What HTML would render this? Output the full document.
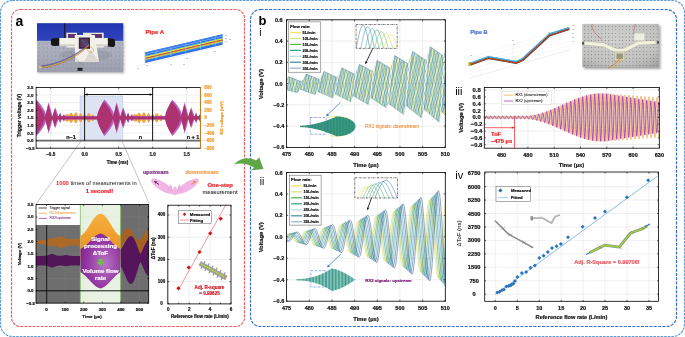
<!DOCTYPE html>
<html><head><meta charset="utf-8"><style>
html,body{margin:0;padding:0;background:#fff;}
svg{display:block;will-change:transform;}
text{font-family:"Liberation Sans",sans-serif;}
</style></head><body>
<svg width="685" height="337" viewBox="0 0 685 337">
<rect width="685" height="337" fill="#fff"/>
<rect x="0.5" y="0.5" width="684" height="336" rx="12" fill="none" stroke="#5b9bd5" stroke-width="1.2" stroke-dasharray="2.6 1"/>
<rect x="11.5" y="9.5" width="233" height="317" rx="9" fill="none" stroke="#ec6068" stroke-width="1.2" stroke-dasharray="3 1.1"/>
<rect x="250.5" y="9.5" width="426" height="317" rx="10" fill="none" stroke="#3a6ad0" stroke-width="1.2" stroke-dasharray="3 1.3"/>
<text x="19.5" y="21" font-size="14" font-weight="bold" fill="#000" text-anchor="middle" dominant-baseline="central" >a</text>
<text x="262.5" y="20.5" font-size="13" font-weight="bold" fill="#000" text-anchor="middle" dominant-baseline="central" >b</text>
<defs><linearGradient id="tblA" x1="0" y1="0" x2="0" y2="1"><stop offset="0" stop-color="#9096a6"/><stop offset="0.45" stop-color="#aeb2c0"/><stop offset="1" stop-color="#9ca0ae"/></linearGradient><linearGradient id="wallA" x1="0" y1="0" x2="0" y2="1"><stop offset="0" stop-color="#2236b0"/><stop offset="1" stop-color="#3044bc"/></linearGradient><filter id="shA" x="-10%" y="-10%" width="130%" height="130%"><feGaussianBlur stdDeviation="0.8"/></filter></defs>
<rect x="38.2" y="24.5" width="86.2" height="49" fill="#888" stroke="none" stroke-width="0.8" filter="url(#shA)" opacity="0.5"/>
<rect x="37" y="23.3" width="86.2" height="49" fill="url(#tblA)" stroke="none" stroke-width="0.8" />
<rect x="37" y="23.3" width="86.2" height="17.7" fill="url(#wallA)" stroke="none" stroke-width="0.8" />
<line x1="37" y1="41.2" x2="123.2" y2="41.2" stroke="#c0c4d0" stroke-width="0.6" />
<circle cx="39" cy="44" r="0.4" fill="#60646e"/>
<circle cx="43" cy="44" r="0.4" fill="#60646e"/>
<circle cx="47" cy="44" r="0.4" fill="#60646e"/>
<circle cx="51" cy="44" r="0.4" fill="#60646e"/>
<circle cx="55" cy="44" r="0.4" fill="#60646e"/>
<circle cx="59" cy="44" r="0.4" fill="#60646e"/>
<circle cx="63" cy="44" r="0.4" fill="#60646e"/>
<circle cx="67" cy="44" r="0.4" fill="#60646e"/>
<circle cx="71" cy="44" r="0.4" fill="#60646e"/>
<circle cx="75" cy="44" r="0.4" fill="#60646e"/>
<circle cx="79" cy="44" r="0.4" fill="#60646e"/>
<circle cx="83" cy="44" r="0.4" fill="#60646e"/>
<circle cx="87" cy="44" r="0.4" fill="#60646e"/>
<circle cx="91" cy="44" r="0.4" fill="#60646e"/>
<circle cx="95" cy="44" r="0.4" fill="#60646e"/>
<circle cx="99" cy="44" r="0.4" fill="#60646e"/>
<circle cx="103" cy="44" r="0.4" fill="#60646e"/>
<circle cx="107" cy="44" r="0.4" fill="#60646e"/>
<circle cx="111" cy="44" r="0.4" fill="#60646e"/>
<circle cx="115" cy="44" r="0.4" fill="#60646e"/>
<circle cx="119" cy="44" r="0.4" fill="#60646e"/>
<circle cx="123" cy="44" r="0.4" fill="#60646e"/>
<circle cx="39.8" cy="48" r="0.4" fill="#60646e"/>
<circle cx="43.8" cy="48" r="0.4" fill="#60646e"/>
<circle cx="47.8" cy="48" r="0.4" fill="#60646e"/>
<circle cx="51.8" cy="48" r="0.4" fill="#60646e"/>
<circle cx="55.8" cy="48" r="0.4" fill="#60646e"/>
<circle cx="59.8" cy="48" r="0.4" fill="#60646e"/>
<circle cx="63.8" cy="48" r="0.4" fill="#60646e"/>
<circle cx="67.8" cy="48" r="0.4" fill="#60646e"/>
<circle cx="71.8" cy="48" r="0.4" fill="#60646e"/>
<circle cx="75.8" cy="48" r="0.4" fill="#60646e"/>
<circle cx="79.8" cy="48" r="0.4" fill="#60646e"/>
<circle cx="83.8" cy="48" r="0.4" fill="#60646e"/>
<circle cx="87.8" cy="48" r="0.4" fill="#60646e"/>
<circle cx="91.8" cy="48" r="0.4" fill="#60646e"/>
<circle cx="95.8" cy="48" r="0.4" fill="#60646e"/>
<circle cx="99.8" cy="48" r="0.4" fill="#60646e"/>
<circle cx="103.8" cy="48" r="0.4" fill="#60646e"/>
<circle cx="107.8" cy="48" r="0.4" fill="#60646e"/>
<circle cx="111.8" cy="48" r="0.4" fill="#60646e"/>
<circle cx="115.8" cy="48" r="0.4" fill="#60646e"/>
<circle cx="119.8" cy="48" r="0.4" fill="#60646e"/>
<circle cx="123.8" cy="48" r="0.4" fill="#60646e"/>
<circle cx="39" cy="52" r="0.4" fill="#60646e"/>
<circle cx="43" cy="52" r="0.4" fill="#60646e"/>
<circle cx="47" cy="52" r="0.4" fill="#60646e"/>
<circle cx="51" cy="52" r="0.4" fill="#60646e"/>
<circle cx="55" cy="52" r="0.4" fill="#60646e"/>
<circle cx="59" cy="52" r="0.4" fill="#60646e"/>
<circle cx="63" cy="52" r="0.4" fill="#60646e"/>
<circle cx="67" cy="52" r="0.4" fill="#60646e"/>
<circle cx="71" cy="52" r="0.4" fill="#60646e"/>
<circle cx="75" cy="52" r="0.4" fill="#60646e"/>
<circle cx="79" cy="52" r="0.4" fill="#60646e"/>
<circle cx="83" cy="52" r="0.4" fill="#60646e"/>
<circle cx="87" cy="52" r="0.4" fill="#60646e"/>
<circle cx="91" cy="52" r="0.4" fill="#60646e"/>
<circle cx="95" cy="52" r="0.4" fill="#60646e"/>
<circle cx="99" cy="52" r="0.4" fill="#60646e"/>
<circle cx="103" cy="52" r="0.4" fill="#60646e"/>
<circle cx="107" cy="52" r="0.4" fill="#60646e"/>
<circle cx="111" cy="52" r="0.4" fill="#60646e"/>
<circle cx="115" cy="52" r="0.4" fill="#60646e"/>
<circle cx="119" cy="52" r="0.4" fill="#60646e"/>
<circle cx="123" cy="52" r="0.4" fill="#60646e"/>
<circle cx="39.8" cy="56" r="0.4" fill="#60646e"/>
<circle cx="43.8" cy="56" r="0.4" fill="#60646e"/>
<circle cx="47.8" cy="56" r="0.4" fill="#60646e"/>
<circle cx="51.8" cy="56" r="0.4" fill="#60646e"/>
<circle cx="55.8" cy="56" r="0.4" fill="#60646e"/>
<circle cx="59.8" cy="56" r="0.4" fill="#60646e"/>
<circle cx="63.8" cy="56" r="0.4" fill="#60646e"/>
<circle cx="67.8" cy="56" r="0.4" fill="#60646e"/>
<circle cx="71.8" cy="56" r="0.4" fill="#60646e"/>
<circle cx="75.8" cy="56" r="0.4" fill="#60646e"/>
<circle cx="79.8" cy="56" r="0.4" fill="#60646e"/>
<circle cx="83.8" cy="56" r="0.4" fill="#60646e"/>
<circle cx="87.8" cy="56" r="0.4" fill="#60646e"/>
<circle cx="91.8" cy="56" r="0.4" fill="#60646e"/>
<circle cx="95.8" cy="56" r="0.4" fill="#60646e"/>
<circle cx="99.8" cy="56" r="0.4" fill="#60646e"/>
<circle cx="103.8" cy="56" r="0.4" fill="#60646e"/>
<circle cx="107.8" cy="56" r="0.4" fill="#60646e"/>
<circle cx="111.8" cy="56" r="0.4" fill="#60646e"/>
<circle cx="115.8" cy="56" r="0.4" fill="#60646e"/>
<circle cx="119.8" cy="56" r="0.4" fill="#60646e"/>
<circle cx="123.8" cy="56" r="0.4" fill="#60646e"/>
<circle cx="39" cy="60" r="0.4" fill="#60646e"/>
<circle cx="43" cy="60" r="0.4" fill="#60646e"/>
<circle cx="47" cy="60" r="0.4" fill="#60646e"/>
<circle cx="51" cy="60" r="0.4" fill="#60646e"/>
<circle cx="55" cy="60" r="0.4" fill="#60646e"/>
<circle cx="59" cy="60" r="0.4" fill="#60646e"/>
<circle cx="63" cy="60" r="0.4" fill="#60646e"/>
<circle cx="67" cy="60" r="0.4" fill="#60646e"/>
<circle cx="71" cy="60" r="0.4" fill="#60646e"/>
<circle cx="75" cy="60" r="0.4" fill="#60646e"/>
<circle cx="79" cy="60" r="0.4" fill="#60646e"/>
<circle cx="83" cy="60" r="0.4" fill="#60646e"/>
<circle cx="87" cy="60" r="0.4" fill="#60646e"/>
<circle cx="91" cy="60" r="0.4" fill="#60646e"/>
<circle cx="95" cy="60" r="0.4" fill="#60646e"/>
<circle cx="99" cy="60" r="0.4" fill="#60646e"/>
<circle cx="103" cy="60" r="0.4" fill="#60646e"/>
<circle cx="107" cy="60" r="0.4" fill="#60646e"/>
<circle cx="111" cy="60" r="0.4" fill="#60646e"/>
<circle cx="115" cy="60" r="0.4" fill="#60646e"/>
<circle cx="119" cy="60" r="0.4" fill="#60646e"/>
<circle cx="123" cy="60" r="0.4" fill="#60646e"/>
<circle cx="39.8" cy="64" r="0.4" fill="#60646e"/>
<circle cx="43.8" cy="64" r="0.4" fill="#60646e"/>
<circle cx="47.8" cy="64" r="0.4" fill="#60646e"/>
<circle cx="51.8" cy="64" r="0.4" fill="#60646e"/>
<circle cx="55.8" cy="64" r="0.4" fill="#60646e"/>
<circle cx="59.8" cy="64" r="0.4" fill="#60646e"/>
<circle cx="63.8" cy="64" r="0.4" fill="#60646e"/>
<circle cx="67.8" cy="64" r="0.4" fill="#60646e"/>
<circle cx="71.8" cy="64" r="0.4" fill="#60646e"/>
<circle cx="75.8" cy="64" r="0.4" fill="#60646e"/>
<circle cx="79.8" cy="64" r="0.4" fill="#60646e"/>
<circle cx="83.8" cy="64" r="0.4" fill="#60646e"/>
<circle cx="87.8" cy="64" r="0.4" fill="#60646e"/>
<circle cx="91.8" cy="64" r="0.4" fill="#60646e"/>
<circle cx="95.8" cy="64" r="0.4" fill="#60646e"/>
<circle cx="99.8" cy="64" r="0.4" fill="#60646e"/>
<circle cx="103.8" cy="64" r="0.4" fill="#60646e"/>
<circle cx="107.8" cy="64" r="0.4" fill="#60646e"/>
<circle cx="111.8" cy="64" r="0.4" fill="#60646e"/>
<circle cx="115.8" cy="64" r="0.4" fill="#60646e"/>
<circle cx="119.8" cy="64" r="0.4" fill="#60646e"/>
<circle cx="123.8" cy="64" r="0.4" fill="#60646e"/>
<circle cx="39" cy="68" r="0.4" fill="#60646e"/>
<circle cx="43" cy="68" r="0.4" fill="#60646e"/>
<circle cx="47" cy="68" r="0.4" fill="#60646e"/>
<circle cx="51" cy="68" r="0.4" fill="#60646e"/>
<circle cx="55" cy="68" r="0.4" fill="#60646e"/>
<circle cx="59" cy="68" r="0.4" fill="#60646e"/>
<circle cx="63" cy="68" r="0.4" fill="#60646e"/>
<circle cx="67" cy="68" r="0.4" fill="#60646e"/>
<circle cx="71" cy="68" r="0.4" fill="#60646e"/>
<circle cx="75" cy="68" r="0.4" fill="#60646e"/>
<circle cx="79" cy="68" r="0.4" fill="#60646e"/>
<circle cx="83" cy="68" r="0.4" fill="#60646e"/>
<circle cx="87" cy="68" r="0.4" fill="#60646e"/>
<circle cx="91" cy="68" r="0.4" fill="#60646e"/>
<circle cx="95" cy="68" r="0.4" fill="#60646e"/>
<circle cx="99" cy="68" r="0.4" fill="#60646e"/>
<circle cx="103" cy="68" r="0.4" fill="#60646e"/>
<circle cx="107" cy="68" r="0.4" fill="#60646e"/>
<circle cx="111" cy="68" r="0.4" fill="#60646e"/>
<circle cx="115" cy="68" r="0.4" fill="#60646e"/>
<circle cx="119" cy="68" r="0.4" fill="#60646e"/>
<circle cx="123" cy="68" r="0.4" fill="#60646e"/>
<rect x="64.2" y="23.3" width="1" height="15.4" fill="#151515" stroke="none" stroke-width="0.8" />
<ellipse cx="86" cy="55" rx="26" ry="6" fill="#7a7e8c" opacity="0.25"/>
<rect x="66.4" y="32.7" width="10.6" height="14.9" fill="#e8e6de" stroke="none" stroke-width="0.8" />
<rect x="68" y="34" width="8" height="12" fill="#5e3470" stroke="none" stroke-width="0.8" />
<rect x="83" y="32.7" width="20.7" height="14.9" fill="#e8e6de" stroke="none" stroke-width="0.8" />
<rect x="91.5" y="34" width="10.5" height="12" fill="#5e3470" stroke="none" stroke-width="0.8" />
<rect x="59.2" y="38" width="48.7" height="7.8" fill="#f2f1ea" stroke="none" stroke-width="0.8" />
<rect x="59.2" y="44.3" width="48.7" height="1.5" fill="#d0cec4" stroke="none" stroke-width="0.8" />
<path d="M50.9,40 Q51,38.4 54,38.3 L59.2,38 L59.2,45.8 L54,46 Q51,45.8 50.9,44 Z" fill="#161616"/>
<path d="M107.9,38.3 L112,38.6 Q115,39 115,41 L115,45 Q115,47 112,47 L107.9,46.5 Z" fill="#161616"/>
<polygon points="74.7,35.1 94.8,35.1 99,61.8 75.2,61.8" fill="#f0efe8" stroke="none" stroke-width="0.5" />
<polygon points="90.5,50 99,61.8 84,61.8" fill="#dcdad0" stroke="none" stroke-width="0.5" />
<rect x="78.8" y="37.5" width="11.2" height="11.3" fill="#3a2240" stroke="none" stroke-width="0.8" />
<rect x="80.3" y="39" width="8.2" height="8.3" fill="#5a3a60" stroke="none" stroke-width="0.8" />
<path d="M82,40 C84,43 86,45 88,46" stroke="#30a060" stroke-width="0.5" fill="none"/>
<path d="M83,39.5 C85,42 87,44 89,45" stroke="#3060c0" stroke-width="0.5" fill="none"/>
<path d="M41,68 C56,66.5 76,58.5 89,45.6" stroke="#d03030" stroke-width="0.5" fill="none"/>
<path d="M41,67.58 C56,66.08 76,58.08 89,45.18" stroke="#f08a20" stroke-width="0.5" fill="none"/>
<path d="M41,67.16 C56,65.66 76,57.66 89,44.76" stroke="#e8d020" stroke-width="0.5" fill="none"/>
<path d="M41,66.74 C56,65.24 76,57.24 89,44.34" stroke="#40a040" stroke-width="0.5" fill="none"/>
<path d="M41,66.32 C56,64.82 76,56.82 89,43.92" stroke="#3060d0" stroke-width="0.5" fill="none"/>
<path d="M41,65.9 C56,64.4 76,56.4 89,43.5" stroke="#8030a0" stroke-width="0.5" fill="none"/>
<path d="M86.5,48 C88,53 92,53.5 93.6,51 C94,49 92,47 90,47" stroke="#e08030" stroke-width="0.5" fill="none"/>
<path d="M70,52 C74,56 78,62 84,66" stroke="#806050" stroke-width="0.35" fill="none"/>
<rect x="77.5" y="67.8" width="5" height="3" fill="#222" stroke="none" stroke-width="0.8" />
<rect x="39" y="66.6" width="3" height="1.8" fill="#e0c080" stroke="none" stroke-width="0.8" />
<text x="154.8" y="32" font-size="6" font-weight="bold" fill="#ee2222" stroke="#ee2222" stroke-width="0.2" text-anchor="middle" dominant-baseline="central" >Pipe A</text>
<line x1="144" y1="64.5" x2="222" y2="46" stroke="#d0d0d0" stroke-width="0.3" />
<line x1="144" y1="64.5" x2="135" y2="66.5" stroke="#d0d0d0" stroke-width="0.3" />
<polygon points="144.9,52.5 222.6,34.2 222.6,44.7 144.9,63" fill="#2f6fe8" stroke="none" stroke-width="0.5" />
<polygon points="144.9,54.2 222.6,35.9 222.6,36.4 144.9,54.7" fill="#9ad0f4" stroke="none" stroke-width="0.5" />
<polygon points="144.9,56 222.6,37.7 222.6,38.3 144.9,56.6" fill="#5cc8d8" stroke="none" stroke-width="0.5" />
<polygon points="144.9,56.6 222.6,38.3 222.6,39.6 144.9,57.9" fill="#ece83c" stroke="none" stroke-width="0.5" />
<polygon points="144.9,57.9 222.6,39.6 222.6,40.6 144.9,58.9" fill="#e8401a" stroke="none" stroke-width="0.5" />
<polygon points="144.9,58.9 222.6,40.6 222.6,41.7 144.9,60" fill="#f4cc30" stroke="none" stroke-width="0.5" />
<polygon points="144.9,60 222.6,41.7 222.6,42.3 144.9,60.6" fill="#7cd4a8" stroke="none" stroke-width="0.5" />
<polygon points="144.9,52.5 222.6,34.2 222.6,35.2 144.9,53.5" fill="#4a88f0" stroke="none" stroke-width="0.5" />
<line x1="156.1" y1="51.06" x2="156.1" y2="59.46" stroke="#70d8d8" stroke-width="0.7" />
<line x1="170.9" y1="47.58" x2="170.9" y2="55.98" stroke="#70d8d8" stroke-width="0.7" />
<line x1="185.7" y1="44.09" x2="185.7" y2="52.49" stroke="#70d8d8" stroke-width="0.7" />
<line x1="200.5" y1="40.61" x2="200.5" y2="49.01" stroke="#70d8d8" stroke-width="0.7" />
<line x1="215.3" y1="37.12" x2="215.3" y2="45.52" stroke="#70d8d8" stroke-width="0.7" />
<line x1="145.4" y1="54" x2="145.4" y2="62.5" stroke="#80d8c0" stroke-width="0.6" />
<rect x="225" y="35" width="2" height="0.6" fill="#999" stroke="none" stroke-width="0.8" />
<rect x="225" y="38.5" width="2" height="0.6" fill="#999" stroke="none" stroke-width="0.8" />
<rect x="225" y="41.5" width="2" height="0.6" fill="#999" stroke="none" stroke-width="0.8" />
<rect x="229" y="39" width="2" height="0.6" fill="#999" stroke="none" stroke-width="0.8" />
<rect x="146" y="65.5" width="2" height="0.6" fill="#999" stroke="none" stroke-width="0.8" />
<rect x="186" y="58" width="2" height="0.6" fill="#999" stroke="none" stroke-width="0.8" />
<rect x="170" y="64.5" width="2" height="0.6" fill="#999" stroke="none" stroke-width="0.8" />
<rect x="183" y="64.5" width="2" height="0.6" fill="#999" stroke="none" stroke-width="0.8" />
<rect x="214" y="51" width="2" height="0.6" fill="#999" stroke="none" stroke-width="0.8" />
<rect x="137" y="68.5" width="2" height="0.6" fill="#999" stroke="none" stroke-width="0.8" />
<line x1="50.7" y1="87.4" x2="50.7" y2="148.2" stroke="#dcdcdc" stroke-width="0.5" />
<line x1="84.7" y1="87.4" x2="84.7" y2="148.2" stroke="#dcdcdc" stroke-width="0.5" />
<line x1="118.7" y1="87.4" x2="118.7" y2="148.2" stroke="#dcdcdc" stroke-width="0.5" />
<line x1="152.7" y1="87.4" x2="152.7" y2="148.2" stroke="#dcdcdc" stroke-width="0.5" />
<line x1="186.7" y1="87.4" x2="186.7" y2="148.2" stroke="#dcdcdc" stroke-width="0.5" />
<line x1="36.1" y1="148.2" x2="200.4" y2="148.2" stroke="#dcdcdc" stroke-width="0.5" />
<line x1="36.1" y1="140.6" x2="200.4" y2="140.6" stroke="#dcdcdc" stroke-width="0.5" />
<line x1="36.1" y1="133" x2="200.4" y2="133" stroke="#dcdcdc" stroke-width="0.5" />
<line x1="36.1" y1="125.4" x2="200.4" y2="125.4" stroke="#dcdcdc" stroke-width="0.5" />
<line x1="36.1" y1="117.8" x2="200.4" y2="117.8" stroke="#dcdcdc" stroke-width="0.5" />
<line x1="36.1" y1="110.2" x2="200.4" y2="110.2" stroke="#dcdcdc" stroke-width="0.5" />
<line x1="36.1" y1="102.6" x2="200.4" y2="102.6" stroke="#dcdcdc" stroke-width="0.5" />
<line x1="36.1" y1="95" x2="200.4" y2="95" stroke="#dcdcdc" stroke-width="0.5" />
<line x1="36.1" y1="87.4" x2="200.4" y2="87.4" stroke="#dcdcdc" stroke-width="0.5" />
<rect x="80" y="96" width="42.8" height="44.5" fill="#dde3f2" stroke="#7080b0" stroke-width="0.4" stroke-dasharray="0.8 0.8"/>
<defs><clipPath id="cp1"><rect x="36.1" y="87.4" width="164.3" height="60.8"/></clipPath></defs>
<g clip-path="url(#cp1)">
<polygon points="36.1,116.28 36.33,116.28 36.57,116.28 36.8,116.28 37.04,116.28 37.27,116.28 37.51,116.28 37.74,116.28 37.98,116.28 38.21,116.28 38.45,116.28 38.68,116.28 38.92,116.28 39.15,116.28 39.39,116.28 39.62,116.28 39.86,116.28 40.09,116.28 40.32,116.28 40.56,116.28 40.79,116.28 41.03,116.28 41.26,116.28 41.5,116.28 41.73,116.28 41.97,116.28 42.2,116.28 42.44,116.28 42.67,116.28 42.91,116.28 43.14,116.28 43.38,116.28 43.61,116.28 43.85,116.28 44.08,116.28 44.31,116.28 44.55,116.28 44.78,116.28 45.02,116.28 45.25,116.28 45.49,116.28 45.72,116.28 45.96,116.28 46.19,116.28 46.43,116.28 46.66,116.28 46.9,116.28 47.13,116.28 47.37,116.28 47.6,116.28 47.84,116.28 48.07,116.28 48.31,116.28 48.54,116.28 48.77,116.28 49.01,116.28 49.24,116.28 49.48,116.28 49.71,116.28 49.95,116.28 50.18,116.28 50.42,116.28 50.65,116.28 50.89,116.28 51.12,116.28 51.36,116.28 51.59,116.28 51.83,116.28 52.06,116.28 52.3,116.28 52.53,116.28 52.76,116.28 53,116.28 53.23,116.28 53.47,116.28 53.7,116.28 53.94,116.28 54.17,116.28 54.41,116.28 54.64,116.28 54.88,116.28 55.11,116.28 55.35,116.28 55.58,116.28 55.82,116.28 56.05,116.28 56.29,116.28 56.52,116.28 56.75,116.28 56.99,116.28 57.22,116.28 57.46,116.28 57.69,116.28 57.93,116.28 58.16,116.28 58.4,116.28 58.63,116.28 58.87,116.28 59.1,116.28 59.34,116.28 59.57,116.28 59.81,116.28 60.04,116.28 60.28,116.28 60.51,116.28 60.75,116.28 60.98,116.28 61.21,116.28 61.45,116.28 61.68,116.28 61.92,116.28 62.15,116.28 62.39,116.28 62.62,116.28 62.86,116.28 63.09,116.28 63.33,116.28 63.56,116.28 63.8,116.28 64.03,116.28 64.27,116.28 64.5,116.28 64.74,116.11 64.97,115.54 65.2,115.09 65.44,114.73 65.67,114.47 65.91,114.28 66.14,114.18 66.38,114.15 66.61,114.2 66.85,114.33 67.08,114.3 67.32,114.21 67.55,114.16 67.79,114.15 68.02,114.19 68.26,114.27 68.49,114.4 68.73,114.57 68.96,114.79 69.19,115.06 69.43,114.8 69.66,114.2 69.9,113.72 70.13,113.33 70.37,113.03 70.6,112.81 70.84,112.68 71.07,112.63 71.31,112.66 71.54,112.78 71.78,112.97 72.01,113.25 72.25,113.62 72.48,114.08 72.72,114.65 72.95,114.9 73.18,115.07 73.42,115.31 73.65,115.63 73.89,115.63 74.12,114.82 74.36,114.15 74.59,113.61 74.83,113.17 75.06,112.83 75.3,112.57 75.53,112.41 75.77,112.33 76,112.34 76.24,112.44 76.47,112.62 76.71,112.89 76.94,113.25 77.18,113.71 77.41,114.28 77.64,114.97 77.88,115.82 78.11,116.28 78.35,116.28 78.58,116.28 78.82,116.28 79.05,115.57 79.29,114.88 79.52,114.33 79.76,113.91 79.99,113.59 80.23,113.38 80.46,113.26 80.7,113.25 80.93,113.32 81.17,113.5 81.4,113.78 81.63,114.17 81.87,114.67 82.1,115.3 82.34,116.11 82.57,116.28 82.81,116.28 83.04,116.26 83.28,115.66 83.51,115.18 83.75,114.8 83.98,114.52 84.22,114.32 84.45,114.2 84.69,114.15 84.92,114.19 85.16,114.3 85.39,114.49 85.62,114.77 85.86,115.13 86.09,115.59 86.33,116.18 86.56,116.28 86.8,116.03 87.03,115.34 87.27,114.78 87.5,114.33 87.74,113.96 87.97,113.67 88.21,113.45 88.44,113.31 88.68,113.25 88.91,113.25 89.15,113.33 89.38,113.47 89.61,113.69 89.85,113.99 90.08,114.37 90.32,114.84 90.55,115.42 90.79,116.12 91.02,116.28 91.26,116.25 91.49,115.73 91.73,115.31 91.96,114.99 92.2,114.74 92.43,114.57 92.67,114.48 92.9,114.46 93.14,114.5 93.37,114.62 93.61,114.82 93.84,115.09 94.07,115.44 94.31,115.89 94.54,116.28 94.78,116.28 95.01,116.28 95.25,116.28 95.48,116.28 95.72,116.28 95.95,116.28 96.19,116.28 96.42,116.28 96.66,116.28 96.89,116.28 97.13,116.28 97.36,116.28 97.6,116.28 97.83,116.28 98.06,116.28 98.3,116.28 98.53,116.28 98.77,116.28 99,116.28 99.24,116.28 99.47,116.28 99.71,116.28 99.94,116.28 100.18,116.28 100.41,116.28 100.65,116.28 100.88,116.28 101.12,116.28 101.35,116.28 101.59,116.28 101.82,116.28 102.05,116.28 102.29,116.28 102.52,116.28 102.76,116.28 102.99,116.28 103.23,116.28 103.46,116.28 103.7,116.28 103.93,116.28 104.17,116.28 104.4,116.28 104.64,116.28 104.87,116.28 105.11,116.28 105.34,116.28 105.58,116.28 105.81,116.28 106.04,116.28 106.28,116.28 106.51,116.28 106.75,116.28 106.98,116.28 107.22,116.28 107.45,116.28 107.69,116.28 107.92,116.28 108.16,116.28 108.39,116.28 108.63,116.28 108.86,116.28 109.1,116.28 109.33,116.28 109.57,116.28 109.8,116.28 110.03,116.28 110.27,116.28 110.5,116.28 110.74,116.28 110.97,116.28 111.21,116.28 111.44,116.28 111.68,116.28 111.91,116.28 112.15,116.28 112.38,116.28 112.62,116.28 112.85,116.28 113.09,116.28 113.32,116.28 113.56,116.28 113.79,116.28 114.03,116.28 114.26,116.28 114.49,116.28 114.73,116.28 114.96,116.28 115.2,116.28 115.43,116.28 115.67,116.28 115.9,116.28 116.14,116.28 116.37,116.28 116.61,116.28 116.84,116.28 117.08,116.28 117.31,116.28 117.55,116.28 117.78,116.28 118.02,116.28 118.25,116.28 118.48,116.28 118.72,116.28 118.95,116.28 119.19,116.28 119.42,116.28 119.66,116.28 119.89,116.28 120.13,116.28 120.36,116.28 120.6,116.28 120.83,116.28 121.07,116.28 121.3,116.28 121.54,116.28 121.77,116.28 122.01,116.28 122.24,116.28 122.47,116.28 122.71,116.28 122.94,116.28 123.18,116.28 123.41,116.28 123.65,116.28 123.88,116.28 124.12,116.28 124.35,116.28 124.59,116.28 124.82,116.28 125.06,116.28 125.29,116.28 125.53,116.28 125.76,116.28 126,116.28 126.23,116.28 126.47,116.28 126.7,116.28 126.93,116.28 127.17,116.28 127.4,116.28 127.64,116.28 127.87,116.28 128.11,116.28 128.34,116.28 128.58,116.28 128.81,116.28 129.05,116.28 129.28,116.28 129.52,116.28 129.75,116.28 129.99,116.28 130.22,116.28 130.46,116.28 130.69,116.28 130.92,116.28 131.16,116.28 131.39,116.28 131.63,116.28 131.86,116.28 132.1,116.28 132.33,116.28 132.57,116.28 132.8,115.94 133.04,115.4 133.27,114.98 133.51,114.65 133.74,114.41 133.98,114.25 134.21,114.16 134.45,114.16 134.68,114.23 134.91,114.39 135.15,114.27 135.38,114.19 135.62,114.15 135.85,114.16 136.09,114.21 136.32,114.31 136.56,114.45 136.79,114.63 137.03,114.87 137.26,115.15 137.5,114.61 137.73,114.05 137.97,113.59 138.2,113.23 138.44,112.96 138.67,112.77 138.9,112.66 139.14,112.63 139.37,112.69 139.61,112.82 139.84,113.04 140.08,113.34 140.31,113.74 140.55,114.23 140.78,114.82 141.02,114.94 141.25,115.13 141.49,115.39 141.72,115.73 141.96,115.38 142.19,114.62 142.43,113.99 142.66,113.47 142.9,113.06 143.13,112.74 143.36,112.52 143.6,112.38 143.83,112.33 144.07,112.36 144.3,112.48 144.54,112.69 144.77,112.98 145.01,113.37 145.24,113.86 145.48,114.47 145.71,115.2 145.95,116.1 146.18,116.28 146.42,116.28 146.65,116.28 146.89,116.17 147.12,115.35 147.35,114.71 147.59,114.2 147.82,113.8 148.06,113.52 148.29,113.33 148.53,113.25 148.76,113.26 149,113.37 149.23,113.57 149.47,113.88 149.7,114.3 149.94,114.84 150.17,115.51 150.41,116.28 150.64,116.28 150.88,116.28 151.11,116.07 151.34,115.51 151.58,115.06 151.81,114.71 152.05,114.45 152.28,114.27 152.52,114.18 152.75,114.15 152.99,114.21 153.22,114.34 153.46,114.56 153.69,114.86 153.93,115.25 154.16,115.75 154.4,116.28 154.63,116.28 154.87,115.82 155.1,115.17 155.33,114.64 155.57,114.21 155.8,113.86 156.04,113.6 156.27,113.41 156.51,113.29 156.74,113.24 156.98,113.27 157.21,113.36 157.45,113.53 157.68,113.77 157.92,114.09 158.15,114.5 158.39,115 158.62,115.6 158.86,116.28 159.09,116.28 159.32,116.09 159.56,115.6 159.79,115.21 160.03,114.91 160.26,114.69 160.5,114.54 160.73,114.47 160.97,114.46 161.2,114.53 161.44,114.67 161.67,114.89 161.91,115.18 162.14,115.56 162.38,116.04 162.61,116.28 162.85,116.28 163.08,116.28 163.32,116.28 163.55,116.28 163.78,116.28 164.02,116.28 164.25,116.28 164.49,116.28 164.72,116.28 164.96,116.28 165.19,116.28 165.43,116.28 165.66,116.28 165.9,116.28 166.13,116.28 166.37,116.28 166.6,116.28 166.84,116.28 167.07,116.28 167.31,116.28 167.54,116.28 167.77,116.28 168.01,116.28 168.24,116.28 168.48,116.28 168.71,116.28 168.95,116.28 169.18,116.28 169.42,116.28 169.65,116.28 169.89,116.28 170.12,116.28 170.36,116.28 170.59,116.28 170.83,116.28 171.06,116.28 171.3,116.28 171.53,116.28 171.76,116.28 172,116.28 172.23,116.28 172.47,116.28 172.7,116.28 172.94,116.28 173.17,116.28 173.41,116.28 173.64,116.28 173.88,116.28 174.11,116.28 174.35,116.28 174.58,116.28 174.82,116.28 175.05,116.28 175.29,116.28 175.52,116.28 175.75,116.28 175.99,116.28 176.22,116.28 176.46,116.28 176.69,116.28 176.93,116.28 177.16,116.28 177.4,116.28 177.63,116.28 177.87,116.28 178.1,116.28 178.34,116.28 178.57,116.28 178.81,116.28 179.04,116.28 179.28,116.28 179.51,116.28 179.75,116.28 179.98,116.28 180.21,116.28 180.45,116.28 180.68,116.28 180.92,116.28 181.15,116.28 181.39,116.28 181.62,116.28 181.86,116.28 182.09,116.28 182.33,116.28 182.56,116.28 182.8,116.28 183.03,116.28 183.27,116.28 183.5,116.28 183.74,116.28 183.97,116.28 184.2,116.28 184.44,116.28 184.67,116.28 184.91,116.28 185.14,116.28 185.38,116.28 185.61,116.28 185.85,116.28 186.08,116.28 186.32,116.28 186.55,116.28 186.79,116.28 187.02,116.28 187.26,116.28 187.49,116.28 187.73,116.28 187.96,116.28 188.19,116.28 188.43,116.28 188.66,116.28 188.9,116.28 189.13,116.28 189.37,116.28 189.6,116.28 189.84,116.28 190.07,116.28 190.31,116.28 190.54,116.28 190.78,116.28 191.01,116.28 191.25,116.28 191.48,116.28 191.72,116.28 191.95,116.28 192.19,116.28 192.42,116.28 192.65,116.28 192.89,116.28 193.12,116.28 193.36,116.28 193.59,116.28 193.83,116.28 194.06,116.28 194.3,116.28 194.53,116.28 194.77,116.28 195,116.28 195.24,116.28 195.47,116.28 195.71,116.28 195.94,116.28 196.18,116.28 196.41,116.28 196.64,116.28 196.88,116.28 197.11,116.28 197.35,116.28 197.58,116.28 197.82,116.28 198.05,116.28 198.29,116.28 198.52,116.28 198.76,116.28 198.99,116.28 199.23,116.28 199.46,116.28 199.7,116.28 199.93,116.28 200.17,116.28 200.4,116.28 200.4,119.32 200.17,119.32 199.93,119.32 199.7,119.32 199.46,119.32 199.23,119.32 198.99,119.32 198.76,119.32 198.52,119.32 198.29,119.32 198.05,119.32 197.82,119.32 197.58,119.32 197.35,119.32 197.11,119.32 196.88,119.32 196.64,119.32 196.41,119.32 196.18,119.32 195.94,119.32 195.71,119.32 195.47,119.32 195.24,119.32 195,119.32 194.77,119.32 194.53,119.32 194.3,119.32 194.06,119.32 193.83,119.32 193.59,119.32 193.36,119.32 193.12,119.32 192.89,119.32 192.65,119.32 192.42,119.32 192.19,119.32 191.95,119.32 191.72,119.32 191.48,119.32 191.25,119.32 191.01,119.32 190.78,119.32 190.54,119.32 190.31,119.32 190.07,119.32 189.84,119.32 189.6,119.32 189.37,119.32 189.13,119.32 188.9,119.32 188.66,119.32 188.43,119.32 188.19,119.32 187.96,119.32 187.73,119.32 187.49,119.32 187.26,119.32 187.02,119.32 186.79,119.32 186.55,119.32 186.32,119.32 186.08,119.32 185.85,119.32 185.61,119.32 185.38,119.32 185.14,119.32 184.91,119.32 184.67,119.32 184.44,119.32 184.2,119.32 183.97,119.32 183.74,119.32 183.5,119.32 183.27,119.32 183.03,119.32 182.8,119.32 182.56,119.32 182.33,119.32 182.09,119.32 181.86,119.32 181.62,119.32 181.39,119.32 181.15,119.32 180.92,119.32 180.68,119.32 180.45,119.32 180.21,119.32 179.98,119.32 179.75,119.32 179.51,119.32 179.28,119.32 179.04,119.32 178.81,119.32 178.57,119.32 178.34,119.32 178.1,119.32 177.87,119.32 177.63,119.32 177.4,119.32 177.16,119.32 176.93,119.32 176.69,119.32 176.46,119.32 176.22,119.32 175.99,119.32 175.75,119.32 175.52,119.32 175.29,119.32 175.05,119.32 174.82,119.32 174.58,119.32 174.35,119.32 174.11,119.32 173.88,119.32 173.64,119.32 173.41,119.32 173.17,119.32 172.94,119.32 172.7,119.32 172.47,119.32 172.23,119.32 172,119.32 171.76,119.32 171.53,119.32 171.3,119.32 171.06,119.32 170.83,119.32 170.59,119.32 170.36,119.32 170.12,119.32 169.89,119.32 169.65,119.32 169.42,119.32 169.18,119.32 168.95,119.32 168.71,119.32 168.48,119.32 168.24,119.32 168.01,119.32 167.77,119.32 167.54,119.32 167.31,119.32 167.07,119.32 166.84,119.32 166.6,119.32 166.37,119.32 166.13,119.32 165.9,119.32 165.66,119.32 165.43,119.32 165.19,119.32 164.96,119.32 164.72,119.32 164.49,119.32 164.25,119.32 164.02,119.32 163.78,119.32 163.55,119.32 163.32,119.32 163.08,119.32 162.85,119.32 162.61,119.32 162.38,119.56 162.14,120.04 161.91,120.42 161.67,120.71 161.44,120.93 161.2,121.07 160.97,121.14 160.73,121.13 160.5,121.06 160.26,120.91 160.03,120.69 159.79,120.39 159.56,120 159.32,119.51 159.09,119.32 158.86,119.32 158.62,120 158.39,120.6 158.15,121.1 157.92,121.51 157.68,121.83 157.45,122.07 157.21,122.24 156.98,122.33 156.74,122.36 156.51,122.31 156.27,122.19 156.04,122 155.8,121.74 155.57,121.39 155.33,120.96 155.1,120.43 154.87,119.78 154.63,119.32 154.4,119.32 154.16,119.85 153.93,120.35 153.69,120.74 153.46,121.04 153.22,121.26 152.99,121.39 152.75,121.45 152.52,121.42 152.28,121.33 152.05,121.15 151.81,120.89 151.58,120.54 151.34,120.09 151.11,119.53 150.88,119.32 150.64,119.32 150.41,119.32 150.17,120.09 149.94,120.76 149.7,121.3 149.47,121.72 149.23,122.03 149,122.23 148.76,122.34 148.53,122.35 148.29,122.27 148.06,122.08 147.82,121.8 147.59,121.4 147.35,120.89 147.12,120.25 146.89,119.43 146.65,119.32 146.42,119.32 146.18,119.32 145.95,119.5 145.71,120.4 145.48,121.13 145.24,121.74 145.01,122.23 144.77,122.62 144.54,122.91 144.3,123.12 144.07,123.24 143.83,123.27 143.6,123.22 143.36,123.08 143.13,122.86 142.9,122.54 142.66,122.13 142.43,121.61 142.19,120.98 141.96,120.22 141.72,119.87 141.49,120.21 141.25,120.47 141.02,120.66 140.78,120.78 140.55,121.37 140.31,121.86 140.08,122.26 139.84,122.56 139.61,122.78 139.37,122.91 139.14,122.97 138.9,122.94 138.67,122.83 138.44,122.64 138.2,122.37 137.97,122.01 137.73,121.55 137.5,120.99 137.26,120.45 137.03,120.73 136.79,120.97 136.56,121.15 136.32,121.29 136.09,121.39 135.85,121.44 135.62,121.45 135.38,121.41 135.15,121.33 134.91,121.21 134.68,121.37 134.45,121.44 134.21,121.44 133.98,121.35 133.74,121.19 133.51,120.95 133.27,120.62 133.04,120.2 132.8,119.66 132.57,119.32 132.33,119.32 132.1,119.32 131.86,119.32 131.63,119.32 131.39,119.32 131.16,119.32 130.92,119.32 130.69,119.32 130.46,119.32 130.22,119.32 129.99,119.32 129.75,119.32 129.52,119.32 129.28,119.32 129.05,119.32 128.81,119.32 128.58,119.32 128.34,119.32 128.11,119.32 127.87,119.32 127.64,119.32 127.4,119.32 127.17,119.32 126.93,119.32 126.7,119.32 126.47,119.32 126.23,119.32 126,119.32 125.76,119.32 125.53,119.32 125.29,119.32 125.06,119.32 124.82,119.32 124.59,119.32 124.35,119.32 124.12,119.32 123.88,119.32 123.65,119.32 123.41,119.32 123.18,119.32 122.94,119.32 122.71,119.32 122.47,119.32 122.24,119.32 122.01,119.32 121.77,119.32 121.54,119.32 121.3,119.32 121.07,119.32 120.83,119.32 120.6,119.32 120.36,119.32 120.13,119.32 119.89,119.32 119.66,119.32 119.42,119.32 119.19,119.32 118.95,119.32 118.72,119.32 118.48,119.32 118.25,119.32 118.02,119.32 117.78,119.32 117.55,119.32 117.31,119.32 117.08,119.32 116.84,119.32 116.61,119.32 116.37,119.32 116.14,119.32 115.9,119.32 115.67,119.32 115.43,119.32 115.2,119.32 114.96,119.32 114.73,119.32 114.49,119.32 114.26,119.32 114.03,119.32 113.79,119.32 113.56,119.32 113.32,119.32 113.09,119.32 112.85,119.32 112.62,119.32 112.38,119.32 112.15,119.32 111.91,119.32 111.68,119.32 111.44,119.32 111.21,119.32 110.97,119.32 110.74,119.32 110.5,119.32 110.27,119.32 110.03,119.32 109.8,119.32 109.57,119.32 109.33,119.32 109.1,119.32 108.86,119.32 108.63,119.32 108.39,119.32 108.16,119.32 107.92,119.32 107.69,119.32 107.45,119.32 107.22,119.32 106.98,119.32 106.75,119.32 106.51,119.32 106.28,119.32 106.04,119.32 105.81,119.32 105.58,119.32 105.34,119.32 105.11,119.32 104.87,119.32 104.64,119.32 104.4,119.32 104.17,119.32 103.93,119.32 103.7,119.32 103.46,119.32 103.23,119.32 102.99,119.32 102.76,119.32 102.52,119.32 102.29,119.32 102.05,119.32 101.82,119.32 101.59,119.32 101.35,119.32 101.12,119.32 100.88,119.32 100.65,119.32 100.41,119.32 100.18,119.32 99.94,119.32 99.71,119.32 99.47,119.32 99.24,119.32 99,119.32 98.77,119.32 98.53,119.32 98.3,119.32 98.06,119.32 97.83,119.32 97.6,119.32 97.36,119.32 97.13,119.32 96.89,119.32 96.66,119.32 96.42,119.32 96.19,119.32 95.95,119.32 95.72,119.32 95.48,119.32 95.25,119.32 95.01,119.32 94.78,119.32 94.54,119.32 94.31,119.71 94.07,120.16 93.84,120.51 93.61,120.78 93.37,120.98 93.14,121.1 92.9,121.14 92.67,121.12 92.43,121.03 92.2,120.86 91.96,120.61 91.73,120.29 91.49,119.87 91.26,119.35 91.02,119.32 90.79,119.48 90.55,120.18 90.32,120.76 90.08,121.23 89.85,121.61 89.61,121.91 89.38,122.13 89.15,122.27 88.91,122.35 88.68,122.35 88.44,122.29 88.21,122.15 87.97,121.93 87.74,121.64 87.5,121.27 87.27,120.82 87.03,120.26 86.8,119.57 86.56,119.32 86.33,119.42 86.09,120.01 85.86,120.47 85.62,120.83 85.39,121.11 85.16,121.3 84.92,121.41 84.69,121.45 84.45,121.4 84.22,121.28 83.98,121.08 83.75,120.8 83.51,120.42 83.28,119.94 83.04,119.34 82.81,119.32 82.57,119.32 82.34,119.49 82.1,120.3 81.87,120.93 81.63,121.43 81.4,121.82 81.17,122.1 80.93,122.28 80.7,122.35 80.46,122.34 80.23,122.22 79.99,122.01 79.76,121.69 79.52,121.27 79.29,120.72 79.05,120.03 78.82,119.32 78.58,119.32 78.35,119.32 78.11,119.32 77.88,119.78 77.64,120.63 77.41,121.32 77.18,121.89 76.94,122.35 76.71,122.71 76.47,122.98 76.24,123.16 76,123.26 75.77,123.27 75.53,123.19 75.3,123.03 75.06,122.77 74.83,122.43 74.59,121.99 74.36,121.45 74.12,120.78 73.89,119.97 73.65,119.97 73.42,120.29 73.18,120.53 72.95,120.7 72.72,120.95 72.48,121.52 72.25,121.98 72.01,122.35 71.78,122.63 71.54,122.82 71.31,122.94 71.07,122.97 70.84,122.92 70.6,122.79 70.37,122.57 70.13,122.27 69.9,121.88 69.66,121.4 69.43,120.8 69.19,120.54 68.96,120.81 68.73,121.03 68.49,121.2 68.26,121.33 68.02,121.41 67.79,121.45 67.55,121.44 67.32,121.39 67.08,121.3 66.85,121.27 66.61,121.4 66.38,121.45 66.14,121.42 65.91,121.32 65.67,121.13 65.44,120.87 65.2,120.51 64.97,120.06 64.74,119.49 64.5,119.32 64.27,119.32 64.03,119.32 63.8,119.32 63.56,119.32 63.33,119.32 63.09,119.32 62.86,119.32 62.62,119.32 62.39,119.32 62.15,119.32 61.92,119.32 61.68,119.32 61.45,119.32 61.21,119.32 60.98,119.32 60.75,119.32 60.51,119.32 60.28,119.32 60.04,119.32 59.81,119.32 59.57,119.32 59.34,119.32 59.1,119.32 58.87,119.32 58.63,119.32 58.4,119.32 58.16,119.32 57.93,119.32 57.69,119.32 57.46,119.32 57.22,119.32 56.99,119.32 56.75,119.32 56.52,119.32 56.29,119.32 56.05,119.32 55.82,119.32 55.58,119.32 55.35,119.32 55.11,119.32 54.88,119.32 54.64,119.32 54.41,119.32 54.17,119.32 53.94,119.32 53.7,119.32 53.47,119.32 53.23,119.32 53,119.32 52.76,119.32 52.53,119.32 52.3,119.32 52.06,119.32 51.83,119.32 51.59,119.32 51.36,119.32 51.12,119.32 50.89,119.32 50.65,119.32 50.42,119.32 50.18,119.32 49.95,119.32 49.71,119.32 49.48,119.32 49.24,119.32 49.01,119.32 48.77,119.32 48.54,119.32 48.31,119.32 48.07,119.32 47.84,119.32 47.6,119.32 47.37,119.32 47.13,119.32 46.9,119.32 46.66,119.32 46.43,119.32 46.19,119.32 45.96,119.32 45.72,119.32 45.49,119.32 45.25,119.32 45.02,119.32 44.78,119.32 44.55,119.32 44.31,119.32 44.08,119.32 43.85,119.32 43.61,119.32 43.38,119.32 43.14,119.32 42.91,119.32 42.67,119.32 42.44,119.32 42.2,119.32 41.97,119.32 41.73,119.32 41.5,119.32 41.26,119.32 41.03,119.32 40.79,119.32 40.56,119.32 40.32,119.32 40.09,119.32 39.86,119.32 39.62,119.32 39.39,119.32 39.15,119.32 38.92,119.32 38.68,119.32 38.45,119.32 38.21,119.32 37.98,119.32 37.74,119.32 37.51,119.32 37.27,119.32 37.04,119.32 36.8,119.32 36.57,119.32 36.33,119.32 36.1,119.32" fill="#f2a23a" stroke="none" stroke-width="0.5" />
<polygon points="36.1,100.08 36.33,99.7 36.57,99.72 36.8,99.98 37.04,100.23 37.27,100.49 37.51,100.75 37.74,101.02 37.98,101.29 38.21,101.56 38.45,101.83 38.68,102.11 38.92,102.39 39.15,102.67 39.39,102.96 39.62,103.25 39.86,103.54 40.09,103.84 40.32,104.15 40.56,104.45 40.79,104.77 41.03,105.08 41.26,105.41 41.5,105.74 41.73,106.07 41.97,106.41 42.2,106.76 42.44,107.12 42.67,107.48 42.91,107.85 43.14,108.23 43.38,108.63 43.61,109.03 43.85,109.45 44.08,109.88 44.31,110.33 44.55,110.79 44.78,111.28 45.02,111.8 45.25,112.34 45.49,112.92 45.72,113.56 45.96,113.79 46.19,112.73 46.43,111.67 46.66,110.63 46.9,109.6 47.13,108.57 47.37,107.54 47.6,106.53 47.84,105.52 48.07,104.51 48.31,103.5 48.54,102.5 48.77,102.4 49.01,103.24 49.24,104.08 49.48,104.92 49.71,105.77 49.95,106.62 50.18,107.47 50.42,108.33 50.65,109.19 50.89,110.06 51.12,110.93 51.36,111.8 51.59,112.69 51.83,113.58 52.06,114.48 52.3,115.4 52.53,115.98 52.76,115.41 53,114.57 53.23,113.75 53.47,112.94 53.7,112.14 53.94,111.34 54.17,110.54 54.41,109.76 54.64,108.97 54.88,108.19 55.11,107.41 55.35,107.59 55.58,108.23 55.82,108.86 56.05,109.51 56.29,110.15 56.52,110.8 56.75,111.45 56.99,112.1 57.22,112.76 57.46,113.42 57.69,114.09 57.93,114.76 58.16,115.44 58.4,115.98 58.63,115.98 58.87,115.8 59.1,115.24 59.34,114.66 59.57,114.06 59.81,113.45 60.04,112.82 60.28,112.48 60.51,113.12 60.75,113.74 60.98,114.35 61.21,114.94 61.45,115.51 61.68,115.98 61.92,115.98 62.15,115.98 62.39,115.98 62.62,115.98 62.86,115.93 63.09,115.51 63.33,115.07 63.56,114.63 63.8,114.17 64.03,113.99 64.27,114.45 64.5,114.9 64.74,115.34 64.97,115.76 65.2,115.98 65.44,115.98 65.67,115.98 65.91,115.98 66.14,115.98 66.38,115.98 66.61,115.98 66.85,115.98 67.08,115.98 67.32,115.98 67.55,115.98 67.79,115.98 68.02,115.98 68.26,115.98 68.49,115.98 68.73,115.98 68.96,115.98 69.19,115.98 69.43,115.98 69.66,115.98 69.9,115.98 70.13,115.98 70.37,115.98 70.6,115.98 70.84,115.98 71.07,115.98 71.31,115.98 71.54,115.98 71.78,115.98 72.01,115.98 72.25,115.98 72.48,115.98 72.72,115.98 72.95,115.98 73.18,115.98 73.42,115.98 73.65,115.98 73.89,115.98 74.12,115.98 74.36,115.98 74.59,115.98 74.83,115.98 75.06,115.98 75.3,115.98 75.53,115.98 75.77,115.98 76,115.98 76.24,115.98 76.47,115.98 76.71,115.98 76.94,115.98 77.18,115.98 77.41,115.98 77.64,115.98 77.88,115.98 78.11,115.98 78.35,115.98 78.58,115.98 78.82,115.98 79.05,115.98 79.29,115.98 79.52,115.98 79.76,115.98 79.99,115.98 80.23,115.98 80.46,115.98 80.7,115.98 80.93,115.98 81.17,115.98 81.4,115.98 81.63,115.98 81.87,115.98 82.1,115.98 82.34,115.98 82.57,115.98 82.81,115.98 83.04,115.98 83.28,115.98 83.51,115.98 83.75,115.98 83.98,115.98 84.22,115.98 84.45,115.98 84.69,115.98 84.92,115.98 85.16,115.98 85.39,115.98 85.62,115.98 85.86,115.98 86.09,115.98 86.33,115.98 86.56,115.98 86.8,115.98 87.03,115.98 87.27,115.98 87.5,115.98 87.74,115.98 87.97,115.98 88.21,115.98 88.44,115.98 88.68,115.98 88.91,115.98 89.15,115.98 89.38,115.98 89.61,115.98 89.85,115.98 90.08,115.98 90.32,115.98 90.55,115.98 90.79,115.98 91.02,115.98 91.26,115.98 91.49,115.98 91.73,115.98 91.96,115.98 92.2,115.98 92.43,115.98 92.67,115.98 92.9,115.98 93.14,115.98 93.37,115.98 93.61,115.98 93.84,115.98 94.07,115.98 94.31,115.98 94.54,115.98 94.78,115.98 95.01,115.98 95.25,115.98 95.48,115.98 95.72,115.98 95.95,115.98 96.19,115.98 96.42,115.98 96.66,115.98 96.89,115.98 97.13,115.98 97.36,115.98 97.6,115.98 97.83,115.54 98.06,114.25 98.3,113.22 98.53,112.33 98.77,111.52 99,110.78 99.24,110.09 99.47,109.44 99.71,108.82 99.94,108.23 100.18,107.66 100.41,107.11 100.65,106.58 100.88,106.06 101.12,105.56 101.35,105.08 101.59,104.6 101.82,104.14 102.05,103.69 102.29,103.24 102.52,102.81 102.76,102.38 102.99,101.96 103.23,101.55 103.46,101.15 103.7,100.75 103.93,100.36 104.17,99.97 104.4,99.59 104.64,99.79 104.87,100.05 105.11,100.31 105.34,100.57 105.58,100.83 105.81,101.1 106.04,101.36 106.28,101.63 106.51,101.91 106.75,102.19 106.98,102.47 107.22,102.75 107.45,103.04 107.69,103.33 107.92,103.63 108.16,103.93 108.39,104.23 108.63,104.54 108.86,104.86 109.1,105.18 109.33,105.5 109.57,105.83 109.8,106.17 110.03,106.51 110.27,106.86 110.5,107.22 110.74,107.59 110.97,107.96 111.21,108.35 111.44,108.74 111.68,109.15 111.91,109.57 112.15,110.01 112.38,110.46 112.62,110.93 112.85,111.43 113.09,111.95 113.32,112.5 113.56,113.1 113.79,113.75 114.03,113.49 114.26,112.43 114.49,111.38 114.73,110.33 114.96,109.3 115.2,108.27 115.43,107.25 115.67,106.24 115.9,105.23 116.14,104.22 116.37,103.22 116.61,102.22 116.84,102.64 117.08,103.48 117.31,104.32 117.55,105.17 117.78,106.01 118.02,106.86 118.25,107.72 118.48,108.58 118.72,109.44 118.95,110.31 119.19,111.18 119.42,112.06 119.66,112.94 119.89,113.84 120.13,114.74 120.36,115.66 120.6,115.98 120.83,115.17 121.07,114.34 121.3,113.52 121.54,112.71 121.77,111.91 122.01,111.11 122.24,110.32 122.47,109.53 122.71,108.75 122.94,107.97 123.18,107.19 123.41,107.77 123.65,108.41 123.88,109.05 124.12,109.69 124.35,110.34 124.59,110.98 124.82,111.63 125.06,112.29 125.29,112.95 125.53,113.61 125.76,114.28 126,114.96 126.23,115.64 126.47,115.98 126.7,115.98 126.93,115.65 127.17,115.08 127.4,114.49 127.64,113.89 127.87,113.27 128.11,112.64 128.34,112.66 128.58,113.3 128.81,113.92 129.05,114.52 129.28,115.11 129.52,115.67 129.75,115.98 129.99,115.98 130.22,115.98 130.46,115.98 130.69,115.98 130.92,115.81 131.16,115.38 131.39,114.95 131.63,114.5 131.86,114.04 132.1,114.12 132.33,114.58 132.57,115.03 132.8,115.46 133.04,115.88 133.27,115.98 133.51,115.98 133.74,115.98 133.98,115.98 134.21,115.98 134.45,115.98 134.68,115.98 134.91,115.98 135.15,115.98 135.38,115.98 135.62,115.98 135.85,115.98 136.09,115.98 136.32,115.98 136.56,115.98 136.79,115.98 137.03,115.98 137.26,115.98 137.5,115.98 137.73,115.98 137.97,115.98 138.2,115.98 138.44,115.98 138.67,115.98 138.9,115.98 139.14,115.98 139.37,115.98 139.61,115.98 139.84,115.98 140.08,115.98 140.31,115.98 140.55,115.98 140.78,115.98 141.02,115.98 141.25,115.98 141.49,115.98 141.72,115.98 141.96,115.98 142.19,115.98 142.43,115.98 142.66,115.98 142.9,115.98 143.13,115.98 143.36,115.98 143.6,115.98 143.83,115.98 144.07,115.98 144.3,115.98 144.54,115.98 144.77,115.98 145.01,115.98 145.24,115.98 145.48,115.98 145.71,115.98 145.95,115.98 146.18,115.98 146.42,115.98 146.65,115.98 146.89,115.98 147.12,115.98 147.35,115.98 147.59,115.98 147.82,115.98 148.06,115.98 148.29,115.98 148.53,115.98 148.76,115.98 149,115.98 149.23,115.98 149.47,115.98 149.7,115.98 149.94,115.98 150.17,115.98 150.41,115.98 150.64,115.98 150.88,115.98 151.11,115.98 151.34,115.98 151.58,115.98 151.81,115.98 152.05,115.98 152.28,115.98 152.52,115.98 152.75,115.98 152.99,115.98 153.22,115.98 153.46,115.98 153.69,115.98 153.93,115.98 154.16,115.98 154.4,115.98 154.63,115.98 154.87,115.98 155.1,115.98 155.33,115.98 155.57,115.98 155.8,115.98 156.04,115.98 156.27,115.98 156.51,115.98 156.74,115.98 156.98,115.98 157.21,115.98 157.45,115.98 157.68,115.98 157.92,115.98 158.15,115.98 158.39,115.98 158.62,115.98 158.86,115.98 159.09,115.98 159.32,115.98 159.56,115.98 159.79,115.98 160.03,115.98 160.26,115.98 160.5,115.98 160.73,115.98 160.97,115.98 161.2,115.98 161.44,115.98 161.67,115.98 161.91,115.98 162.14,115.98 162.38,115.98 162.61,115.98 162.85,115.98 163.08,115.98 163.32,115.98 163.55,115.98 163.78,115.98 164.02,115.98 164.25,115.98 164.49,115.98 164.72,115.98 164.96,115.98 165.19,115.98 165.43,115.98 165.66,115.98 165.9,115.13 166.13,113.94 166.37,112.95 166.6,112.09 166.84,111.31 167.07,110.58 167.31,109.9 167.54,109.26 167.77,108.65 168.01,108.06 168.24,107.5 168.48,106.95 168.71,106.43 168.95,105.92 169.18,105.42 169.42,104.94 169.65,104.47 169.89,104.01 170.12,103.56 170.36,103.12 170.59,102.69 170.83,102.26 171.06,101.84 171.3,101.43 171.53,101.03 171.76,100.64 172,100.25 172.23,99.86 172.47,99.61 172.7,99.87 172.94,100.12 173.17,100.38 173.41,100.64 173.64,100.91 173.88,101.17 174.11,101.44 174.35,101.71 174.58,101.99 174.82,102.27 175.05,102.55 175.29,102.83 175.52,103.12 175.75,103.42 175.99,103.71 176.22,104.02 176.46,104.32 176.69,104.63 176.93,104.95 177.16,105.27 177.4,105.59 177.63,105.93 177.87,106.26 178.1,106.61 178.34,106.96 178.57,107.32 178.81,107.69 179.04,108.07 179.28,108.46 179.51,108.86 179.75,109.27 179.98,109.69 180.21,110.13 180.45,110.59 180.68,111.07 180.92,111.57 181.15,112.1 181.39,112.67 181.62,113.28 181.86,113.95 182.09,113.18 182.33,112.12 182.56,111.08 182.8,110.04 183.03,109.01 183.27,107.98 183.5,106.96 183.74,105.95 183.97,104.94 184.2,103.93 184.44,102.93 184.67,102.04 184.91,102.88 185.14,103.72 185.38,104.56 185.61,105.41 185.85,106.26 186.08,107.11 186.32,107.96 186.55,108.82 186.79,109.69 187.02,110.55 187.26,111.43 187.49,112.31 187.73,113.2 187.96,114.09 188.19,115 188.43,115.93 188.66,115.77 188.9,114.93 189.13,114.1 189.37,113.29 189.6,112.48 189.84,111.68 190.07,110.88 190.31,110.09 190.54,109.31 190.78,108.52 191.01,107.74 191.25,107.32 191.48,107.95 191.72,108.59 191.95,109.23 192.19,109.87 192.42,110.52 192.65,111.17 192.89,111.82 193.12,112.48 193.36,113.14 193.59,113.8 193.83,114.47 194.06,115.15 194.3,115.84 194.53,115.98 194.77,115.98 195,115.49 195.24,114.91 195.47,114.32 195.71,113.71 195.94,113.09 196.18,112.45 196.41,112.85 196.64,113.48 196.88,114.09 197.11,114.69 197.35,115.27 197.58,115.83 197.82,115.98 198.05,115.98 198.29,115.98 198.52,115.98 198.76,115.98 198.99,115.69 199.23,115.26 199.46,114.82 199.7,114.37 199.93,113.91 200.17,114.25 200.4,114.71 200.4,120.89 200.17,121.35 199.93,121.69 199.7,121.23 199.46,120.78 199.23,120.34 198.99,119.91 198.76,119.62 198.52,119.62 198.29,119.62 198.05,119.62 197.82,119.62 197.58,119.77 197.35,120.33 197.11,120.91 196.88,121.51 196.64,122.12 196.41,122.75 196.18,123.15 195.94,122.51 195.71,121.89 195.47,121.28 195.24,120.69 195,120.11 194.77,119.62 194.53,119.62 194.3,119.76 194.06,120.45 193.83,121.13 193.59,121.8 193.36,122.46 193.12,123.12 192.89,123.78 192.65,124.43 192.42,125.08 192.19,125.73 191.95,126.37 191.72,127.01 191.48,127.65 191.25,128.28 191.01,127.86 190.78,127.08 190.54,126.29 190.31,125.51 190.07,124.72 189.84,123.92 189.6,123.12 189.37,122.31 189.13,121.5 188.9,120.67 188.66,119.83 188.43,119.67 188.19,120.6 187.96,121.51 187.73,122.4 187.49,123.29 187.26,124.17 187.02,125.05 186.79,125.91 186.55,126.78 186.32,127.64 186.08,128.49 185.85,129.34 185.61,130.19 185.38,131.04 185.14,131.88 184.91,132.72 184.67,133.56 184.44,132.67 184.2,131.67 183.97,130.66 183.74,129.65 183.5,128.64 183.27,127.62 183.03,126.59 182.8,125.56 182.56,124.52 182.33,123.48 182.09,122.42 181.86,121.65 181.62,122.32 181.39,122.93 181.15,123.5 180.92,124.03 180.68,124.53 180.45,125.01 180.21,125.47 179.98,125.91 179.75,126.33 179.51,126.74 179.28,127.14 179.04,127.53 178.81,127.91 178.57,128.28 178.34,128.64 178.1,128.99 177.87,129.34 177.63,129.67 177.4,130.01 177.16,130.33 176.93,130.65 176.69,130.97 176.46,131.28 176.22,131.58 175.99,131.89 175.75,132.18 175.52,132.48 175.29,132.77 175.05,133.05 174.82,133.33 174.58,133.61 174.35,133.89 174.11,134.16 173.88,134.43 173.64,134.69 173.41,134.96 173.17,135.22 172.94,135.48 172.7,135.73 172.47,135.99 172.23,135.74 172,135.35 171.76,134.96 171.53,134.57 171.3,134.17 171.06,133.76 170.83,133.34 170.59,132.91 170.36,132.48 170.12,132.04 169.89,131.59 169.65,131.13 169.42,130.66 169.18,130.18 168.95,129.68 168.71,129.17 168.48,128.65 168.24,128.1 168.01,127.54 167.77,126.95 167.54,126.34 167.31,125.7 167.07,125.02 166.84,124.29 166.6,123.51 166.37,122.65 166.13,121.66 165.9,120.47 165.66,119.62 165.43,119.62 165.19,119.62 164.96,119.62 164.72,119.62 164.49,119.62 164.25,119.62 164.02,119.62 163.78,119.62 163.55,119.62 163.32,119.62 163.08,119.62 162.85,119.62 162.61,119.62 162.38,119.62 162.14,119.62 161.91,119.62 161.67,119.62 161.44,119.62 161.2,119.62 160.97,119.62 160.73,119.62 160.5,119.62 160.26,119.62 160.03,119.62 159.79,119.62 159.56,119.62 159.32,119.62 159.09,119.62 158.86,119.62 158.62,119.62 158.39,119.62 158.15,119.62 157.92,119.62 157.68,119.62 157.45,119.62 157.21,119.62 156.98,119.62 156.74,119.62 156.51,119.62 156.27,119.62 156.04,119.62 155.8,119.62 155.57,119.62 155.33,119.62 155.1,119.62 154.87,119.62 154.63,119.62 154.4,119.62 154.16,119.62 153.93,119.62 153.69,119.62 153.46,119.62 153.22,119.62 152.99,119.62 152.75,119.62 152.52,119.62 152.28,119.62 152.05,119.62 151.81,119.62 151.58,119.62 151.34,119.62 151.11,119.62 150.88,119.62 150.64,119.62 150.41,119.62 150.17,119.62 149.94,119.62 149.7,119.62 149.47,119.62 149.23,119.62 149,119.62 148.76,119.62 148.53,119.62 148.29,119.62 148.06,119.62 147.82,119.62 147.59,119.62 147.35,119.62 147.12,119.62 146.89,119.62 146.65,119.62 146.42,119.62 146.18,119.62 145.95,119.62 145.71,119.62 145.48,119.62 145.24,119.62 145.01,119.62 144.77,119.62 144.54,119.62 144.3,119.62 144.07,119.62 143.83,119.62 143.6,119.62 143.36,119.62 143.13,119.62 142.9,119.62 142.66,119.62 142.43,119.62 142.19,119.62 141.96,119.62 141.72,119.62 141.49,119.62 141.25,119.62 141.02,119.62 140.78,119.62 140.55,119.62 140.31,119.62 140.08,119.62 139.84,119.62 139.61,119.62 139.37,119.62 139.14,119.62 138.9,119.62 138.67,119.62 138.44,119.62 138.2,119.62 137.97,119.62 137.73,119.62 137.5,119.62 137.26,119.62 137.03,119.62 136.79,119.62 136.56,119.62 136.32,119.62 136.09,119.62 135.85,119.62 135.62,119.62 135.38,119.62 135.15,119.62 134.91,119.62 134.68,119.62 134.45,119.62 134.21,119.62 133.98,119.62 133.74,119.62 133.51,119.62 133.27,119.62 133.04,119.72 132.8,120.14 132.57,120.57 132.33,121.02 132.1,121.48 131.86,121.56 131.63,121.1 131.39,120.65 131.16,120.22 130.92,119.79 130.69,119.62 130.46,119.62 130.22,119.62 129.99,119.62 129.75,119.62 129.52,119.93 129.28,120.49 129.05,121.08 128.81,121.68 128.58,122.3 128.34,122.94 128.11,122.96 127.87,122.33 127.64,121.71 127.4,121.11 127.17,120.52 126.93,119.95 126.7,119.62 126.47,119.62 126.23,119.96 126,120.64 125.76,121.32 125.53,121.99 125.29,122.65 125.06,123.31 124.82,123.97 124.59,124.62 124.35,125.26 124.12,125.91 123.88,126.55 123.65,127.19 123.41,127.83 123.18,128.41 122.94,127.63 122.71,126.85 122.47,126.07 122.24,125.28 122.01,124.49 121.77,123.69 121.54,122.89 121.3,122.08 121.07,121.26 120.83,120.43 120.6,119.62 120.36,119.94 120.13,120.86 119.89,121.76 119.66,122.66 119.42,123.54 119.19,124.42 118.95,125.29 118.72,126.16 118.48,127.02 118.25,127.88 118.02,128.74 117.78,129.59 117.55,130.43 117.31,131.28 117.08,132.12 116.84,132.96 116.61,133.38 116.37,132.38 116.14,131.38 115.9,130.37 115.67,129.36 115.43,128.35 115.2,127.33 114.96,126.3 114.73,125.27 114.49,124.22 114.26,123.17 114.03,122.11 113.79,121.85 113.56,122.5 113.32,123.1 113.09,123.65 112.85,124.17 112.62,124.67 112.38,125.14 112.15,125.59 111.91,126.03 111.68,126.45 111.44,126.86 111.21,127.25 110.97,127.64 110.74,128.01 110.5,128.38 110.27,128.74 110.03,129.09 109.8,129.43 109.57,129.77 109.33,130.1 109.1,130.42 108.86,130.74 108.63,131.06 108.39,131.37 108.16,131.67 107.92,131.97 107.69,132.27 107.45,132.56 107.22,132.85 106.98,133.13 106.75,133.41 106.51,133.69 106.28,133.97 106.04,134.24 105.81,134.5 105.58,134.77 105.34,135.03 105.11,135.29 104.87,135.55 104.64,135.81 104.4,136.01 104.17,135.63 103.93,135.24 103.7,134.85 103.46,134.45 103.23,134.05 102.99,133.64 102.76,133.22 102.52,132.79 102.29,132.36 102.05,131.91 101.82,131.46 101.59,131 101.35,130.52 101.12,130.04 100.88,129.54 100.65,129.02 100.41,128.49 100.18,127.94 99.94,127.37 99.71,126.78 99.47,126.16 99.24,125.51 99,124.82 98.77,124.08 98.53,123.27 98.3,122.38 98.06,121.35 97.83,120.06 97.6,119.62 97.36,119.62 97.13,119.62 96.89,119.62 96.66,119.62 96.42,119.62 96.19,119.62 95.95,119.62 95.72,119.62 95.48,119.62 95.25,119.62 95.01,119.62 94.78,119.62 94.54,119.62 94.31,119.62 94.07,119.62 93.84,119.62 93.61,119.62 93.37,119.62 93.14,119.62 92.9,119.62 92.67,119.62 92.43,119.62 92.2,119.62 91.96,119.62 91.73,119.62 91.49,119.62 91.26,119.62 91.02,119.62 90.79,119.62 90.55,119.62 90.32,119.62 90.08,119.62 89.85,119.62 89.61,119.62 89.38,119.62 89.15,119.62 88.91,119.62 88.68,119.62 88.44,119.62 88.21,119.62 87.97,119.62 87.74,119.62 87.5,119.62 87.27,119.62 87.03,119.62 86.8,119.62 86.56,119.62 86.33,119.62 86.09,119.62 85.86,119.62 85.62,119.62 85.39,119.62 85.16,119.62 84.92,119.62 84.69,119.62 84.45,119.62 84.22,119.62 83.98,119.62 83.75,119.62 83.51,119.62 83.28,119.62 83.04,119.62 82.81,119.62 82.57,119.62 82.34,119.62 82.1,119.62 81.87,119.62 81.63,119.62 81.4,119.62 81.17,119.62 80.93,119.62 80.7,119.62 80.46,119.62 80.23,119.62 79.99,119.62 79.76,119.62 79.52,119.62 79.29,119.62 79.05,119.62 78.82,119.62 78.58,119.62 78.35,119.62 78.11,119.62 77.88,119.62 77.64,119.62 77.41,119.62 77.18,119.62 76.94,119.62 76.71,119.62 76.47,119.62 76.24,119.62 76,119.62 75.77,119.62 75.53,119.62 75.3,119.62 75.06,119.62 74.83,119.62 74.59,119.62 74.36,119.62 74.12,119.62 73.89,119.62 73.65,119.62 73.42,119.62 73.18,119.62 72.95,119.62 72.72,119.62 72.48,119.62 72.25,119.62 72.01,119.62 71.78,119.62 71.54,119.62 71.31,119.62 71.07,119.62 70.84,119.62 70.6,119.62 70.37,119.62 70.13,119.62 69.9,119.62 69.66,119.62 69.43,119.62 69.19,119.62 68.96,119.62 68.73,119.62 68.49,119.62 68.26,119.62 68.02,119.62 67.79,119.62 67.55,119.62 67.32,119.62 67.08,119.62 66.85,119.62 66.61,119.62 66.38,119.62 66.14,119.62 65.91,119.62 65.67,119.62 65.44,119.62 65.2,119.62 64.97,119.84 64.74,120.26 64.5,120.7 64.27,121.15 64.03,121.61 63.8,121.43 63.56,120.97 63.33,120.53 63.09,120.09 62.86,119.67 62.62,119.62 62.39,119.62 62.15,119.62 61.92,119.62 61.68,119.62 61.45,120.09 61.21,120.66 60.98,121.25 60.75,121.86 60.51,122.48 60.28,123.12 60.04,122.78 59.81,122.15 59.57,121.54 59.34,120.94 59.1,120.36 58.87,119.8 58.63,119.62 58.4,119.62 58.16,120.16 57.93,120.84 57.69,121.51 57.46,122.18 57.22,122.84 56.99,123.5 56.75,124.15 56.52,124.8 56.29,125.45 56.05,126.09 55.82,126.74 55.58,127.37 55.35,128.01 55.11,128.19 54.88,127.41 54.64,126.63 54.41,125.84 54.17,125.06 53.94,124.26 53.7,123.46 53.47,122.66 53.23,121.85 53,121.03 52.76,120.19 52.53,119.62 52.3,120.2 52.06,121.12 51.83,122.02 51.59,122.91 51.36,123.8 51.12,124.67 50.89,125.54 50.65,126.41 50.42,127.27 50.18,128.13 49.95,128.98 49.71,129.83 49.48,130.68 49.24,131.52 49.01,132.36 48.77,133.2 48.54,133.1 48.31,132.1 48.07,131.09 47.84,130.08 47.6,129.07 47.37,128.06 47.13,127.03 46.9,126 46.66,124.97 46.43,123.93 46.19,122.87 45.96,121.81 45.72,122.04 45.49,122.68 45.25,123.26 45.02,123.8 44.78,124.32 44.55,124.81 44.31,125.27 44.08,125.72 43.85,126.15 43.61,126.57 43.38,126.97 43.14,127.37 42.91,127.75 42.67,128.12 42.44,128.48 42.2,128.84 41.97,129.19 41.73,129.53 41.5,129.86 41.26,130.19 41.03,130.52 40.79,130.83 40.56,131.15 40.32,131.45 40.09,131.76 39.86,132.06 39.62,132.35 39.39,132.64 39.15,132.93 38.92,133.21 38.68,133.49 38.45,133.77 38.21,134.04 37.98,134.31 37.74,134.58 37.51,134.85 37.27,135.11 37.04,135.37 36.8,135.62 36.57,135.88 36.33,135.9 36.1,135.52" fill="#b462c4" stroke="none" stroke-width="0.5" />
<polygon points="36.1,101.79 36.33,102.06 36.57,102.33 36.8,102.6 37.04,102.88 37.27,103.16 37.51,103.44 37.74,103.73 37.98,104.02 38.21,104.32 38.45,104.62 38.68,104.92 38.92,105.23 39.15,105.55 39.39,105.87 39.62,106.19 39.86,106.53 40.09,106.87 40.32,107.21 40.56,107.57 40.79,107.93 41.03,108.3 41.26,108.68 41.5,109.08 41.73,109.48 41.97,109.9 42.2,110.33 42.44,110.79 42.67,111.26 42.91,111.75 43.14,112.28 43.38,112.84 43.61,113.44 43.85,114.11 44.08,114.87 44.31,115.8 44.55,116.43 44.78,116.43 45.02,116.43 45.25,116.43 45.49,115.51 45.72,114.57 45.96,113.62 46.19,112.68 46.43,111.73 46.66,110.79 46.9,109.85 47.13,108.9 47.37,107.96 47.6,107.01 47.84,106.07 48.07,105.12 48.31,104.18 48.54,104.97 48.77,105.88 49.01,106.79 49.24,107.69 49.48,108.6 49.71,109.51 49.95,110.42 50.18,111.33 50.42,112.24 50.65,113.14 50.89,114.05 51.12,114.96 51.36,115.87 51.59,116.43 51.83,116.43 52.06,116.43 52.3,116.43 52.53,115.93 52.76,115.2 53,114.48 53.23,113.76 53.47,113.03 53.7,112.31 53.94,111.58 54.17,110.86 54.41,110.13 54.64,109.41 54.88,109.26 55.11,109.94 55.35,110.62 55.58,111.29 55.82,111.97 56.05,112.64 56.29,113.32 56.52,114 56.75,114.67 56.99,115.35 57.22,116.03 57.46,116.43 57.69,116.43 57.93,116.43 58.16,116.43 58.4,116.43 58.63,116.33 58.87,115.8 59.1,115.24 59.34,114.66 59.57,114.05 59.81,113.44 60.04,113.67 60.28,114.28 60.51,114.87 60.75,115.45 60.98,116 61.21,116.43 61.45,116.43 61.68,116.43 61.92,116.43 62.15,116.43 62.39,116.43 62.62,116.43 62.86,116.07 63.09,115.68 63.33,115.28 63.56,114.86 63.8,115.07 64.03,115.48 64.27,115.87 64.5,116.26 64.74,116.43 64.97,116.43 65.2,116.43 65.44,116.43 65.67,116.43 65.91,116.43 66.14,116.43 66.38,116.43 66.61,116.43 66.85,116.43 67.08,116.43 67.32,116.43 67.55,116.43 67.79,116.43 68.02,116.43 68.26,116.43 68.49,116.43 68.73,116.43 68.96,116.43 69.19,116.43 69.43,116.43 69.66,116.43 69.9,116.43 70.13,116.43 70.37,116.43 70.6,116.43 70.84,116.43 71.07,116.43 71.31,116.43 71.54,116.43 71.78,116.43 72.01,116.43 72.25,116.43 72.48,116.43 72.72,116.43 72.95,116.43 73.18,116.43 73.42,116.43 73.65,116.43 73.89,116.43 74.12,116.43 74.36,116.43 74.59,116.43 74.83,116.43 75.06,116.43 75.3,116.43 75.53,116.43 75.77,116.43 76,116.43 76.24,116.43 76.47,116.43 76.71,116.43 76.94,116.43 77.18,116.43 77.41,116.43 77.64,116.43 77.88,116.43 78.11,116.43 78.35,116.43 78.58,116.43 78.82,116.43 79.05,116.43 79.29,116.43 79.52,116.43 79.76,116.43 79.99,116.43 80.23,116.43 80.46,116.43 80.7,116.43 80.93,116.43 81.17,116.43 81.4,116.43 81.63,116.43 81.87,116.43 82.1,116.43 82.34,116.43 82.57,116.43 82.81,116.43 83.04,116.43 83.28,116.43 83.51,116.43 83.75,116.43 83.98,116.43 84.22,116.43 84.45,116.43 84.69,116.43 84.92,116.43 85.16,116.43 85.39,116.43 85.62,116.43 85.86,116.43 86.09,116.43 86.33,116.43 86.56,116.43 86.8,116.43 87.03,116.43 87.27,116.43 87.5,116.43 87.74,116.43 87.97,116.43 88.21,116.43 88.44,116.43 88.68,116.43 88.91,116.43 89.15,116.43 89.38,116.43 89.61,116.43 89.85,116.43 90.08,116.43 90.32,116.43 90.55,116.43 90.79,116.43 91.02,116.43 91.26,116.43 91.49,116.43 91.73,116.43 91.96,116.43 92.2,116.43 92.43,116.43 92.67,116.43 92.9,116.43 93.14,116.43 93.37,116.43 93.61,116.43 93.84,116.43 94.07,116.43 94.31,116.43 94.54,116.43 94.78,116.43 95.01,116.43 95.25,116.43 95.48,116.43 95.72,116.43 95.95,116.43 96.19,116.43 96.42,116.43 96.66,116.43 96.89,116.43 97.13,115.91 97.36,114.71 97.6,113.77 97.83,112.95 98.06,112.22 98.3,111.55 98.53,110.93 98.77,110.33 99,109.77 99.24,109.24 99.47,108.72 99.71,108.23 99.94,107.75 100.18,107.28 100.41,106.83 100.65,106.39 100.88,105.97 101.12,105.55 101.35,105.14 101.59,104.74 101.82,104.35 102.05,103.96 102.29,103.59 102.52,103.21 102.76,102.85 102.99,102.49 103.23,102.14 103.46,101.79 103.7,101.45 103.93,101.6 104.17,101.86 104.4,102.13 104.64,102.4 104.87,102.68 105.11,102.96 105.34,103.24 105.58,103.52 105.81,103.81 106.04,104.11 106.28,104.4 106.51,104.7 106.75,105.01 106.98,105.32 107.22,105.64 107.45,105.96 107.69,106.29 107.92,106.62 108.16,106.97 108.39,107.31 108.63,107.67 108.86,108.04 109.1,108.41 109.33,108.8 109.57,109.19 109.8,109.6 110.03,110.02 110.27,110.46 110.5,110.92 110.74,111.4 110.97,111.9 111.21,112.43 111.44,113.01 111.68,113.63 111.91,114.32 112.15,115.11 112.38,116.12 112.62,116.43 112.85,116.43 113.09,116.43 113.32,116.19 113.56,115.24 113.79,114.3 114.03,113.35 114.26,112.41 114.49,111.46 114.73,110.52 114.96,109.58 115.2,108.63 115.43,107.69 115.67,106.74 115.9,105.8 116.14,104.85 116.37,104.32 116.61,105.23 116.84,106.14 117.08,107.05 117.31,107.95 117.55,108.86 117.78,109.77 118.02,110.68 118.25,111.59 118.48,112.49 118.72,113.4 118.95,114.31 119.19,115.22 119.42,116.13 119.66,116.43 119.89,116.43 120.13,116.43 120.36,116.43 120.6,115.72 120.83,115 121.07,114.27 121.3,113.55 121.54,112.82 121.77,112.1 122.01,111.37 122.24,110.65 122.47,109.93 122.71,109.2 122.94,109.46 123.18,110.13 123.41,110.81 123.65,111.49 123.88,112.16 124.12,112.84 124.35,113.51 124.59,114.19 124.82,114.87 125.06,115.54 125.29,116.22 125.53,116.43 125.76,116.43 126,116.43 126.23,116.43 126.47,116.43 126.7,116.18 126.93,115.64 127.17,115.07 127.4,114.49 127.64,113.88 127.87,113.26 128.11,113.84 128.34,114.45 128.58,115.04 128.81,115.61 129.05,116.15 129.28,116.43 129.52,116.43 129.75,116.43 129.99,116.43 130.22,116.43 130.46,116.43 130.69,116.34 130.92,115.96 131.16,115.56 131.39,115.16 131.63,114.78 131.86,115.19 132.1,115.59 132.33,115.99 132.57,116.36 132.8,116.43 133.04,116.43 133.27,116.43 133.51,116.43 133.74,116.43 133.98,116.43 134.21,116.43 134.45,116.43 134.68,116.43 134.91,116.43 135.15,116.43 135.38,116.43 135.62,116.43 135.85,116.43 136.09,116.43 136.32,116.43 136.56,116.43 136.79,116.43 137.03,116.43 137.26,116.43 137.5,116.43 137.73,116.43 137.97,116.43 138.2,116.43 138.44,116.43 138.67,116.43 138.9,116.43 139.14,116.43 139.37,116.43 139.61,116.43 139.84,116.43 140.08,116.43 140.31,116.43 140.55,116.43 140.78,116.43 141.02,116.43 141.25,116.43 141.49,116.43 141.72,116.43 141.96,116.43 142.19,116.43 142.43,116.43 142.66,116.43 142.9,116.43 143.13,116.43 143.36,116.43 143.6,116.43 143.83,116.43 144.07,116.43 144.3,116.43 144.54,116.43 144.77,116.43 145.01,116.43 145.24,116.43 145.48,116.43 145.71,116.43 145.95,116.43 146.18,116.43 146.42,116.43 146.65,116.43 146.89,116.43 147.12,116.43 147.35,116.43 147.59,116.43 147.82,116.43 148.06,116.43 148.29,116.43 148.53,116.43 148.76,116.43 149,116.43 149.23,116.43 149.47,116.43 149.7,116.43 149.94,116.43 150.17,116.43 150.41,116.43 150.64,116.43 150.88,116.43 151.11,116.43 151.34,116.43 151.58,116.43 151.81,116.43 152.05,116.43 152.28,116.43 152.52,116.43 152.75,116.43 152.99,116.43 153.22,116.43 153.46,116.43 153.69,116.43 153.93,116.43 154.16,116.43 154.4,116.43 154.63,116.43 154.87,116.43 155.1,116.43 155.33,116.43 155.57,116.43 155.8,116.43 156.04,116.43 156.27,116.43 156.51,116.43 156.74,116.43 156.98,116.43 157.21,116.43 157.45,116.43 157.68,116.43 157.92,116.43 158.15,116.43 158.39,116.43 158.62,116.43 158.86,116.43 159.09,116.43 159.32,116.43 159.56,116.43 159.79,116.43 160.03,116.43 160.26,116.43 160.5,116.43 160.73,116.43 160.97,116.43 161.2,116.43 161.44,116.43 161.67,116.43 161.91,116.43 162.14,116.43 162.38,116.43 162.61,116.43 162.85,116.43 163.08,116.43 163.32,116.43 163.55,116.43 163.78,116.43 164.02,116.43 164.25,116.43 164.49,116.43 164.72,116.43 164.96,116.43 165.19,115.52 165.43,114.42 165.66,113.52 165.9,112.74 166.13,112.03 166.37,111.37 166.6,110.75 166.84,110.17 167.07,109.62 167.31,109.09 167.54,108.58 167.77,108.09 168.01,107.61 168.24,107.15 168.48,106.71 168.71,106.27 168.95,105.85 169.18,105.43 169.42,105.02 169.65,104.63 169.89,104.24 170.12,103.85 170.36,103.48 170.59,103.11 170.83,102.75 171.06,102.39 171.3,102.04 171.53,101.69 171.76,101.41 172,101.67 172.23,101.94 172.47,102.21 172.7,102.48 172.94,102.76 173.17,103.04 173.41,103.32 173.64,103.61 173.88,103.9 174.11,104.19 174.35,104.49 174.58,104.79 174.82,105.1 175.05,105.41 175.29,105.73 175.52,106.05 175.75,106.38 175.99,106.72 176.22,107.06 176.46,107.42 176.69,107.77 176.93,108.14 177.16,108.52 177.4,108.91 177.63,109.31 177.87,109.72 178.1,110.15 178.34,110.59 178.57,111.05 178.81,111.54 179.04,112.05 179.28,112.59 179.51,113.18 179.75,113.82 179.98,114.53 180.21,115.37 180.45,116.43 180.68,116.43 180.92,116.43 181.15,116.43 181.39,115.92 181.62,114.97 181.86,114.03 182.09,113.08 182.33,112.14 182.56,111.19 182.8,110.25 183.03,109.31 183.27,108.36 183.5,107.42 183.74,106.47 183.97,105.53 184.2,104.58 184.44,104.58 184.67,105.49 184.91,106.4 185.14,107.31 185.38,108.21 185.61,109.12 185.85,110.03 186.08,110.94 186.32,111.85 186.55,112.75 186.79,113.66 187.02,114.57 187.26,115.48 187.49,116.39 187.73,116.43 187.96,116.43 188.19,116.43 188.43,116.24 188.66,115.51 188.9,114.79 189.13,114.07 189.37,113.34 189.6,112.62 189.84,111.89 190.07,111.17 190.31,110.44 190.54,109.72 190.78,108.99 191.01,109.65 191.25,110.33 191.48,111 191.72,111.68 191.95,112.36 192.19,113.03 192.42,113.71 192.65,114.38 192.89,115.06 193.12,115.74 193.36,116.41 193.59,116.43 193.83,116.43 194.06,116.43 194.3,116.43 194.53,116.43 194.77,116.03 195,115.48 195.24,114.91 195.47,114.31 195.71,113.7 195.94,113.4 196.18,114.02 196.41,114.62 196.64,115.2 196.88,115.77 197.11,116.3 197.35,116.43 197.58,116.43 197.82,116.43 198.05,116.43 198.29,116.43 198.52,116.43 198.76,116.23 198.99,115.85 199.23,115.45 199.46,115.04 199.7,114.9 199.93,115.31 200.17,115.71 200.4,116.09 200.4,119.51 200.17,119.89 199.93,120.29 199.7,120.7 199.46,120.56 199.23,120.15 198.99,119.75 198.76,119.37 198.52,119.17 198.29,119.17 198.05,119.17 197.82,119.17 197.58,119.17 197.35,119.17 197.11,119.3 196.88,119.83 196.64,120.4 196.41,120.98 196.18,121.58 195.94,122.2 195.71,121.9 195.47,121.29 195.24,120.69 195,120.12 194.77,119.57 194.53,119.17 194.3,119.17 194.06,119.17 193.83,119.17 193.59,119.17 193.36,119.19 193.12,119.86 192.89,120.54 192.65,121.22 192.42,121.89 192.19,122.57 191.95,123.24 191.72,123.92 191.48,124.6 191.25,125.27 191.01,125.95 190.78,126.61 190.54,125.88 190.31,125.16 190.07,124.43 189.84,123.71 189.6,122.98 189.37,122.26 189.13,121.53 188.9,120.81 188.66,120.09 188.43,119.36 188.19,119.17 187.96,119.17 187.73,119.17 187.49,119.21 187.26,120.12 187.02,121.03 186.79,121.94 186.55,122.85 186.32,123.75 186.08,124.66 185.85,125.57 185.61,126.48 185.38,127.39 185.14,128.29 184.91,129.2 184.67,130.11 184.44,131.02 184.2,131.02 183.97,130.07 183.74,129.13 183.5,128.18 183.27,127.24 183.03,126.29 182.8,125.35 182.56,124.41 182.33,123.46 182.09,122.52 181.86,121.57 181.62,120.63 181.39,119.68 181.15,119.17 180.92,119.17 180.68,119.17 180.45,119.17 180.21,120.23 179.98,121.07 179.75,121.78 179.51,122.42 179.28,123.01 179.04,123.55 178.81,124.06 178.57,124.55 178.34,125.01 178.1,125.45 177.87,125.88 177.63,126.29 177.4,126.69 177.16,127.08 176.93,127.46 176.69,127.83 176.46,128.18 176.22,128.54 175.99,128.88 175.75,129.22 175.52,129.55 175.29,129.87 175.05,130.19 174.82,130.5 174.58,130.81 174.35,131.11 174.11,131.41 173.88,131.7 173.64,131.99 173.41,132.28 173.17,132.56 172.94,132.84 172.7,133.12 172.47,133.39 172.23,133.66 172,133.93 171.76,134.19 171.53,133.91 171.3,133.56 171.06,133.21 170.83,132.85 170.59,132.49 170.36,132.12 170.12,131.75 169.89,131.36 169.65,130.97 169.42,130.58 169.18,130.17 168.95,129.75 168.71,129.33 168.48,128.89 168.24,128.45 168.01,127.99 167.77,127.51 167.54,127.02 167.31,126.51 167.07,125.98 166.84,125.43 166.6,124.85 166.37,124.23 166.13,123.57 165.9,122.86 165.66,122.08 165.43,121.18 165.19,120.08 164.96,119.17 164.72,119.17 164.49,119.17 164.25,119.17 164.02,119.17 163.78,119.17 163.55,119.17 163.32,119.17 163.08,119.17 162.85,119.17 162.61,119.17 162.38,119.17 162.14,119.17 161.91,119.17 161.67,119.17 161.44,119.17 161.2,119.17 160.97,119.17 160.73,119.17 160.5,119.17 160.26,119.17 160.03,119.17 159.79,119.17 159.56,119.17 159.32,119.17 159.09,119.17 158.86,119.17 158.62,119.17 158.39,119.17 158.15,119.17 157.92,119.17 157.68,119.17 157.45,119.17 157.21,119.17 156.98,119.17 156.74,119.17 156.51,119.17 156.27,119.17 156.04,119.17 155.8,119.17 155.57,119.17 155.33,119.17 155.1,119.17 154.87,119.17 154.63,119.17 154.4,119.17 154.16,119.17 153.93,119.17 153.69,119.17 153.46,119.17 153.22,119.17 152.99,119.17 152.75,119.17 152.52,119.17 152.28,119.17 152.05,119.17 151.81,119.17 151.58,119.17 151.34,119.17 151.11,119.17 150.88,119.17 150.64,119.17 150.41,119.17 150.17,119.17 149.94,119.17 149.7,119.17 149.47,119.17 149.23,119.17 149,119.17 148.76,119.17 148.53,119.17 148.29,119.17 148.06,119.17 147.82,119.17 147.59,119.17 147.35,119.17 147.12,119.17 146.89,119.17 146.65,119.17 146.42,119.17 146.18,119.17 145.95,119.17 145.71,119.17 145.48,119.17 145.24,119.17 145.01,119.17 144.77,119.17 144.54,119.17 144.3,119.17 144.07,119.17 143.83,119.17 143.6,119.17 143.36,119.17 143.13,119.17 142.9,119.17 142.66,119.17 142.43,119.17 142.19,119.17 141.96,119.17 141.72,119.17 141.49,119.17 141.25,119.17 141.02,119.17 140.78,119.17 140.55,119.17 140.31,119.17 140.08,119.17 139.84,119.17 139.61,119.17 139.37,119.17 139.14,119.17 138.9,119.17 138.67,119.17 138.44,119.17 138.2,119.17 137.97,119.17 137.73,119.17 137.5,119.17 137.26,119.17 137.03,119.17 136.79,119.17 136.56,119.17 136.32,119.17 136.09,119.17 135.85,119.17 135.62,119.17 135.38,119.17 135.15,119.17 134.91,119.17 134.68,119.17 134.45,119.17 134.21,119.17 133.98,119.17 133.74,119.17 133.51,119.17 133.27,119.17 133.04,119.17 132.8,119.17 132.57,119.24 132.33,119.61 132.1,120.01 131.86,120.41 131.63,120.82 131.39,120.44 131.16,120.04 130.92,119.64 130.69,119.26 130.46,119.17 130.22,119.17 129.99,119.17 129.75,119.17 129.52,119.17 129.28,119.17 129.05,119.45 128.81,119.99 128.58,120.56 128.34,121.15 128.11,121.76 127.87,122.34 127.64,121.72 127.4,121.11 127.17,120.53 126.93,119.96 126.7,119.42 126.47,119.17 126.23,119.17 126,119.17 125.76,119.17 125.53,119.17 125.29,119.38 125.06,120.06 124.82,120.73 124.59,121.41 124.35,122.09 124.12,122.76 123.88,123.44 123.65,124.11 123.41,124.79 123.18,125.47 122.94,126.14 122.71,126.4 122.47,125.67 122.24,124.95 122.01,124.23 121.77,123.5 121.54,122.78 121.3,122.05 121.07,121.33 120.83,120.6 120.6,119.88 120.36,119.17 120.13,119.17 119.89,119.17 119.66,119.17 119.42,119.47 119.19,120.38 118.95,121.29 118.72,122.2 118.48,123.11 118.25,124.01 118.02,124.92 117.78,125.83 117.55,126.74 117.31,127.65 117.08,128.55 116.84,129.46 116.61,130.37 116.37,131.28 116.14,130.75 115.9,129.8 115.67,128.86 115.43,127.91 115.2,126.97 114.96,126.02 114.73,125.08 114.49,124.14 114.26,123.19 114.03,122.25 113.79,121.3 113.56,120.36 113.32,119.41 113.09,119.17 112.85,119.17 112.62,119.17 112.38,119.48 112.15,120.49 111.91,121.28 111.68,121.97 111.44,122.59 111.21,123.17 110.97,123.7 110.74,124.2 110.5,124.68 110.27,125.14 110.03,125.58 109.8,126 109.57,126.41 109.33,126.8 109.1,127.19 108.86,127.56 108.63,127.93 108.39,128.29 108.16,128.63 107.92,128.98 107.69,129.31 107.45,129.64 107.22,129.96 106.98,130.28 106.75,130.59 106.51,130.9 106.28,131.2 106.04,131.49 105.81,131.79 105.58,132.08 105.34,132.36 105.11,132.64 104.87,132.92 104.64,133.2 104.4,133.47 104.17,133.74 103.93,134 103.7,134.15 103.46,133.81 103.23,133.46 102.99,133.11 102.76,132.75 102.52,132.39 102.29,132.01 102.05,131.64 101.82,131.25 101.59,130.86 101.35,130.46 101.12,130.05 100.88,129.63 100.65,129.21 100.41,128.77 100.18,128.32 99.94,127.85 99.71,127.37 99.47,126.88 99.24,126.36 99,125.83 98.77,125.27 98.53,124.67 98.3,124.05 98.06,123.38 97.83,122.65 97.6,121.83 97.36,120.89 97.13,119.69 96.89,119.17 96.66,119.17 96.42,119.17 96.19,119.17 95.95,119.17 95.72,119.17 95.48,119.17 95.25,119.17 95.01,119.17 94.78,119.17 94.54,119.17 94.31,119.17 94.07,119.17 93.84,119.17 93.61,119.17 93.37,119.17 93.14,119.17 92.9,119.17 92.67,119.17 92.43,119.17 92.2,119.17 91.96,119.17 91.73,119.17 91.49,119.17 91.26,119.17 91.02,119.17 90.79,119.17 90.55,119.17 90.32,119.17 90.08,119.17 89.85,119.17 89.61,119.17 89.38,119.17 89.15,119.17 88.91,119.17 88.68,119.17 88.44,119.17 88.21,119.17 87.97,119.17 87.74,119.17 87.5,119.17 87.27,119.17 87.03,119.17 86.8,119.17 86.56,119.17 86.33,119.17 86.09,119.17 85.86,119.17 85.62,119.17 85.39,119.17 85.16,119.17 84.92,119.17 84.69,119.17 84.45,119.17 84.22,119.17 83.98,119.17 83.75,119.17 83.51,119.17 83.28,119.17 83.04,119.17 82.81,119.17 82.57,119.17 82.34,119.17 82.1,119.17 81.87,119.17 81.63,119.17 81.4,119.17 81.17,119.17 80.93,119.17 80.7,119.17 80.46,119.17 80.23,119.17 79.99,119.17 79.76,119.17 79.52,119.17 79.29,119.17 79.05,119.17 78.82,119.17 78.58,119.17 78.35,119.17 78.11,119.17 77.88,119.17 77.64,119.17 77.41,119.17 77.18,119.17 76.94,119.17 76.71,119.17 76.47,119.17 76.24,119.17 76,119.17 75.77,119.17 75.53,119.17 75.3,119.17 75.06,119.17 74.83,119.17 74.59,119.17 74.36,119.17 74.12,119.17 73.89,119.17 73.65,119.17 73.42,119.17 73.18,119.17 72.95,119.17 72.72,119.17 72.48,119.17 72.25,119.17 72.01,119.17 71.78,119.17 71.54,119.17 71.31,119.17 71.07,119.17 70.84,119.17 70.6,119.17 70.37,119.17 70.13,119.17 69.9,119.17 69.66,119.17 69.43,119.17 69.19,119.17 68.96,119.17 68.73,119.17 68.49,119.17 68.26,119.17 68.02,119.17 67.79,119.17 67.55,119.17 67.32,119.17 67.08,119.17 66.85,119.17 66.61,119.17 66.38,119.17 66.14,119.17 65.91,119.17 65.67,119.17 65.44,119.17 65.2,119.17 64.97,119.17 64.74,119.17 64.5,119.34 64.27,119.73 64.03,120.12 63.8,120.53 63.56,120.74 63.33,120.32 63.09,119.92 62.86,119.53 62.62,119.17 62.39,119.17 62.15,119.17 61.92,119.17 61.68,119.17 61.45,119.17 61.21,119.17 60.98,119.6 60.75,120.15 60.51,120.73 60.28,121.32 60.04,121.93 59.81,122.16 59.57,121.55 59.34,120.94 59.1,120.36 58.87,119.8 58.63,119.27 58.4,119.17 58.16,119.17 57.93,119.17 57.69,119.17 57.46,119.17 57.22,119.57 56.99,120.25 56.75,120.93 56.52,121.6 56.29,122.28 56.05,122.96 55.82,123.63 55.58,124.31 55.35,124.98 55.11,125.66 54.88,126.34 54.64,126.19 54.41,125.47 54.17,124.74 53.94,124.02 53.7,123.29 53.47,122.57 53.23,121.84 53,121.12 52.76,120.4 52.53,119.67 52.3,119.17 52.06,119.17 51.83,119.17 51.59,119.17 51.36,119.73 51.12,120.64 50.89,121.55 50.65,122.46 50.42,123.36 50.18,124.27 49.95,125.18 49.71,126.09 49.48,127 49.24,127.91 49.01,128.81 48.77,129.72 48.54,130.63 48.31,131.42 48.07,130.48 47.84,129.53 47.6,128.59 47.37,127.64 47.13,126.7 46.9,125.75 46.66,124.81 46.43,123.87 46.19,122.92 45.96,121.98 45.72,121.03 45.49,120.09 45.25,119.17 45.02,119.17 44.78,119.17 44.55,119.17 44.31,119.8 44.08,120.73 43.85,121.49 43.61,122.16 43.38,122.76 43.14,123.32 42.91,123.85 42.67,124.34 42.44,124.81 42.2,125.27 41.97,125.7 41.73,126.12 41.5,126.52 41.26,126.92 41.03,127.3 40.79,127.67 40.56,128.03 40.32,128.39 40.09,128.73 39.86,129.07 39.62,129.41 39.39,129.73 39.15,130.05 38.92,130.37 38.68,130.68 38.45,130.98 38.21,131.28 37.98,131.58 37.74,131.87 37.51,132.16 37.27,132.44 37.04,132.72 36.8,133 36.57,133.27 36.33,133.54 36.1,133.81" fill="#ac3270" stroke="none" stroke-width="0.5" />
</g>
<line x1="36.1" y1="140.6" x2="200.4" y2="140.6" stroke="#6a6a6a" stroke-width="1.7" />
<line x1="84.6" y1="87.4" x2="84.6" y2="140.8" stroke="#000" stroke-width="0.9" />
<line x1="152.6" y1="87.4" x2="152.6" y2="140.8" stroke="#000" stroke-width="0.9" />
<line x1="84.6" y1="94.5" x2="152.6" y2="94.5" stroke="#000" stroke-width="0.9" />
<polygon points="84.8,94.5 87.5,93.3 87.5,95.7" fill="#000" stroke="none" stroke-width="0.5" />
<polygon points="152.4,94.5 149.7,93.3 149.7,95.7" fill="#000" stroke="none" stroke-width="0.5" />
<line x1="50.7" y1="148.2" x2="50.7" y2="146.7" stroke="#000" stroke-width="0.6" />
<line x1="50.7" y1="87.4" x2="50.7" y2="88.9" stroke="#000" stroke-width="0.6" />
<line x1="84.7" y1="148.2" x2="84.7" y2="146.7" stroke="#000" stroke-width="0.6" />
<line x1="84.7" y1="87.4" x2="84.7" y2="88.9" stroke="#000" stroke-width="0.6" />
<line x1="118.7" y1="148.2" x2="118.7" y2="146.7" stroke="#000" stroke-width="0.6" />
<line x1="118.7" y1="87.4" x2="118.7" y2="88.9" stroke="#000" stroke-width="0.6" />
<line x1="152.7" y1="148.2" x2="152.7" y2="146.7" stroke="#000" stroke-width="0.6" />
<line x1="152.7" y1="87.4" x2="152.7" y2="88.9" stroke="#000" stroke-width="0.6" />
<line x1="186.7" y1="148.2" x2="186.7" y2="146.7" stroke="#000" stroke-width="0.6" />
<line x1="186.7" y1="87.4" x2="186.7" y2="88.9" stroke="#000" stroke-width="0.6" />
<line x1="36.1" y1="148.2" x2="37.6" y2="148.2" stroke="#000" stroke-width="0.6" />
<line x1="36.1" y1="140.6" x2="37.6" y2="140.6" stroke="#000" stroke-width="0.6" />
<line x1="36.1" y1="133" x2="37.6" y2="133" stroke="#000" stroke-width="0.6" />
<line x1="36.1" y1="125.4" x2="37.6" y2="125.4" stroke="#000" stroke-width="0.6" />
<line x1="36.1" y1="117.8" x2="37.6" y2="117.8" stroke="#000" stroke-width="0.6" />
<line x1="36.1" y1="110.2" x2="37.6" y2="110.2" stroke="#000" stroke-width="0.6" />
<line x1="36.1" y1="102.6" x2="37.6" y2="102.6" stroke="#000" stroke-width="0.6" />
<line x1="36.1" y1="95" x2="37.6" y2="95" stroke="#000" stroke-width="0.6" />
<line x1="36.1" y1="87.4" x2="37.6" y2="87.4" stroke="#000" stroke-width="0.6" />
<rect x="36.1" y="87.4" width="164.3" height="60.8" fill="none" stroke="#000" stroke-width="0.8" />
<line x1="200.4" y1="87.4" x2="200.4" y2="148.2" stroke="#f39a2a" stroke-width="0.8" />
<line x1="200.4" y1="87.4" x2="201.9" y2="87.4" stroke="#f39a2a" stroke-width="0.6" />
<text x="204.2" y="87.4" font-size="4.5" font-weight="bold" fill="#f39a2a" stroke="#f39a2a" stroke-width="0.2" text-anchor="start" dominant-baseline="central" >800</text>
<line x1="200.4" y1="95" x2="201.9" y2="95" stroke="#f39a2a" stroke-width="0.6" />
<text x="204.2" y="95" font-size="4.5" font-weight="bold" fill="#f39a2a" stroke="#f39a2a" stroke-width="0.2" text-anchor="start" dominant-baseline="central" >600</text>
<line x1="200.4" y1="102.6" x2="201.9" y2="102.6" stroke="#f39a2a" stroke-width="0.6" />
<text x="204.2" y="102.6" font-size="4.5" font-weight="bold" fill="#f39a2a" stroke="#f39a2a" stroke-width="0.2" text-anchor="start" dominant-baseline="central" >400</text>
<line x1="200.4" y1="110.2" x2="201.9" y2="110.2" stroke="#f39a2a" stroke-width="0.6" />
<text x="204.2" y="110.2" font-size="4.5" font-weight="bold" fill="#f39a2a" stroke="#f39a2a" stroke-width="0.2" text-anchor="start" dominant-baseline="central" >200</text>
<line x1="200.4" y1="117.8" x2="201.9" y2="117.8" stroke="#f39a2a" stroke-width="0.6" />
<text x="204.2" y="117.8" font-size="4.5" font-weight="bold" fill="#f39a2a" stroke="#f39a2a" stroke-width="0.2" text-anchor="start" dominant-baseline="central" >0</text>
<line x1="200.4" y1="125.4" x2="201.9" y2="125.4" stroke="#f39a2a" stroke-width="0.6" />
<text x="204.2" y="125.4" font-size="4.5" font-weight="bold" fill="#f39a2a" stroke="#f39a2a" stroke-width="0.2" text-anchor="start" dominant-baseline="central" >−200</text>
<line x1="200.4" y1="133" x2="201.9" y2="133" stroke="#f39a2a" stroke-width="0.6" />
<text x="204.2" y="133" font-size="4.5" font-weight="bold" fill="#f39a2a" stroke="#f39a2a" stroke-width="0.2" text-anchor="start" dominant-baseline="central" >−400</text>
<line x1="200.4" y1="140.6" x2="201.9" y2="140.6" stroke="#f39a2a" stroke-width="0.6" />
<text x="204.2" y="140.6" font-size="4.5" font-weight="bold" fill="#f39a2a" stroke="#f39a2a" stroke-width="0.2" text-anchor="start" dominant-baseline="central" >−600</text>
<line x1="200.4" y1="148.2" x2="201.9" y2="148.2" stroke="#f39a2a" stroke-width="0.6" />
<text x="204.2" y="148.2" font-size="4.5" font-weight="bold" fill="#f39a2a" stroke="#f39a2a" stroke-width="0.2" text-anchor="start" dominant-baseline="central" >−800</text>
<text x="221.7" y="117.9" font-size="4.3" font-weight="bold" fill="#f39a2a" stroke="#f39a2a" stroke-width="0.2" text-anchor="middle" dominant-baseline="central" transform="rotate(-90 221.7 117.9)" >RX voltage (mV)</text>
<text x="30.3" y="148.2" font-size="4.4" font-weight="bold" fill="#111" stroke="#111" stroke-width="0.2" text-anchor="middle" dominant-baseline="central" >−0.5</text>
<text x="30.3" y="140.6" font-size="4.4" font-weight="bold" fill="#111" stroke="#111" stroke-width="0.2" text-anchor="middle" dominant-baseline="central" >0.0</text>
<text x="30.3" y="133" font-size="4.4" font-weight="bold" fill="#111" stroke="#111" stroke-width="0.2" text-anchor="middle" dominant-baseline="central" >0.5</text>
<text x="30.3" y="125.4" font-size="4.4" font-weight="bold" fill="#111" stroke="#111" stroke-width="0.2" text-anchor="middle" dominant-baseline="central" >1.0</text>
<text x="30.3" y="117.8" font-size="4.4" font-weight="bold" fill="#111" stroke="#111" stroke-width="0.2" text-anchor="middle" dominant-baseline="central" >1.5</text>
<text x="30.3" y="110.2" font-size="4.4" font-weight="bold" fill="#111" stroke="#111" stroke-width="0.2" text-anchor="middle" dominant-baseline="central" >2.0</text>
<text x="30.3" y="102.6" font-size="4.4" font-weight="bold" fill="#111" stroke="#111" stroke-width="0.2" text-anchor="middle" dominant-baseline="central" >2.5</text>
<text x="30.3" y="95" font-size="4.4" font-weight="bold" fill="#111" stroke="#111" stroke-width="0.2" text-anchor="middle" dominant-baseline="central" >3.0</text>
<text x="30.3" y="87.4" font-size="4.4" font-weight="bold" fill="#111" stroke="#111" stroke-width="0.2" text-anchor="middle" dominant-baseline="central" >3.5</text>
<text x="50.7" y="154.5" font-size="4.6" font-weight="bold" fill="#111" stroke="#111" stroke-width="0.2" text-anchor="middle" dominant-baseline="central" >−0.5</text>
<text x="84.7" y="154.5" font-size="4.6" font-weight="bold" fill="#111" stroke="#111" stroke-width="0.2" text-anchor="middle" dominant-baseline="central" >0.0</text>
<text x="118.7" y="154.5" font-size="4.6" font-weight="bold" fill="#111" stroke="#111" stroke-width="0.2" text-anchor="middle" dominant-baseline="central" >0.5</text>
<text x="152.7" y="154.5" font-size="4.6" font-weight="bold" fill="#111" stroke="#111" stroke-width="0.2" text-anchor="middle" dominant-baseline="central" >1.0</text>
<text x="186.7" y="154.5" font-size="4.6" font-weight="bold" fill="#111" stroke="#111" stroke-width="0.2" text-anchor="middle" dominant-baseline="central" >1.5</text>
<text x="117.5" y="162" font-size="4.6" font-weight="bold" fill="#111" stroke="#111" stroke-width="0.2" text-anchor="middle" dominant-baseline="central" >Time (ms)</text>
<text x="19.4" y="115.5" font-size="4.95" font-weight="bold" fill="#111" stroke="#111" stroke-width="0.2" text-anchor="middle" dominant-baseline="central" transform="rotate(-90 19.4 115.5)" >Trigger voltage (V)</text>
<text x="71" y="137.2" font-size="5.5" font-weight="bold" fill="#111" stroke="#111" stroke-width="0.2" text-anchor="middle" dominant-baseline="central" >n−1</text>
<text x="140.5" y="136.8" font-size="5.5" font-weight="bold" fill="#111" stroke="#111" stroke-width="0.2" text-anchor="middle" dominant-baseline="central" >n</text>
<text x="193" y="137.2" font-size="5.5" font-weight="bold" fill="#111" stroke="#111" stroke-width="0.2" text-anchor="middle" dominant-baseline="central" >n + 1</text>
<line x1="81.2" y1="141" x2="36" y2="204" stroke="#555" stroke-width="0.35" />
<line x1="122" y1="141" x2="149.3" y2="204" stroke="#555" stroke-width="0.35" />
<text x="96.4" y="183.4" font-size="5.8" text-anchor="middle" dominant-baseline="central" fill="#111"><tspan fill="#ee1c24" font-weight="bold">1000</tspan> times of measurements in</text>
<text x="99.4" y="191" font-size="5.9" font-weight="bold" fill="#ee1c24" stroke="#ee1c24" stroke-width="0.2" text-anchor="middle" dominant-baseline="central" >1 second!</text>
<text x="155.7" y="171.7" font-size="5.7" font-weight="bold" fill="#7a2c7c" stroke="#7a2c7c" stroke-width="0.2" text-anchor="middle" dominant-baseline="central" >upstream</text>
<text x="201.9" y="171.7" font-size="5.7" font-weight="bold" fill="#f0a050" stroke="#f0a050" stroke-width="0.2" text-anchor="middle" dominant-baseline="central" >downstream</text>
<text x="220.2" y="184.9" font-size="5.85" font-weight="bold" fill="#ee1c24" stroke="#ee1c24" stroke-width="0.2" text-anchor="middle" dominant-baseline="central" >One-step</text>
<text x="220" y="191.6" font-size="5.75" font-weight="normal" fill="#222" stroke="#222" stroke-width="0.06" text-anchor="middle" dominant-baseline="central" >measurement</text>
<ellipse cx="162" cy="186.2" rx="12.5" ry="4.3" fill="#f3b4e6" transform="rotate(32 162 186.2)"/>
<ellipse cx="188" cy="186.2" rx="12.5" ry="4.3" fill="#f3b4e6" transform="rotate(-32 188 186.2)"/>
<polygon points="170,193 175,186 180,193 176,195 174,195" fill="#f3b4e6" stroke="none" stroke-width="0.5" />
<polygon points="167,190 171,184 173,192" fill="#f0a8e0" stroke="none" stroke-width="0.5" />
<polygon points="183,190 179,184 177,192" fill="#f0a8e0" stroke="none" stroke-width="0.5" />
<line x1="154.5" y1="181.5" x2="159" y2="184.5" stroke="#5a1a5a" stroke-width="0.9" />
<polygon points="154,181 157.2,181.4 155.5,183.6" fill="#5a1a5a" stroke="none" stroke-width="0.5" />
<line x1="195.5" y1="181.5" x2="191.5" y2="184.5" stroke="#f08020" stroke-width="0.9" />
<polygon points="196,181 193,181.4 194.6,183.6" fill="#f08020" stroke="none" stroke-width="0.5" />
<rect x="36" y="204.6" width="112.7" height="98.5" fill="#6e6e6e" stroke="none" stroke-width="0.8" />
<rect x="80.3" y="204.6" width="40.2" height="98.5" fill="#e9f2e2" stroke="none" stroke-width="0.8" />
<rect x="36" y="204.6" width="44.3" height="20.4" fill="#ffffff" stroke="none" stroke-width="0.8" />
<line x1="46.5" y1="225" x2="46.5" y2="303.1" stroke="#7c7c7c" stroke-width="0.4" />
<line x1="65.1" y1="225" x2="65.1" y2="303.1" stroke="#7c7c7c" stroke-width="0.4" />
<line x1="83.7" y1="204.6" x2="83.7" y2="303.1" stroke="#d4e4cc" stroke-width="0.4" />
<line x1="102.3" y1="204.6" x2="102.3" y2="303.1" stroke="#d4e4cc" stroke-width="0.4" />
<line x1="120.9" y1="204.6" x2="120.9" y2="303.1" stroke="#7c7c7c" stroke-width="0.4" />
<line x1="139.5" y1="204.6" x2="139.5" y2="303.1" stroke="#7c7c7c" stroke-width="0.4" />
<line x1="36" y1="303.12" x2="80.3" y2="303.12" stroke="#7c7c7c" stroke-width="0.4" />
<line x1="80.3" y1="303.12" x2="120.5" y2="303.12" stroke="#d4e4cc" stroke-width="0.4" />
<line x1="120.5" y1="303.12" x2="148.7" y2="303.12" stroke="#7c7c7c" stroke-width="0.4" />
<line x1="36" y1="290.81" x2="80.3" y2="290.81" stroke="#7c7c7c" stroke-width="0.4" />
<line x1="80.3" y1="290.81" x2="120.5" y2="290.81" stroke="#d4e4cc" stroke-width="0.4" />
<line x1="120.5" y1="290.81" x2="148.7" y2="290.81" stroke="#7c7c7c" stroke-width="0.4" />
<line x1="36" y1="278.49" x2="80.3" y2="278.49" stroke="#7c7c7c" stroke-width="0.4" />
<line x1="80.3" y1="278.49" x2="120.5" y2="278.49" stroke="#d4e4cc" stroke-width="0.4" />
<line x1="120.5" y1="278.49" x2="148.7" y2="278.49" stroke="#7c7c7c" stroke-width="0.4" />
<line x1="36" y1="266.18" x2="80.3" y2="266.18" stroke="#7c7c7c" stroke-width="0.4" />
<line x1="80.3" y1="266.18" x2="120.5" y2="266.18" stroke="#d4e4cc" stroke-width="0.4" />
<line x1="120.5" y1="266.18" x2="148.7" y2="266.18" stroke="#7c7c7c" stroke-width="0.4" />
<line x1="36" y1="253.86" x2="80.3" y2="253.86" stroke="#7c7c7c" stroke-width="0.4" />
<line x1="80.3" y1="253.86" x2="120.5" y2="253.86" stroke="#d4e4cc" stroke-width="0.4" />
<line x1="120.5" y1="253.86" x2="148.7" y2="253.86" stroke="#7c7c7c" stroke-width="0.4" />
<line x1="36" y1="241.54" x2="80.3" y2="241.54" stroke="#7c7c7c" stroke-width="0.4" />
<line x1="80.3" y1="241.54" x2="120.5" y2="241.54" stroke="#d4e4cc" stroke-width="0.4" />
<line x1="120.5" y1="241.54" x2="148.7" y2="241.54" stroke="#7c7c7c" stroke-width="0.4" />
<line x1="36" y1="229.23" x2="80.3" y2="229.23" stroke="#7c7c7c" stroke-width="0.4" />
<line x1="80.3" y1="229.23" x2="120.5" y2="229.23" stroke="#d4e4cc" stroke-width="0.4" />
<line x1="120.5" y1="229.23" x2="148.7" y2="229.23" stroke="#7c7c7c" stroke-width="0.4" />
<line x1="80.3" y1="216.91" x2="120.5" y2="216.91" stroke="#d4e4cc" stroke-width="0.4" />
<line x1="120.5" y1="216.91" x2="148.7" y2="216.91" stroke="#7c7c7c" stroke-width="0.4" />
<line x1="80.3" y1="204.6" x2="120.5" y2="204.6" stroke="#d4e4cc" stroke-width="0.4" />
<line x1="120.5" y1="204.6" x2="148.7" y2="204.6" stroke="#7c7c7c" stroke-width="0.4" />
<line x1="80.3" y1="204.6" x2="80.3" y2="303.1" stroke="#88c070" stroke-width="0.8" />
<line x1="120.5" y1="204.6" x2="120.5" y2="303.1" stroke="#88c070" stroke-width="0.8" />
<defs><clipPath id="cpb"><rect x="36" y="225" width="44.3" height="78"/></clipPath><clipPath id="cpc"><rect x="80.3" y="204.6" width="40.2" height="98.5"/></clipPath><clipPath id="cpd"><rect x="120.5" y="204.6" width="28.2" height="98.5"/></clipPath><linearGradient id="gor" x1="0" y1="0" x2="0" y2="1"><stop offset="0" stop-color="#f6b040"/><stop offset="1" stop-color="#e88a18"/></linearGradient><radialGradient id="gpu" cx="0.6" cy="0.55" r="0.7"><stop offset="0" stop-color="#b878c4"/><stop offset="0.6" stop-color="#9438a4"/><stop offset="1" stop-color="#7a1e8a"/></radialGradient></defs>
<g clip-path="url(#cpb)">
<polygon points="36,241 36.37,240.95 36.74,240.89 37.11,240.84 37.48,240.79 37.85,240.74 38.21,240.68 38.58,240.63 38.95,240.58 39.32,240.53 39.69,240.47 40.06,240.42 40.43,240.37 40.8,240.31 41.17,240.26 41.54,240.21 41.91,240.16 42.28,240.1 42.64,240.05 43.01,240 43.38,239.95 43.75,239.89 44.12,239.84 44.49,239.79 44.86,239.73 45.23,239.68 45.6,239.62 45.97,239.56 46.34,239.5 46.71,239.43 47.08,239.36 47.44,239.28 47.81,239.2 48.18,239.1 48.55,238.99 48.92,238.87 49.29,238.74 49.66,238.6 50.03,238.46 50.4,238.37 50.77,238.28 51.14,238.21 51.5,238.15 51.87,238.11 52.24,238.08 52.61,238.08 52.98,238.08 53.35,238.1 53.72,238.11 54.09,238.12 54.46,238.12 54.83,238.1 55.2,238.07 55.57,238.01 55.94,237.93 56.3,237.82 56.67,237.7 57.04,237.56 57.41,237.42 57.78,237.26 58.15,237.11 58.52,236.96 58.89,236.82 59.26,236.7 59.63,236.59 60,236.5 60.36,236.44 60.73,236.41 61.1,236.4 61.47,236.42 61.84,236.47 62.21,236.55 62.58,236.65 62.95,236.77 63.32,236.9 63.69,237.05 64.06,237.21 64.43,237.37 64.8,237.54 65.16,237.7 65.53,237.86 65.9,238.01 66.27,238.14 66.64,238.27 67.01,238.39 67.38,238.49 67.75,238.58 68.12,238.66 68.49,238.72 68.86,238.78 69.22,238.83 69.59,238.86 69.96,238.9 70.33,238.92 70.7,238.94 71.07,238.96 71.44,238.97 71.81,238.98 72.18,238.98 72.55,238.99 72.92,238.99 73.29,238.99 73.66,239 74.02,239 74.39,239 74.76,239 75.13,239 75.5,239 75.87,239 76.24,239 76.61,239 76.98,239 77.35,239 77.72,239 78.09,239 78.45,239 78.82,239 79.19,239 79.56,239 79.93,239 80.3,239 80.3,245.4 79.93,245.4 79.56,245.4 79.19,245.4 78.82,245.4 78.45,245.4 78.09,245.4 77.72,245.4 77.35,245.4 76.98,245.4 76.61,245.4 76.24,245.4 75.87,245.4 75.5,245.4 75.13,245.4 74.76,245.4 74.39,245.4 74.02,245.4 73.66,245.4 73.29,245.41 72.92,245.41 72.55,245.41 72.18,245.42 71.81,245.42 71.44,245.43 71.07,245.44 70.7,245.46 70.33,245.48 69.96,245.5 69.59,245.54 69.22,245.57 68.86,245.62 68.49,245.68 68.12,245.74 67.75,245.82 67.38,245.91 67.01,246.01 66.64,246.13 66.27,246.26 65.9,246.39 65.53,246.54 65.16,246.7 64.8,246.86 64.43,247.03 64.06,247.19 63.69,247.35 63.32,247.5 62.95,247.63 62.58,247.75 62.21,247.85 61.84,247.93 61.47,247.98 61.1,248 60.73,247.99 60.36,247.96 60,247.9 59.63,247.81 59.26,247.7 58.89,247.58 58.52,247.44 58.15,247.29 57.78,247.14 57.41,246.98 57.04,246.84 56.67,246.7 56.3,246.58 55.94,246.47 55.57,246.39 55.2,246.33 54.83,246.3 54.46,246.28 54.09,246.28 53.72,246.29 53.35,246.3 52.98,246.32 52.61,246.32 52.24,246.32 51.87,246.29 51.5,246.25 51.14,246.19 50.77,246.12 50.4,246.03 50.03,245.94 49.66,245.8 49.29,245.66 48.92,245.53 48.55,245.41 48.18,245.3 47.81,245.2 47.44,245.12 47.08,245.04 46.71,244.97 46.34,244.9 45.97,244.84 45.6,244.78 45.23,244.72 44.86,244.67 44.49,244.61 44.12,244.56 43.75,244.51 43.38,244.45 43.01,244.4 42.64,244.35 42.28,244.3 41.91,244.24 41.54,244.19 41.17,244.14 40.8,244.09 40.43,244.03 40.06,243.98 39.69,243.93 39.32,243.87 38.95,243.82 38.58,243.77 38.21,243.72 37.85,243.66 37.48,243.61 37.11,243.56 36.74,243.51 36.37,243.45 36,243.4" fill="#ac6a28" stroke="none" stroke-width="0.5" />
<polygon points="36,255.9 36.37,255.9 36.74,255.9 37.11,255.9 37.48,255.9 37.85,255.9 38.21,255.9 38.58,255.9 38.95,255.9 39.32,255.9 39.69,255.9 40.06,255.9 40.43,255.9 40.8,255.9 41.17,255.9 41.54,255.9 41.91,255.9 42.28,255.89 42.64,255.89 43.01,255.89 43.38,255.88 43.75,255.87 44.12,255.86 44.49,255.84 44.86,255.82 45.23,255.79 45.6,255.75 45.97,255.69 46.34,255.63 46.71,255.55 47.08,255.46 47.44,255.35 47.81,255.23 48.18,255.1 48.55,254.95 48.92,254.79 49.29,254.64 49.66,254.48 50.03,254.33 50.4,254.2 50.77,254.08 51.14,253.99 51.5,253.93 51.87,253.9 52.24,253.91 52.61,253.95 52.98,254.02 53.35,254.12 53.72,254.24 54.09,254.38 54.46,254.53 54.83,254.69 55.2,254.84 55.57,255 55.94,255.14 56.3,255.27 56.67,255.39 57.04,255.49 57.41,255.58 57.78,255.65 58.15,255.71 58.52,255.76 58.89,255.79 59.26,255.82 59.63,255.84 60,255.85 60.36,255.85 60.73,255.85 61.1,255.83 61.47,255.81 61.84,255.78 62.21,255.73 62.58,255.68 62.95,255.61 63.32,255.54 63.69,255.46 64.06,255.37 64.43,255.29 64.8,255.22 65.16,255.16 65.53,255.12 65.9,255.1 66.27,255.11 66.64,255.14 67.01,255.19 67.38,255.25 67.75,255.33 68.12,255.41 68.49,255.5 68.86,255.58 69.22,255.65 69.59,255.71 69.96,255.76 70.33,255.8 70.7,255.83 71.07,255.85 71.44,255.87 71.81,255.88 72.18,255.89 72.55,255.89 72.92,255.9 73.29,255.9 73.66,255.9 74.02,255.9 74.39,255.9 74.76,255.9 75.13,255.9 75.5,255.9 75.87,255.9 76.24,255.9 76.61,255.9 76.98,255.9 77.35,255.9 77.72,255.9 78.09,255.9 78.45,255.9 78.82,255.9 79.19,255.9 79.56,255.9 79.93,255.9 80.3,255.9 80.3,265.5 79.93,265.5 79.56,265.5 79.19,265.5 78.82,265.5 78.45,265.5 78.09,265.5 77.72,265.5 77.35,265.5 76.98,265.5 76.61,265.5 76.24,265.5 75.87,265.5 75.5,265.5 75.13,265.5 74.76,265.5 74.39,265.5 74.02,265.5 73.66,265.5 73.29,265.5 72.92,265.5 72.55,265.51 72.18,265.51 71.81,265.52 71.44,265.53 71.07,265.55 70.7,265.57 70.33,265.6 69.96,265.64 69.59,265.69 69.22,265.75 68.86,265.82 68.49,265.9 68.12,265.99 67.75,266.07 67.38,266.15 67.01,266.21 66.64,266.26 66.27,266.29 65.9,266.3 65.53,266.28 65.16,266.24 64.8,266.18 64.43,266.11 64.06,266.03 63.69,265.94 63.32,265.86 62.95,265.79 62.58,265.72 62.21,265.67 61.84,265.62 61.47,265.59 61.1,265.57 60.73,265.55 60.36,265.55 60,265.55 59.63,265.56 59.26,265.58 58.89,265.61 58.52,265.64 58.15,265.69 57.78,265.75 57.41,265.82 57.04,265.91 56.67,266.01 56.3,266.13 55.94,266.26 55.57,266.4 55.2,266.56 54.83,266.71 54.46,266.87 54.09,267.02 53.72,267.16 53.35,267.28 52.98,267.38 52.61,267.45 52.24,267.49 51.87,267.5 51.5,267.47 51.14,267.41 50.77,267.32 50.4,267.2 50.03,267.07 49.66,266.92 49.29,266.76 48.92,266.61 48.55,266.45 48.18,266.3 47.81,266.17 47.44,266.05 47.08,265.94 46.71,265.85 46.34,265.77 45.97,265.71 45.6,265.65 45.23,265.61 44.86,265.58 44.49,265.56 44.12,265.54 43.75,265.53 43.38,265.52 43.01,265.51 42.64,265.51 42.28,265.51 41.91,265.5 41.54,265.5 41.17,265.5 40.8,265.5 40.43,265.5 40.06,265.5 39.69,265.5 39.32,265.5 38.95,265.5 38.58,265.5 38.21,265.5 37.85,265.5 37.48,265.5 37.11,265.5 36.74,265.5 36.37,265.5 36,265.5" fill="#521658" stroke="none" stroke-width="0.5" />
</g>
<g clip-path="url(#cpc)">
<path d="M80.3,236 C88,233 93,214 100.5,213.8 C108,214 113,233 120.5,236 L120.5,262 L80.3,262 Z" fill="url(#gor)"/>
<path d="M80.3,249 C88,246 94,234 100.5,233.5 C107,234 113,246 120.5,249 L120.5,272 C113,277 106,288 100.5,288.5 C95,288 88,277 80.3,272 Z" fill="url(#gpu)"/>
</g>
<g clip-path="url(#cpd)">
<path d="M120.5,236 C124,231 126,228 129,228 C132,228 135,240 138,240 C142,240 145,230 148.7,228 L148.7,258 L120.5,258 Z" fill="#a46226"/>
<path d="M120.5,250 C124,246 127,236 131,236 C135,236 138,250 140.5,254 C143,250 146,240 148.7,240 L148.7,276 C146,276 143,266 140.5,262 C138,266 135,284 131,284 C127,284 124,270 120.5,266 Z" fill="#56145c"/>
</g>
<line x1="36" y1="290.81" x2="148.7" y2="290.81" stroke="#000" stroke-width="0.9" />
<line x1="46.7" y1="225" x2="46.7" y2="303.1" stroke="#000" stroke-width="0.8" />
<line x1="46.5" y1="303.1" x2="46.5" y2="301.6" stroke="#000" stroke-width="0.6" />
<line x1="46.5" y1="204.6" x2="46.5" y2="206.1" stroke="#000" stroke-width="0.6" />
<line x1="65.1" y1="303.1" x2="65.1" y2="301.6" stroke="#000" stroke-width="0.6" />
<line x1="65.1" y1="204.6" x2="65.1" y2="206.1" stroke="#000" stroke-width="0.6" />
<line x1="83.7" y1="303.1" x2="83.7" y2="301.6" stroke="#000" stroke-width="0.6" />
<line x1="83.7" y1="204.6" x2="83.7" y2="206.1" stroke="#000" stroke-width="0.6" />
<line x1="102.3" y1="303.1" x2="102.3" y2="301.6" stroke="#000" stroke-width="0.6" />
<line x1="102.3" y1="204.6" x2="102.3" y2="206.1" stroke="#000" stroke-width="0.6" />
<line x1="120.9" y1="303.1" x2="120.9" y2="301.6" stroke="#000" stroke-width="0.6" />
<line x1="120.9" y1="204.6" x2="120.9" y2="206.1" stroke="#000" stroke-width="0.6" />
<line x1="139.5" y1="303.1" x2="139.5" y2="301.6" stroke="#000" stroke-width="0.6" />
<line x1="139.5" y1="204.6" x2="139.5" y2="206.1" stroke="#000" stroke-width="0.6" />
<line x1="36" y1="303.12" x2="37.5" y2="303.12" stroke="#000" stroke-width="0.6" />
<line x1="148.7" y1="303.12" x2="147.2" y2="303.12" stroke="#000" stroke-width="0.6" />
<line x1="36" y1="290.81" x2="37.5" y2="290.81" stroke="#000" stroke-width="0.6" />
<line x1="148.7" y1="290.81" x2="147.2" y2="290.81" stroke="#000" stroke-width="0.6" />
<line x1="36" y1="278.49" x2="37.5" y2="278.49" stroke="#000" stroke-width="0.6" />
<line x1="148.7" y1="278.49" x2="147.2" y2="278.49" stroke="#000" stroke-width="0.6" />
<line x1="36" y1="266.18" x2="37.5" y2="266.18" stroke="#000" stroke-width="0.6" />
<line x1="148.7" y1="266.18" x2="147.2" y2="266.18" stroke="#000" stroke-width="0.6" />
<line x1="36" y1="253.86" x2="37.5" y2="253.86" stroke="#000" stroke-width="0.6" />
<line x1="148.7" y1="253.86" x2="147.2" y2="253.86" stroke="#000" stroke-width="0.6" />
<line x1="36" y1="241.54" x2="37.5" y2="241.54" stroke="#000" stroke-width="0.6" />
<line x1="148.7" y1="241.54" x2="147.2" y2="241.54" stroke="#000" stroke-width="0.6" />
<line x1="36" y1="229.23" x2="37.5" y2="229.23" stroke="#000" stroke-width="0.6" />
<line x1="148.7" y1="229.23" x2="147.2" y2="229.23" stroke="#000" stroke-width="0.6" />
<line x1="36" y1="216.91" x2="37.5" y2="216.91" stroke="#000" stroke-width="0.6" />
<line x1="148.7" y1="216.91" x2="147.2" y2="216.91" stroke="#000" stroke-width="0.6" />
<line x1="36" y1="204.6" x2="37.5" y2="204.6" stroke="#000" stroke-width="0.6" />
<line x1="148.7" y1="204.6" x2="147.2" y2="204.6" stroke="#000" stroke-width="0.6" />
<rect x="36" y="204.6" width="112.7" height="98.5" fill="none" stroke="#000" stroke-width="0.8" />
<line x1="38.5" y1="208" x2="47" y2="208" stroke="#000" stroke-width="0.7" />
<text x="49.5" y="208" font-size="3.4" font-weight="normal" fill="#111" stroke="#111" stroke-width="0.06" text-anchor="start" dominant-baseline="central" >Trigger signal</text>
<line x1="38.5" y1="213.3" x2="47" y2="213.3" stroke="#f0a040" stroke-width="0.7" />
<text x="49.5" y="213.3" font-size="3.4" font-weight="normal" fill="#f0a040" stroke="#f0a040" stroke-width="0.06" text-anchor="start" dominant-baseline="central" >RX1/downstream</text>
<line x1="38.5" y1="218.4" x2="47" y2="218.4" stroke="#8a2a9a" stroke-width="0.7" />
<text x="49.5" y="218.4" font-size="3.4" font-weight="normal" fill="#8a2a9a" stroke="#8a2a9a" stroke-width="0.06" text-anchor="start" dominant-baseline="central" >RX2/upstream</text>
<text x="30.5" y="303.12" font-size="4.4" font-weight="bold" fill="#111" stroke="#111" stroke-width="0.2" text-anchor="middle" dominant-baseline="central" >−0.5</text>
<text x="30.5" y="290.81" font-size="4.4" font-weight="bold" fill="#111" stroke="#111" stroke-width="0.2" text-anchor="middle" dominant-baseline="central" >0.0</text>
<text x="30.5" y="278.49" font-size="4.4" font-weight="bold" fill="#111" stroke="#111" stroke-width="0.2" text-anchor="middle" dominant-baseline="central" >0.5</text>
<text x="30.5" y="266.18" font-size="4.4" font-weight="bold" fill="#111" stroke="#111" stroke-width="0.2" text-anchor="middle" dominant-baseline="central" >1.0</text>
<text x="30.5" y="253.86" font-size="4.4" font-weight="bold" fill="#111" stroke="#111" stroke-width="0.2" text-anchor="middle" dominant-baseline="central" >1.5</text>
<text x="30.5" y="241.54" font-size="4.4" font-weight="bold" fill="#111" stroke="#111" stroke-width="0.2" text-anchor="middle" dominant-baseline="central" >2.0</text>
<text x="30.5" y="229.23" font-size="4.4" font-weight="bold" fill="#111" stroke="#111" stroke-width="0.2" text-anchor="middle" dominant-baseline="central" >2.5</text>
<text x="30.5" y="216.91" font-size="4.4" font-weight="bold" fill="#111" stroke="#111" stroke-width="0.2" text-anchor="middle" dominant-baseline="central" >3.0</text>
<text x="30.5" y="204.6" font-size="4.4" font-weight="bold" fill="#111" stroke="#111" stroke-width="0.2" text-anchor="middle" dominant-baseline="central" >3.5</text>
<text x="46.5" y="309.3" font-size="4.4" font-weight="bold" fill="#111" stroke="#111" stroke-width="0.2" text-anchor="middle" dominant-baseline="central" >0</text>
<text x="65.1" y="309.3" font-size="4.4" font-weight="bold" fill="#111" stroke="#111" stroke-width="0.2" text-anchor="middle" dominant-baseline="central" >100</text>
<text x="83.7" y="309.3" font-size="4.4" font-weight="bold" fill="#111" stroke="#111" stroke-width="0.2" text-anchor="middle" dominant-baseline="central" >200</text>
<text x="102.3" y="309.3" font-size="4.4" font-weight="bold" fill="#111" stroke="#111" stroke-width="0.2" text-anchor="middle" dominant-baseline="central" >300</text>
<text x="120.9" y="309.3" font-size="4.4" font-weight="bold" fill="#111" stroke="#111" stroke-width="0.2" text-anchor="middle" dominant-baseline="central" >400</text>
<text x="139.5" y="309.3" font-size="4.4" font-weight="bold" fill="#111" stroke="#111" stroke-width="0.2" text-anchor="middle" dominant-baseline="central" >500</text>
<text x="92" y="316.5" font-size="4.4" font-weight="bold" fill="#111" stroke="#111" stroke-width="0.2" text-anchor="middle" dominant-baseline="central" >Time (µs)</text>
<text x="19" y="254" font-size="4.4" font-weight="bold" fill="#111" stroke="#111" stroke-width="0.2" text-anchor="middle" dominant-baseline="central" transform="rotate(-90 19 254)" >Voltage (V)</text>
<text x="100.5" y="238.3" font-size="6.2" font-weight="bold" fill="#fff" stroke="#fff" stroke-width="0.2" text-anchor="middle" dominant-baseline="central" >Signal</text>
<text x="100.5" y="245.5" font-size="6.2" font-weight="bold" fill="#fff" stroke="#fff" stroke-width="0.2" text-anchor="middle" dominant-baseline="central" >processing</text>
<text x="100.5" y="252.6" font-size="6.2" font-weight="bold" fill="#fff" stroke="#fff" stroke-width="0.2" text-anchor="middle" dominant-baseline="central" >ΔToF</text>
<polygon points="98.5,259 102.5,259 102.5,262 104.5,262 100.5,266 96.5,262 98.5,262" fill="#6cc040" stroke="none" stroke-width="0.5" />
<text x="100.5" y="270.2" font-size="6.2" font-weight="bold" fill="#fff" stroke="#fff" stroke-width="0.2" text-anchor="middle" dominant-baseline="central" >Volume flow</text>
<text x="100.5" y="277.3" font-size="6.2" font-weight="bold" fill="#fff" stroke="#fff" stroke-width="0.2" text-anchor="middle" dominant-baseline="central" >rate</text>
<line x1="168.3" y1="205.2" x2="168.3" y2="303.9" stroke="#dcdcdc" stroke-width="0.5" />
<line x1="189.2" y1="205.2" x2="189.2" y2="303.9" stroke="#dcdcdc" stroke-width="0.5" />
<line x1="210.1" y1="205.2" x2="210.1" y2="303.9" stroke="#dcdcdc" stroke-width="0.5" />
<line x1="231" y1="205.2" x2="231" y2="303.9" stroke="#dcdcdc" stroke-width="0.5" />
<line x1="167.8" y1="303.9" x2="231" y2="303.9" stroke="#dcdcdc" stroke-width="0.5" />
<line x1="167.8" y1="281.67" x2="231" y2="281.67" stroke="#dcdcdc" stroke-width="0.5" />
<line x1="167.8" y1="259.44" x2="231" y2="259.44" stroke="#dcdcdc" stroke-width="0.5" />
<line x1="167.8" y1="237.21" x2="231" y2="237.21" stroke="#dcdcdc" stroke-width="0.5" />
<line x1="167.8" y1="214.98" x2="231" y2="214.98" stroke="#dcdcdc" stroke-width="0.5" />
<g transform="rotate(29 213 270.6)">
<rect x="201" y="266.2" width="1" height="8.8" fill="#8a8a8a" stroke="none" stroke-width="0.8" />
<rect x="205.6" y="266.2" width="1" height="8.8" fill="#8a8a8a" stroke="none" stroke-width="0.8" />
<rect x="210.2" y="266.2" width="1" height="8.8" fill="#8a8a8a" stroke="none" stroke-width="0.8" />
<rect x="214.8" y="266.2" width="1" height="8.8" fill="#8a8a8a" stroke="none" stroke-width="0.8" />
<rect x="219.4" y="266.2" width="1" height="8.8" fill="#8a8a8a" stroke="none" stroke-width="0.8" />
<rect x="224" y="266.2" width="1" height="8.8" fill="#8a8a8a" stroke="none" stroke-width="0.8" />
<rect x="198" y="268.4" width="30" height="4.4" fill="#a4a4a4" stroke="#707070" stroke-width="0.3" />
<rect x="199" y="269.9" width="28" height="1.4" fill="#88b848" stroke="none" stroke-width="0.8" />
<rect x="199" y="270.3" width="28" height="0.5" fill="#e0e050" stroke="none" stroke-width="0.8" />
<rect x="226" y="268.6" width="2" height="4" fill="#c09080" stroke="none" stroke-width="0.8" />
</g>
<line x1="178.2" y1="290" x2="226" y2="204.5" stroke="#f05050" stroke-width="0.6" />
<polygon points="178.5,286.2 180.6,288.3 178.5,290.4 176.4,288.3" fill="#d01010" stroke="none" stroke-width="0.5" />
<polygon points="188.7,265.4 190.8,267.5 188.7,269.6 186.6,267.5" fill="#d01010" stroke="none" stroke-width="0.5" />
<polygon points="199.5,249.9 201.6,252 199.5,254.1 197.4,252" fill="#d01010" stroke="none" stroke-width="0.5" />
<polygon points="210.3,231.2 212.4,233.3 210.3,235.4 208.2,233.3" fill="#d01010" stroke="none" stroke-width="0.5" />
<polygon points="220.7,216.6 222.8,218.7 220.7,220.8 218.6,218.7" fill="#d01010" stroke="none" stroke-width="0.5" />
<line x1="168.3" y1="303.9" x2="168.3" y2="302.4" stroke="#000" stroke-width="0.6" />
<line x1="168.3" y1="205.2" x2="168.3" y2="206.7" stroke="#000" stroke-width="0.6" />
<line x1="178.75" y1="303.9" x2="178.75" y2="302.4" stroke="#000" stroke-width="0.6" />
<line x1="178.75" y1="205.2" x2="178.75" y2="206.7" stroke="#000" stroke-width="0.6" />
<line x1="189.2" y1="303.9" x2="189.2" y2="302.4" stroke="#000" stroke-width="0.6" />
<line x1="189.2" y1="205.2" x2="189.2" y2="206.7" stroke="#000" stroke-width="0.6" />
<line x1="199.65" y1="303.9" x2="199.65" y2="302.4" stroke="#000" stroke-width="0.6" />
<line x1="199.65" y1="205.2" x2="199.65" y2="206.7" stroke="#000" stroke-width="0.6" />
<line x1="210.1" y1="303.9" x2="210.1" y2="302.4" stroke="#000" stroke-width="0.6" />
<line x1="210.1" y1="205.2" x2="210.1" y2="206.7" stroke="#000" stroke-width="0.6" />
<line x1="220.55" y1="303.9" x2="220.55" y2="302.4" stroke="#000" stroke-width="0.6" />
<line x1="220.55" y1="205.2" x2="220.55" y2="206.7" stroke="#000" stroke-width="0.6" />
<line x1="231" y1="303.9" x2="231" y2="302.4" stroke="#000" stroke-width="0.6" />
<line x1="231" y1="205.2" x2="231" y2="206.7" stroke="#000" stroke-width="0.6" />
<line x1="167.8" y1="303.9" x2="169.3" y2="303.9" stroke="#000" stroke-width="0.6" />
<line x1="231" y1="303.9" x2="229.5" y2="303.9" stroke="#000" stroke-width="0.6" />
<line x1="167.8" y1="281.67" x2="169.3" y2="281.67" stroke="#000" stroke-width="0.6" />
<line x1="231" y1="281.67" x2="229.5" y2="281.67" stroke="#000" stroke-width="0.6" />
<line x1="167.8" y1="259.44" x2="169.3" y2="259.44" stroke="#000" stroke-width="0.6" />
<line x1="231" y1="259.44" x2="229.5" y2="259.44" stroke="#000" stroke-width="0.6" />
<line x1="167.8" y1="237.21" x2="169.3" y2="237.21" stroke="#000" stroke-width="0.6" />
<line x1="231" y1="237.21" x2="229.5" y2="237.21" stroke="#000" stroke-width="0.6" />
<line x1="167.8" y1="214.98" x2="169.3" y2="214.98" stroke="#000" stroke-width="0.6" />
<line x1="231" y1="214.98" x2="229.5" y2="214.98" stroke="#000" stroke-width="0.6" />
<rect x="167.8" y="205.2" width="63.2" height="98.7" fill="none" stroke="#000" stroke-width="0.8" />
<rect x="178.5" y="210.8" width="33.2" height="12.7" fill="#fff" stroke="#333" stroke-width="0.4" />
<polygon points="184.5,212.6 186.2,214.3 184.5,216 182.8,214.3" fill="#d01010" stroke="none" stroke-width="0.5" />
<text x="189.8" y="214.3" font-size="4.4" font-weight="bold" fill="#111" stroke="#111" stroke-width="0.2" text-anchor="start" dominant-baseline="central" >Measured</text>
<line x1="180" y1="220" x2="189" y2="220" stroke="#f05050" stroke-width="0.6" />
<text x="189.8" y="220" font-size="4.4" font-weight="bold" fill="#111" stroke="#111" stroke-width="0.2" text-anchor="start" dominant-baseline="central" >Fitting</text>
<text x="161.6" y="303.9" font-size="4.5" font-weight="bold" fill="#111" stroke="#111" stroke-width="0.2" text-anchor="middle" dominant-baseline="central" >0</text>
<text x="161.6" y="281.67" font-size="4.5" font-weight="bold" fill="#111" stroke="#111" stroke-width="0.2" text-anchor="middle" dominant-baseline="central" >100</text>
<text x="161.6" y="259.44" font-size="4.5" font-weight="bold" fill="#111" stroke="#111" stroke-width="0.2" text-anchor="middle" dominant-baseline="central" >200</text>
<text x="161.6" y="237.21" font-size="4.5" font-weight="bold" fill="#111" stroke="#111" stroke-width="0.2" text-anchor="middle" dominant-baseline="central" >300</text>
<text x="161.6" y="214.98" font-size="4.5" font-weight="bold" fill="#111" stroke="#111" stroke-width="0.2" text-anchor="middle" dominant-baseline="central" >400</text>
<text x="168.3" y="309.5" font-size="4.6" font-weight="bold" fill="#111" stroke="#111" stroke-width="0.2" text-anchor="middle" dominant-baseline="central" >0</text>
<text x="189.2" y="309.5" font-size="4.6" font-weight="bold" fill="#111" stroke="#111" stroke-width="0.2" text-anchor="middle" dominant-baseline="central" >2</text>
<text x="210.1" y="309.5" font-size="4.6" font-weight="bold" fill="#111" stroke="#111" stroke-width="0.2" text-anchor="middle" dominant-baseline="central" >4</text>
<text x="231" y="309.5" font-size="4.6" font-weight="bold" fill="#111" stroke="#111" stroke-width="0.2" text-anchor="middle" dominant-baseline="central" >6</text>
<text x="200" y="316.3" font-size="4.5" font-weight="bold" fill="#111" stroke="#111" stroke-width="0.2" text-anchor="middle" dominant-baseline="central" >Reference flow rate (L/min)</text>
<text x="153.3" y="248.3" font-size="4.8" font-weight="bold" fill="#111" stroke="#111" stroke-width="0.2" text-anchor="middle" dominant-baseline="central" transform="rotate(-90 153.3 248.3)" >ΔToF (ns)</text>
<text x="209.5" y="287.6" font-size="4.6" font-weight="bold" fill="#d0202a" stroke="#d0202a" stroke-width="0.2" text-anchor="middle" dominant-baseline="central" >Adj. R-square</text>
<text x="209.5" y="293.2" font-size="4.6" font-weight="bold" fill="#d0202a" stroke="#d0202a" stroke-width="0.2" text-anchor="middle" dominant-baseline="central" >= 0.99625</text>
<text x="260.3" y="32.5" font-size="10" font-weight="normal" fill="#000" text-anchor="middle" dominant-baseline="central" >i</text>
<text x="262" y="181.5" font-size="10" font-weight="normal" fill="#000" text-anchor="middle" dominant-baseline="central" >ii</text>
<text x="458.8" y="90.6" font-size="11" font-weight="normal" fill="#000" text-anchor="middle" dominant-baseline="central" >iii</text>
<text x="459.3" y="175.3" font-size="11" font-weight="normal" fill="#000" text-anchor="middle" dominant-baseline="central" >iv</text>
<line x1="286.6" y1="19.8" x2="286.6" y2="147.4" stroke="#dcdcdc" stroke-width="0.5" />
<line x1="309.27" y1="19.8" x2="309.27" y2="147.4" stroke="#dcdcdc" stroke-width="0.5" />
<line x1="331.94" y1="19.8" x2="331.94" y2="147.4" stroke="#dcdcdc" stroke-width="0.5" />
<line x1="354.61" y1="19.8" x2="354.61" y2="147.4" stroke="#dcdcdc" stroke-width="0.5" />
<line x1="377.28" y1="19.8" x2="377.28" y2="147.4" stroke="#dcdcdc" stroke-width="0.5" />
<line x1="399.95" y1="19.8" x2="399.95" y2="147.4" stroke="#dcdcdc" stroke-width="0.5" />
<line x1="422.62" y1="19.8" x2="422.62" y2="147.4" stroke="#dcdcdc" stroke-width="0.5" />
<line x1="445.29" y1="19.8" x2="445.29" y2="147.4" stroke="#dcdcdc" stroke-width="0.5" />
<line x1="286.6" y1="19.8" x2="445.3" y2="19.8" stroke="#dcdcdc" stroke-width="0.5" />
<line x1="286.6" y1="41.06" x2="445.3" y2="41.06" stroke="#dcdcdc" stroke-width="0.5" />
<line x1="286.6" y1="62.32" x2="445.3" y2="62.32" stroke="#dcdcdc" stroke-width="0.5" />
<line x1="286.6" y1="83.58" x2="445.3" y2="83.58" stroke="#dcdcdc" stroke-width="0.5" />
<line x1="286.6" y1="104.84" x2="445.3" y2="104.84" stroke="#dcdcdc" stroke-width="0.5" />
<line x1="286.6" y1="126.1" x2="445.3" y2="126.1" stroke="#dcdcdc" stroke-width="0.5" />
<line x1="286.6" y1="147.36" x2="445.3" y2="147.36" stroke="#dcdcdc" stroke-width="0.5" />
<defs><clipPath id="cpi"><rect x="286.6" y="19.8" width="158.7" height="127.6"/></clipPath><pattern id="hatchI" patternUnits="userSpaceOnUse" width="8" height="60" patternTransform="rotate(12)"><line x1="0.4" y1="0" x2="0.4" y2="60" stroke="#2f6f9f" stroke-width="0.6"/><line x1="2.0" y1="0" x2="2.0" y2="60" stroke="#d8d840" stroke-width="0.55"/><line x1="3.6" y1="0" x2="3.6" y2="60" stroke="#2a9090" stroke-width="0.6"/><line x1="5.2" y1="0" x2="5.2" y2="60" stroke="#4a8ab8" stroke-width="0.55"/><line x1="6.8" y1="0" x2="6.8" y2="60" stroke="#48a080" stroke-width="0.6"/></pattern></defs>
<g clip-path="url(#cpi)">
<defs><pattern id="hatchY" patternUnits="userSpaceOnUse" width="3.2" height="60" patternTransform="rotate(-14)"><line x1="0.5" y1="0" x2="0.5" y2="60" stroke="#d8dc50" stroke-width="0.55"/><line x1="2.1" y1="0" x2="2.1" y2="60" stroke="#3a8aa0" stroke-width="0.55"/></pattern></defs>
<polygon points="270.9,79.3 283.7,83.8 288.6,76.7 301.4,81.7 306.3,74 319.1,79.5 324,71.4 336.8,77.4 341.7,67.8 354.5,74.3 359.4,64.3 372.2,71.3 377.1,60.4 389.9,67.9 394.8,55.6 407.6,63.6 412.5,51.4 425.3,59.9 430.2,46.7 443,55.7 447.9,42.5 460.7,52 456.7,126 441.9,112 439,122.2 424.2,109.3 421.3,117.8 406.5,106 403.6,114.4 388.8,103.7 385.9,107.6 371.1,98 368.2,104.4 353.4,95.9 350.5,101.7 335.7,94.3 332.8,98.1 318,91.8 315.1,94.6 300.3,89.4 297.4,92.8 282.6,88.7 279.7,91 264.9,88" fill="url(#hatchY)" stroke="none" stroke-width="0.5" />
<polygon points="270.9,79.3 283.7,83.8 279.7,91 264.9,88" fill="url(#hatchI)" stroke="none" stroke-width="0.5" />
<polygon points="288.6,76.7 301.4,81.7 297.4,92.8 282.6,88.7" fill="url(#hatchI)" stroke="none" stroke-width="0.5" />
<polygon points="306.3,74 319.1,79.5 315.1,94.6 300.3,89.4" fill="url(#hatchI)" stroke="none" stroke-width="0.5" />
<polygon points="324,71.4 336.8,77.4 332.8,98.1 318,91.8" fill="url(#hatchI)" stroke="none" stroke-width="0.5" />
<polygon points="341.7,67.8 354.5,74.3 350.5,101.7 335.7,94.3" fill="url(#hatchI)" stroke="none" stroke-width="0.5" />
<polygon points="359.4,64.3 372.2,71.3 368.2,104.4 353.4,95.9" fill="url(#hatchI)" stroke="none" stroke-width="0.5" />
<polygon points="377.1,60.4 389.9,67.9 385.9,107.6 371.1,98" fill="url(#hatchI)" stroke="none" stroke-width="0.5" />
<polygon points="394.8,55.6 407.6,63.6 403.6,114.4 388.8,103.7" fill="url(#hatchI)" stroke="none" stroke-width="0.5" />
<polygon points="412.5,51.4 425.3,59.9 421.3,117.8 406.5,106" fill="url(#hatchI)" stroke="none" stroke-width="0.5" />
<polygon points="430.2,46.7 443,55.7 439,122.2 424.2,109.3" fill="url(#hatchI)" stroke="none" stroke-width="0.5" />
<polygon points="447.9,42.5 460.7,52 456.7,126 441.9,112" fill="url(#hatchI)" stroke="none" stroke-width="0.5" />
<polyline points="264.9,88 270.9,79.3 283.7,83.8" fill="none" stroke="#3a78a8" stroke-width="0.5" opacity="0.9"/>
<polyline points="264.9,88 279.7,91 283.7,83.8" fill="none" stroke="#3a88a0" stroke-width="0.45" opacity="0.8"/>
<polyline points="282.6,88.7 288.6,76.7 301.4,81.7" fill="none" stroke="#3a78a8" stroke-width="0.5" opacity="0.9"/>
<polyline points="282.6,88.7 297.4,92.8 301.4,81.7" fill="none" stroke="#3a88a0" stroke-width="0.45" opacity="0.8"/>
<polyline points="300.3,89.4 306.3,74 319.1,79.5" fill="none" stroke="#3a78a8" stroke-width="0.5" opacity="0.9"/>
<polyline points="300.3,89.4 315.1,94.6 319.1,79.5" fill="none" stroke="#3a88a0" stroke-width="0.45" opacity="0.8"/>
<polyline points="318,91.8 324,71.4 336.8,77.4" fill="none" stroke="#3a78a8" stroke-width="0.5" opacity="0.9"/>
<polyline points="318,91.8 332.8,98.1 336.8,77.4" fill="none" stroke="#3a88a0" stroke-width="0.45" opacity="0.8"/>
<polyline points="335.7,94.3 341.7,67.8 354.5,74.3" fill="none" stroke="#3a78a8" stroke-width="0.5" opacity="0.9"/>
<polyline points="335.7,94.3 350.5,101.7 354.5,74.3" fill="none" stroke="#3a88a0" stroke-width="0.45" opacity="0.8"/>
<polyline points="353.4,95.9 359.4,64.3 372.2,71.3" fill="none" stroke="#3a78a8" stroke-width="0.5" opacity="0.9"/>
<polyline points="353.4,95.9 368.2,104.4 372.2,71.3" fill="none" stroke="#3a88a0" stroke-width="0.45" opacity="0.8"/>
<polyline points="371.1,98 377.1,60.4 389.9,67.9" fill="none" stroke="#3a78a8" stroke-width="0.5" opacity="0.9"/>
<polyline points="371.1,98 385.9,107.6 389.9,67.9" fill="none" stroke="#3a88a0" stroke-width="0.45" opacity="0.8"/>
<polyline points="388.8,103.7 394.8,55.6 407.6,63.6" fill="none" stroke="#3a78a8" stroke-width="0.5" opacity="0.9"/>
<polyline points="388.8,103.7 403.6,114.4 407.6,63.6" fill="none" stroke="#3a88a0" stroke-width="0.45" opacity="0.8"/>
<polyline points="406.5,106 412.5,51.4 425.3,59.9" fill="none" stroke="#3a78a8" stroke-width="0.5" opacity="0.9"/>
<polyline points="406.5,106 421.3,117.8 425.3,59.9" fill="none" stroke="#3a88a0" stroke-width="0.45" opacity="0.8"/>
<polyline points="424.2,109.3 430.2,46.7 443,55.7" fill="none" stroke="#3a78a8" stroke-width="0.5" opacity="0.9"/>
<polyline points="424.2,109.3 439,122.2 443,55.7" fill="none" stroke="#3a88a0" stroke-width="0.45" opacity="0.8"/>
<polyline points="441.9,112 447.9,42.5 460.7,52" fill="none" stroke="#3a78a8" stroke-width="0.5" opacity="0.9"/>
<polyline points="441.9,112 456.7,126 460.7,52" fill="none" stroke="#3a88a0" stroke-width="0.45" opacity="0.8"/>
</g>
<defs><linearGradient id="bg1" x1="0" y1="0" x2="1" y2="0"><stop offset="0.000" stop-color="#2a8a80"/><stop offset="0.028" stop-color="#3e9c78"/><stop offset="0.056" stop-color="#2a8a80"/><stop offset="0.083" stop-color="#3e9c78"/><stop offset="0.111" stop-color="#2a8a80"/><stop offset="0.139" stop-color="#3e9c78"/><stop offset="0.167" stop-color="#2a8a80"/><stop offset="0.194" stop-color="#3e9c78"/><stop offset="0.222" stop-color="#2a8a80"/><stop offset="0.250" stop-color="#3e9c78"/><stop offset="0.278" stop-color="#2a8a80"/><stop offset="0.306" stop-color="#3e9c78"/><stop offset="0.333" stop-color="#2a8a80"/><stop offset="0.361" stop-color="#3e9c78"/><stop offset="0.389" stop-color="#2a8a80"/><stop offset="0.417" stop-color="#3e9c78"/><stop offset="0.444" stop-color="#2a8a80"/><stop offset="0.472" stop-color="#3e9c78"/><stop offset="0.500" stop-color="#2a8a80"/><stop offset="0.528" stop-color="#3e9c78"/><stop offset="0.556" stop-color="#2a8a80"/><stop offset="0.583" stop-color="#3e9c78"/><stop offset="0.611" stop-color="#2a8a80"/><stop offset="0.639" stop-color="#3e9c78"/><stop offset="0.667" stop-color="#2a8a80"/><stop offset="0.694" stop-color="#3e9c78"/><stop offset="0.722" stop-color="#2a8a80"/><stop offset="0.750" stop-color="#3e9c78"/><stop offset="0.778" stop-color="#2a8a80"/><stop offset="0.806" stop-color="#3e9c78"/><stop offset="0.833" stop-color="#2a8a80"/><stop offset="0.861" stop-color="#3e9c78"/><stop offset="0.889" stop-color="#2a8a80"/><stop offset="0.917" stop-color="#3e9c78"/><stop offset="0.944" stop-color="#2a8a80"/><stop offset="0.972" stop-color="#3e9c78"/><stop offset="1.000" stop-color="#2a8a80"/></linearGradient></defs>
<path d="M328,117.5 C340,114.6 352,117 356,126.4 C352,134 342,137 330,136" stroke="#f0ec80" stroke-width="1.0" fill="none" opacity="0.9"/>
<polygon points="300,125.7 300.46,125.7 300.93,125.69 301.39,125.67 301.85,125.66 302.31,125.64 302.77,125.61 303.24,125.58 303.7,125.55 304.16,125.51 304.62,125.48 305.09,125.43 305.55,125.39 306.01,125.34 306.48,125.29 306.94,125.23 307.4,125.18 307.86,125.12 308.32,125.05 308.79,124.99 309.25,124.92 309.71,124.85 310.18,124.77 310.64,124.7 311.1,124.62 311.56,124.53 312.02,124.45 312.49,124.36 312.95,124.27 313.41,124.17 313.88,124.08 314.34,123.98 314.8,123.88 315.26,123.78 315.73,123.67 316.19,123.56 316.65,123.45 317.11,123.34 317.57,123.22 318.04,123.1 318.5,122.98 318.96,122.86 319.43,122.73 319.89,122.6 320.35,122.47 320.81,122.34 321.27,122.2 321.74,122.06 322.2,121.92 322.66,121.78 323.12,121.63 323.59,121.49 324.05,121.34 324.51,121.18 324.98,121.03 325.44,120.87 325.9,120.71 326.36,120.55 326.82,120.39 327.29,120.22 327.75,120.05 328.21,119.88 328.68,119.71 329.14,119.54 329.6,119.36 330.06,119.18 330.52,119 330.99,118.81 331.45,118.63 331.91,118.44 332.38,118.25 332.84,118.06 333.3,117.86 333.76,117.66 334.23,117.47 334.69,117.26 335.15,117.06 335.61,116.86 336.07,116.65 336.54,116.5 337,116.5 337.46,116.52 337.93,116.53 338.39,116.55 338.85,116.58 339.31,116.62 339.77,116.66 340.24,116.7 340.7,116.75 341.16,116.81 341.62,116.88 342.09,116.95 342.55,117.03 343.01,117.11 343.48,117.2 343.94,117.3 344.4,117.41 344.86,117.52 345.32,117.65 345.79,117.78 346.25,117.92 346.71,118.07 347.18,118.23 347.64,118.39 348.1,118.57 348.56,118.77 349.02,118.97 349.49,119.19 349.95,119.42 350.41,119.67 350.88,119.94 351.34,120.23 351.8,120.54 352.26,120.89 352.73,121.26 353.19,121.68 353.65,122.15 354.11,122.7 354.57,123.36 355.04,124.23 355.5,126.4 355.5,126.4 355.04,128.57 354.57,129.44 354.11,130.1 353.65,130.65 353.19,131.12 352.73,131.54 352.26,131.91 351.8,132.26 351.34,132.57 350.88,132.86 350.41,133.13 349.95,133.38 349.49,133.61 349.02,133.83 348.56,134.03 348.1,134.23 347.64,134.41 347.18,134.57 346.71,134.73 346.25,134.88 345.79,135.02 345.32,135.15 344.86,135.28 344.4,135.39 343.94,135.5 343.48,135.6 343.01,135.69 342.55,135.77 342.09,135.85 341.62,135.92 341.16,135.99 340.7,136.05 340.24,136.1 339.77,136.14 339.31,136.18 338.85,136.22 338.39,136.25 337.93,136.27 337.46,136.28 337,136.3 336.54,136.3 336.07,136.15 335.61,135.94 335.15,135.74 334.69,135.54 334.23,135.33 333.76,135.14 333.3,134.94 332.84,134.74 332.38,134.55 331.91,134.36 331.45,134.17 330.99,133.99 330.52,133.8 330.06,133.62 329.6,133.44 329.14,133.26 328.68,133.09 328.21,132.92 327.75,132.75 327.29,132.58 326.82,132.41 326.36,132.25 325.9,132.09 325.44,131.93 324.98,131.77 324.51,131.62 324.05,131.46 323.59,131.31 323.12,131.17 322.66,131.02 322.2,130.88 321.74,130.74 321.27,130.6 320.81,130.46 320.35,130.33 319.89,130.2 319.43,130.07 318.96,129.94 318.5,129.82 318.04,129.7 317.57,129.58 317.11,129.46 316.65,129.35 316.19,129.24 315.73,129.13 315.26,129.02 314.8,128.92 314.34,128.82 313.88,128.72 313.41,128.63 312.95,128.53 312.49,128.44 312.02,128.35 311.56,128.27 311.1,128.18 310.64,128.1 310.18,128.03 309.71,127.95 309.25,127.88 308.79,127.81 308.32,127.75 307.86,127.68 307.4,127.62 306.94,127.57 306.48,127.51 306.01,127.46 305.55,127.41 305.09,127.37 304.62,127.32 304.16,127.29 303.7,127.25 303.24,127.22 302.77,127.19 302.31,127.16 301.85,127.14 301.39,127.13 300.93,127.11 300.46,127.1 300,127.1" fill="url(#bg1)" stroke="none" stroke-width="0.5" />
<rect x="310.4" y="117.5" width="15.8" height="16.7" fill="none" stroke="#3f6fd0" stroke-width="0.6" stroke-dasharray="2 0.8 0.6 0.8"/>
<line x1="340.6" y1="102.3" x2="327.2" y2="115.3" stroke="#3f6fd0" stroke-width="0.75" />
<polygon points="326.2,116.4 326.9,113.3 329.1,115.4" fill="#3f6fd0" stroke="none" stroke-width="0.5" />
<text x="365.2" y="126.2" font-size="4.75" font-weight="normal" fill="#f08a30" stroke="#f08a30" stroke-width="0.06" text-anchor="start" dominant-baseline="central" >RX1 signals: downstream</text>
<rect x="356.1" y="24.5" width="41.1" height="23.9" fill="#fff" stroke="none" stroke-width="0.8" />
<defs><clipPath id="cpin1"><rect x="356.1" y="24.5" width="41.1" height="23.9"/></clipPath></defs><g clip-path="url(#cpin1)">
<polyline points="356.2,48.4 356.54,46.6 356.88,44.8 357.22,43.03 357.56,41.29 357.9,39.6 358.24,37.96 358.58,36.38 358.92,34.88 359.26,33.46 359.6,32.14 359.94,30.91 360.28,29.79 360.62,28.79 360.96,27.91 361.3,27.15 361.64,26.53 361.98,26.04 362.32,25.68 362.66,25.47 363,25.4 363.34,25.47 363.68,25.68 364.02,26.04 364.36,26.53 364.7,27.15 365.04,27.91 365.38,28.79 365.72,29.79 366.06,30.91 366.4,32.14 366.74,33.46 367.08,34.88 367.42,36.38 367.76,37.96 368.1,39.6 368.44,41.29 368.78,43.03 369.12,44.8 369.46,46.6 369.8,48.4" fill="none" stroke="#2f6a9c" stroke-width="0.5" />
<polyline points="360.8,48.4 361.14,46.72 361.48,45.04 361.82,43.39 362.16,41.77 362.5,40.19 362.84,38.66 363.18,37.19 363.52,35.79 363.86,34.47 364.2,33.23 364.54,32.09 364.88,31.05 365.22,30.11 365.56,29.29 365.9,28.58 366.24,28 366.58,27.54 366.92,27.21 367.26,27.02 367.6,26.95 367.94,27.02 368.28,27.21 368.62,27.54 368.96,28 369.3,28.58 369.64,29.29 369.98,30.11 370.32,31.05 370.66,32.09 371,33.23 371.34,34.47 371.68,35.79 372.02,37.19 372.36,38.66 372.7,40.19 373.04,41.77 373.38,43.39 373.72,45.04 374.06,46.72 374.4,48.4" fill="none" stroke="#2a8aa0" stroke-width="0.5" />
<polyline points="365.4,48.4 365.74,46.84 366.08,45.29 366.42,43.75 366.76,42.25 367.1,40.78 367.44,39.37 367.78,38 368.12,36.7 368.46,35.48 368.8,34.33 369.14,33.27 369.48,32.3 369.82,31.43 370.16,30.67 370.5,30.01 370.84,29.47 371.18,29.05 371.52,28.75 371.86,28.56 372.2,28.5 372.54,28.56 372.88,28.75 373.22,29.05 373.56,29.47 373.9,30.01 374.24,30.67 374.58,31.43 374.92,32.3 375.26,33.27 375.6,34.33 375.94,35.48 376.28,36.7 376.62,38 376.96,39.37 377.3,40.78 377.64,42.25 377.98,43.75 378.32,45.29 378.66,46.84 379,48.4" fill="none" stroke="#3aa098" stroke-width="0.5" />
<polyline points="370,48.4 370.34,46.96 370.68,45.53 371.02,44.12 371.36,42.73 371.7,41.38 372.04,40.07 372.38,38.81 372.72,37.61 373.06,36.48 373.4,35.42 373.74,34.45 374.08,33.55 374.42,32.75 374.76,32.05 375.1,31.45 375.44,30.95 375.78,30.56 376.12,30.28 376.46,30.11 376.8,30.05 377.14,30.11 377.48,30.28 377.82,30.56 378.16,30.95 378.5,31.45 378.84,32.05 379.18,32.75 379.52,33.55 379.86,34.45 380.2,35.42 380.54,36.48 380.88,37.61 381.22,38.81 381.56,40.07 381.9,41.38 382.24,42.73 382.58,44.12 382.92,45.53 383.26,46.96 383.6,48.4" fill="none" stroke="#2aa070" stroke-width="0.5" />
<polyline points="374.6,48.4 374.94,47.08 375.28,45.77 375.62,44.48 375.96,43.21 376.3,41.97 376.64,40.77 376.98,39.62 377.32,38.53 377.66,37.49 378,36.52 378.34,35.63 378.68,34.81 379.02,34.08 379.36,33.43 379.7,32.88 380.04,32.42 380.38,32.06 380.72,31.81 381.06,31.65 381.4,31.6 381.74,31.65 382.08,31.81 382.42,32.06 382.76,32.42 383.1,32.88 383.44,33.43 383.78,34.08 384.12,34.81 384.46,35.63 384.8,36.52 385.14,37.49 385.48,38.53 385.82,39.62 386.16,40.77 386.5,41.97 386.84,43.21 387.18,44.48 387.52,45.77 387.86,47.08 388.2,48.4" fill="none" stroke="#58b448" stroke-width="0.5" />
<polyline points="379.2,48.4 379.54,47.2 379.88,46.01 380.22,44.84 380.56,43.69 380.9,42.56 381.24,41.48 381.58,40.43 381.92,39.44 382.26,38.5 382.6,37.62 382.94,36.8 383.28,36.06 383.62,35.4 383.96,34.81 384.3,34.31 384.64,33.9 384.98,33.57 385.32,33.34 385.66,33.2 386,33.15 386.34,33.2 386.68,33.34 387.02,33.57 387.36,33.9 387.7,34.31 388.04,34.81 388.38,35.4 388.72,36.06 389.06,36.8 389.4,37.62 389.74,38.5 390.08,39.44 390.42,40.43 390.76,41.48 391.1,42.56 391.44,43.69 391.78,44.84 392.12,46.01 392.46,47.2 392.8,48.4" fill="none" stroke="#b8d848" stroke-width="0.5" />
<polyline points="383.8,48.4 384.14,47.33 384.48,46.26 384.82,45.2 385.16,44.17 385.5,43.16 385.84,42.18 386.18,41.24 386.52,40.35 386.86,39.5 387.2,38.71 387.54,37.98 387.88,37.32 388.22,36.72 388.56,36.19 388.9,35.74 389.24,35.37 389.58,35.08 389.92,34.87 390.26,34.74 390.6,34.7 390.94,34.74 391.28,34.87 391.62,35.08 391.96,35.37 392.3,35.74 392.64,36.19 392.98,36.72 393.32,37.32 393.66,37.98 394,38.71 394.34,39.5 394.68,40.35 395.02,41.24 395.36,42.18 395.7,43.16 396.04,44.17 396.38,45.2 396.72,46.26 397.06,47.33 397.4,48.4" fill="none" stroke="#e8e040" stroke-width="0.5" />
</g>
<rect x="356.1" y="24.5" width="41.1" height="23.9" fill="none" stroke="#222" stroke-width="0.6" stroke-dasharray="2.2 0.8 0.6 0.8"/>
<line x1="372.7" y1="48.6" x2="366" y2="62.5" stroke="#111" stroke-width="0.85" />
<polygon points="365.2,64.2 365.4,61.2 367.6,62.3" fill="#111" stroke="none" stroke-width="0.5" />
<line x1="286.6" y1="147.4" x2="286.6" y2="145.9" stroke="#000" stroke-width="0.6" />
<line x1="286.6" y1="19.8" x2="286.6" y2="21.3" stroke="#000" stroke-width="0.6" />
<line x1="309.27" y1="147.4" x2="309.27" y2="145.9" stroke="#000" stroke-width="0.6" />
<line x1="309.27" y1="19.8" x2="309.27" y2="21.3" stroke="#000" stroke-width="0.6" />
<line x1="331.94" y1="147.4" x2="331.94" y2="145.9" stroke="#000" stroke-width="0.6" />
<line x1="331.94" y1="19.8" x2="331.94" y2="21.3" stroke="#000" stroke-width="0.6" />
<line x1="354.61" y1="147.4" x2="354.61" y2="145.9" stroke="#000" stroke-width="0.6" />
<line x1="354.61" y1="19.8" x2="354.61" y2="21.3" stroke="#000" stroke-width="0.6" />
<line x1="377.28" y1="147.4" x2="377.28" y2="145.9" stroke="#000" stroke-width="0.6" />
<line x1="377.28" y1="19.8" x2="377.28" y2="21.3" stroke="#000" stroke-width="0.6" />
<line x1="399.95" y1="147.4" x2="399.95" y2="145.9" stroke="#000" stroke-width="0.6" />
<line x1="399.95" y1="19.8" x2="399.95" y2="21.3" stroke="#000" stroke-width="0.6" />
<line x1="422.62" y1="147.4" x2="422.62" y2="145.9" stroke="#000" stroke-width="0.6" />
<line x1="422.62" y1="19.8" x2="422.62" y2="21.3" stroke="#000" stroke-width="0.6" />
<line x1="445.29" y1="147.4" x2="445.29" y2="145.9" stroke="#000" stroke-width="0.6" />
<line x1="445.29" y1="19.8" x2="445.29" y2="21.3" stroke="#000" stroke-width="0.6" />
<line x1="286.6" y1="19.8" x2="288.1" y2="19.8" stroke="#000" stroke-width="0.6" />
<line x1="445.3" y1="19.8" x2="443.8" y2="19.8" stroke="#000" stroke-width="0.6" />
<line x1="286.6" y1="41.06" x2="288.1" y2="41.06" stroke="#000" stroke-width="0.6" />
<line x1="445.3" y1="41.06" x2="443.8" y2="41.06" stroke="#000" stroke-width="0.6" />
<line x1="286.6" y1="62.32" x2="288.1" y2="62.32" stroke="#000" stroke-width="0.6" />
<line x1="445.3" y1="62.32" x2="443.8" y2="62.32" stroke="#000" stroke-width="0.6" />
<line x1="286.6" y1="83.58" x2="288.1" y2="83.58" stroke="#000" stroke-width="0.6" />
<line x1="445.3" y1="83.58" x2="443.8" y2="83.58" stroke="#000" stroke-width="0.6" />
<line x1="286.6" y1="104.84" x2="288.1" y2="104.84" stroke="#000" stroke-width="0.6" />
<line x1="445.3" y1="104.84" x2="443.8" y2="104.84" stroke="#000" stroke-width="0.6" />
<line x1="286.6" y1="126.1" x2="288.1" y2="126.1" stroke="#000" stroke-width="0.6" />
<line x1="445.3" y1="126.1" x2="443.8" y2="126.1" stroke="#000" stroke-width="0.6" />
<line x1="286.6" y1="147.36" x2="288.1" y2="147.36" stroke="#000" stroke-width="0.6" />
<line x1="445.3" y1="147.36" x2="443.8" y2="147.36" stroke="#000" stroke-width="0.6" />
<rect x="286.6" y="19.8" width="158.7" height="127.6" fill="none" stroke="#000" stroke-width="0.8" />
<rect x="288.2" y="21.9" width="32.6" height="50.3" fill="#fff" stroke="#555" stroke-width="0.5" />
<text x="290" y="26.2" font-size="4.35" font-weight="bold" fill="#111" stroke="#111" stroke-width="0.2" text-anchor="start" dominant-baseline="central" >Flow rate:</text>
<line x1="290" y1="32.5" x2="301" y2="32.5" stroke="#f5e060" stroke-width="1.3" />
<text x="302.5" y="32.5" font-size="4.0" font-weight="bold" fill="#111" stroke="#111" stroke-width="0.2" text-anchor="start" dominant-baseline="central" >5L/min</text>
<line x1="290" y1="38.45" x2="301" y2="38.45" stroke="#d4e480" stroke-width="1.3" />
<text x="302.5" y="38.45" font-size="4.0" font-weight="bold" fill="#111" stroke="#111" stroke-width="0.2" text-anchor="start" dominant-baseline="central" >10L/min</text>
<line x1="290" y1="44.4" x2="301" y2="44.4" stroke="#58b848" stroke-width="1.3" />
<text x="302.5" y="44.4" font-size="4.0" font-weight="bold" fill="#111" stroke="#111" stroke-width="0.2" text-anchor="start" dominant-baseline="central" >15L/min</text>
<line x1="290" y1="50.35" x2="301" y2="50.35" stroke="#3aa888" stroke-width="1.3" />
<text x="302.5" y="50.35" font-size="4.0" font-weight="bold" fill="#111" stroke="#111" stroke-width="0.2" text-anchor="start" dominant-baseline="central" >20L/min</text>
<line x1="290" y1="56.3" x2="301" y2="56.3" stroke="#b4e0e0" stroke-width="1.3" />
<text x="302.5" y="56.3" font-size="4.0" font-weight="bold" fill="#111" stroke="#111" stroke-width="0.2" text-anchor="start" dominant-baseline="central" >25L/min</text>
<line x1="290" y1="62.25" x2="301" y2="62.25" stroke="#4890a8" stroke-width="1.3" />
<text x="302.5" y="62.25" font-size="4.0" font-weight="bold" fill="#111" stroke="#111" stroke-width="0.2" text-anchor="start" dominant-baseline="central" >30L/min</text>
<line x1="290" y1="68.2" x2="301" y2="68.2" stroke="#98b8dc" stroke-width="1.3" />
<text x="302.5" y="68.2" font-size="4.0" font-weight="bold" fill="#111" stroke="#111" stroke-width="0.2" text-anchor="start" dominant-baseline="central" >35L/min</text>
<text x="278.8" y="19.8" font-size="5.5" font-weight="bold" fill="#111" stroke="#111" stroke-width="0.2" text-anchor="middle" dominant-baseline="central" >0.6</text>
<text x="278.8" y="41.06" font-size="5.5" font-weight="bold" fill="#111" stroke="#111" stroke-width="0.2" text-anchor="middle" dominant-baseline="central" >0.4</text>
<text x="278.8" y="62.32" font-size="5.5" font-weight="bold" fill="#111" stroke="#111" stroke-width="0.2" text-anchor="middle" dominant-baseline="central" >0.2</text>
<text x="278.8" y="83.58" font-size="5.5" font-weight="bold" fill="#111" stroke="#111" stroke-width="0.2" text-anchor="middle" dominant-baseline="central" >0.0</text>
<text x="278.8" y="104.84" font-size="5.5" font-weight="bold" fill="#111" stroke="#111" stroke-width="0.2" text-anchor="middle" dominant-baseline="central" >−0.2</text>
<text x="278.8" y="126.1" font-size="5.5" font-weight="bold" fill="#111" stroke="#111" stroke-width="0.2" text-anchor="middle" dominant-baseline="central" >−0.4</text>
<text x="278.8" y="147.36" font-size="5.5" font-weight="bold" fill="#111" stroke="#111" stroke-width="0.2" text-anchor="middle" dominant-baseline="central" >−0.6</text>
<text x="286.6" y="153.8" font-size="5.5" font-weight="bold" fill="#111" stroke="#111" stroke-width="0.2" text-anchor="middle" dominant-baseline="central" >475</text>
<text x="309.27" y="153.8" font-size="5.5" font-weight="bold" fill="#111" stroke="#111" stroke-width="0.2" text-anchor="middle" dominant-baseline="central" >480</text>
<text x="331.94" y="153.8" font-size="5.5" font-weight="bold" fill="#111" stroke="#111" stroke-width="0.2" text-anchor="middle" dominant-baseline="central" >485</text>
<text x="354.61" y="153.8" font-size="5.5" font-weight="bold" fill="#111" stroke="#111" stroke-width="0.2" text-anchor="middle" dominant-baseline="central" >490</text>
<text x="377.28" y="153.8" font-size="5.5" font-weight="bold" fill="#111" stroke="#111" stroke-width="0.2" text-anchor="middle" dominant-baseline="central" >495</text>
<text x="399.95" y="153.8" font-size="5.5" font-weight="bold" fill="#111" stroke="#111" stroke-width="0.2" text-anchor="middle" dominant-baseline="central" >500</text>
<text x="422.62" y="153.8" font-size="5.5" font-weight="bold" fill="#111" stroke="#111" stroke-width="0.2" text-anchor="middle" dominant-baseline="central" >505</text>
<text x="445.29" y="153.8" font-size="5.5" font-weight="bold" fill="#111" stroke="#111" stroke-width="0.2" text-anchor="middle" dominant-baseline="central" >510</text>
<text x="366" y="165" font-size="5.8" font-weight="bold" fill="#111" stroke="#111" stroke-width="0.2" text-anchor="middle" dominant-baseline="central" >Time (µs)</text>
<text x="261.2" y="84.2" font-size="5.85" font-weight="bold" fill="#111" stroke="#111" stroke-width="0.2" text-anchor="middle" dominant-baseline="central" transform="rotate(-90 261.2 84.2)" >Voltage (V)</text>
<line x1="286.6" y1="172.5" x2="286.6" y2="301.2" stroke="#dcdcdc" stroke-width="0.5" />
<line x1="309.27" y1="172.5" x2="309.27" y2="301.2" stroke="#dcdcdc" stroke-width="0.5" />
<line x1="331.94" y1="172.5" x2="331.94" y2="301.2" stroke="#dcdcdc" stroke-width="0.5" />
<line x1="354.61" y1="172.5" x2="354.61" y2="301.2" stroke="#dcdcdc" stroke-width="0.5" />
<line x1="377.28" y1="172.5" x2="377.28" y2="301.2" stroke="#dcdcdc" stroke-width="0.5" />
<line x1="399.95" y1="172.5" x2="399.95" y2="301.2" stroke="#dcdcdc" stroke-width="0.5" />
<line x1="422.62" y1="172.5" x2="422.62" y2="301.2" stroke="#dcdcdc" stroke-width="0.5" />
<line x1="445.29" y1="172.5" x2="445.29" y2="301.2" stroke="#dcdcdc" stroke-width="0.5" />
<line x1="286.6" y1="172.5" x2="445.3" y2="172.5" stroke="#dcdcdc" stroke-width="0.5" />
<line x1="286.6" y1="193.95" x2="445.3" y2="193.95" stroke="#dcdcdc" stroke-width="0.5" />
<line x1="286.6" y1="215.4" x2="445.3" y2="215.4" stroke="#dcdcdc" stroke-width="0.5" />
<line x1="286.6" y1="236.85" x2="445.3" y2="236.85" stroke="#dcdcdc" stroke-width="0.5" />
<line x1="286.6" y1="258.3" x2="445.3" y2="258.3" stroke="#dcdcdc" stroke-width="0.5" />
<line x1="286.6" y1="279.75" x2="445.3" y2="279.75" stroke="#dcdcdc" stroke-width="0.5" />
<line x1="286.6" y1="301.2" x2="445.3" y2="301.2" stroke="#dcdcdc" stroke-width="0.5" />
<defs><clipPath id="cpii"><rect x="286.6" y="172.5" width="158.7" height="128.7"/></clipPath></defs>
<g clip-path="url(#cpii)">
<polyline points="280,240.35 280.4,240.18 280.8,239.96 281.2,239.7 281.6,239.38 282,239.03 282.4,238.65 282.8,238.24 283.2,237.82 283.6,237.39 284,236.97 284.4,236.55 284.8,236.16 285.2,235.79 285.6,235.46 286,235.16 286.4,234.86 286.8,234.61 287.2,234.41 287.6,234.27 288,234.19 288.4,234.18 288.8,234.24 289.2,234.37 289.6,234.57 290,234.84 290.4,235.17 290.8,235.56 291.2,236.01 291.6,236.5 292,237.03 292.4,237.58 292.8,238.16 293.2,238.73 293.6,239.3 294,239.84 294.4,240.36 294.8,240.82 295.2,241.24 295.6,241.59 296,241.86 296.4,242.05 296.8,242.15 297.2,242.15 297.6,242.06 298,241.88 298.4,241.59 298.8,241.22 299.2,240.75 299.6,240.21 300,239.6 300.4,238.93 300.8,238.21 301.2,237.46 301.6,236.69 302,235.92 302.4,235.17 302.8,234.44 303.2,233.76 303.6,233.14 304,232.6 304.4,232.14 304.8,231.78 305.2,231.54 305.6,231.41 306,231.4 306.4,231.52 306.8,231.77 307.2,232.14 307.6,232.63 308,233.22 308.4,233.92 308.8,234.71 309.2,235.57 309.6,236.49 310,237.45 310.4,238.43 310.8,239.41 311.2,240.38 311.6,241.3 312,242.16 312.4,242.95 312.8,243.63 313.2,244.21 313.6,244.66 314,244.97 314.4,245.13 314.8,245.14 315.2,245 315.6,244.7 316,244.24 316.4,243.64 316.8,242.9 317.2,242.03 317.6,241.06 318,240 318.4,238.86 318.8,237.68 319.2,236.47 319.6,235.27 320,234.08 320.4,232.95 320.8,231.89 321.2,230.92 321.6,230.08 322,229.37 322.4,228.81 322.8,228.43 323.2,228.22 323.6,228.2 324,228.37 324.4,228.73 324.8,229.27 325.2,229.99 325.6,230.88 326,231.92 326.4,233.08 326.8,234.36 327.2,235.72 327.6,237.14 328,238.59 328.4,240.04 328.8,241.46 329.2,242.82 329.6,244.09 330,245.25 330.4,246.27 330.8,247.12 331.2,247.8 331.6,248.27 332,248.52 332.4,248.56 332.8,248.37 333.2,247.96 333.6,247.33 334,246.49 334.4,245.45 334.8,244.23 335.2,242.86 335.6,241.36 336,239.76 336.4,238.09 336.8,236.39 337.2,234.68 337.6,233.01 338,231.41 338.4,229.9 338.8,228.54 339.2,227.33 339.6,226.32 340,225.52 340.4,224.95 340.8,224.63 341.2,224.57 341.6,224.77 342,225.24 342.4,225.96 342.8,226.92 343.2,228.12 343.6,229.52 344,231.1 344.4,232.83 344.8,234.68 345.2,236.61 345.6,238.59 346,240.57 346.4,242.51 346.8,244.37 347.2,246.12 347.6,247.71 348,249.12 348.4,250.31 348.8,251.25 349.2,251.92 349.6,252.31 350,252.4 350.4,252.19 350.8,251.68 351.2,250.87 351.6,249.78 352,248.43 352.4,246.84 352.8,245.03 353.2,243.06 353.6,240.95 354,238.74 354.4,236.48 354.8,234.21 355.2,231.99 355.6,229.85 356,227.84 356.4,226.01 356.8,224.38 357.2,223.01 357.6,221.91 358,221.12 358.4,220.65 358.8,220.52 359.2,220.74 359.6,221.29 360,222.19 360.4,223.4 360.8,224.92 361.2,226.7 361.6,228.73 362,230.96 362.4,233.34 362.8,235.84 363.2,238.4 363.6,240.97 364,243.49 364.4,245.92 364.8,248.21 365.2,250.3 365.6,252.16 366,253.73 366.4,255 366.8,255.92 367.2,256.48 367.6,256.65 368,256.44 368.4,255.85 368.8,254.87 369.2,253.53 369.6,251.85 370,249.86 370.4,247.6 370.8,245.12 371.2,242.45 371.6,239.65 372,236.78 372.4,233.89 372.8,231.05 373.2,228.32 373.6,225.74 374,223.37 374.4,221.27 374.8,219.47 375.2,218.02 375.6,216.96 376,216.3 376.4,216.07 376.8,216.26 377.2,216.9 377.6,217.95 378,219.42 378.4,221.26 378.8,223.45 379.2,225.95 379.6,228.71 380,231.68 380.4,234.79 380.8,237.98 381.2,241.2 381.6,244.37 382,247.43 382.4,250.32 382.8,252.98 383.2,255.35 383.6,257.38 384,259.02 384.4,260.24 384.8,261.01 385.2,261.32 385.6,261.14 386,260.48 386.4,259.34 386.8,257.76 387.2,255.74 387.6,253.34 388,250.6 388.4,247.56 388.8,244.29 389.2,240.86 389.6,237.32 390,233.76 390.4,230.24 390.8,226.84 391.2,223.62 391.6,220.65 392,218 392.4,215.73 392.8,213.87 393.2,212.48 393.6,211.58 394,211.2 394.4,211.36 394.8,212.04 395.2,213.24 395.6,214.95 396,217.13 396.4,219.75 396.8,222.74 397.2,226.06 397.6,229.65 398,233.42 398.4,237.3 398.8,241.23 399.2,245.11 399.6,248.87 400,252.43 400.4,255.72 400.8,258.67 401.2,261.21 401.6,263.29 402,264.87 402.4,265.91 402.8,266.37 403.2,266.26 403.6,265.56 404,264.29 404.4,262.46 404.8,260.11 405.2,257.28 405.6,254.03 406,250.42 406.4,246.52 406.8,242.4 407.2,238.14 407.6,233.84 408,229.58 408.4,225.45 408.8,221.53 409.2,217.9 409.6,214.63 410,211.81 410.4,209.48 410.8,207.71 411.2,206.52 411.6,205.95 412,206.02 412.4,206.73 412.8,208.06 413.2,210 413.6,212.52 414,215.56 414.4,219.07 414.8,222.99 415.2,227.22 415.6,231.7 416,236.33 416.4,241.02 416.8,245.67 417.2,250.2 417.6,254.5 418,258.49 418.4,262.08 418.8,265.21 419.2,267.79 419.6,269.78 420,271.14 420.4,271.82 420.8,271.81 421.2,271.1 421.6,269.71 422,267.65 422.4,264.97 422.8,261.71 423.2,257.94 423.6,253.72 424,249.15 424.4,244.3 424.8,239.28 425.2,234.19 425.6,229.12 426,224.19 426.4,219.5 426.8,215.13 427.2,211.18 427.6,207.74 428,204.88 428.4,202.66 428.8,201.13 429.2,200.32 429.6,200.26 430,200.96 430.4,202.4 430.8,204.56 431.2,207.41 431.6,210.89 432,214.93 432.4,219.45 432.8,224.38 433.2,229.6 433.6,235.02 434,240.53 434.4,246.02 434.8,251.38 435.2,256.49 435.6,261.25 436,265.56 436.4,269.33 436.8,272.49 437.2,274.96 437.6,276.69 438,277.63 438.4,277.77 438.8,277.09 439.2,275.61 439.6,273.34 440,270.33 440.4,266.64 440.8,262.33 441.2,257.49 441.6,252.21 442,246.6 442.4,240.76 442.8,234.82 443.2,228.89 443.6,223.1 444,217.56 444.4,212.39 444.8,207.69 445.2,203.56 445.6,200.1 446,197.36 446.4,195.43 446.8,194.33 447.2,194.1 447.6,194.75 448,196.26 448.4,198.63 448.8,201.79 449.2,205.7 449.6,210.28 450,215.44" fill="none" stroke="#d8d434" stroke-width="0.55" />
<polyline points="280,240.53 280.4,240.59 280.8,240.58 281.2,240.52 281.6,240.39 282,240.21 282.4,239.97 282.8,239.68 283.2,239.35 283.6,238.98 284,238.58 284.4,238.15 284.8,237.72 285.2,237.28 285.6,236.85 286,236.42 286.4,235.99 286.8,235.58 287.2,235.19 287.6,234.84 288,234.53 288.4,234.27 288.8,234.07 289.2,233.93 289.6,233.87 290,233.88 290.4,233.96 290.8,234.13 291.2,234.37 291.6,234.68 292,235.06 292.4,235.51 292.8,236.01 293.2,236.55 293.6,237.14 294,237.75 294.4,238.37 294.8,238.99 295.2,239.6 295.6,240.18 296,240.73 296.4,241.22 296.8,241.65 297.2,242 297.6,242.27 298,242.45 298.4,242.53 298.8,242.51 299.2,242.38 299.6,242.15 300,241.82 300.4,241.39 300.8,240.87 301.2,240.26 301.6,239.59 302,238.85 302.4,238.07 302.8,237.25 303.2,236.43 303.6,235.6 304,234.8 304.4,234.03 304.8,233.32 305.2,232.67 305.6,232.11 306,231.65 306.4,231.3 306.8,231.07 307.2,230.97 307.6,231 308,231.16 308.4,231.46 308.8,231.89 309.2,232.44 309.6,233.11 310,233.88 310.4,234.75 310.8,235.68 311.2,236.68 311.6,237.71 312,238.76 312.4,239.8 312.8,240.82 313.2,241.78 313.6,242.68 314,243.49 314.4,244.2 314.8,244.78 315.2,245.22 315.6,245.51 316,245.64 316.4,245.61 316.8,245.41 317.2,245.04 317.6,244.52 318,243.84 318.4,243.02 318.8,242.07 319.2,241.01 319.6,239.86 320,238.64 320.4,237.37 320.8,236.09 321.2,234.81 321.6,233.57 322,232.38 322.4,231.28 322.8,230.29 323.2,229.43 323.6,228.72 324,228.18 324.4,227.81 324.8,227.65 325.2,227.68 325.6,227.91 326,228.34 326.4,228.96 326.8,229.77 327.2,230.75 327.6,231.89 328,233.16 328.4,234.53 328.8,235.99 329.2,237.5 329.6,239.03 330,240.56 330.4,242.05 330.8,243.47 331.2,244.78 331.6,245.97 332,247.01 332.4,247.86 332.8,248.52 333.2,248.96 333.6,249.17 334,249.15 334.4,248.89 334.8,248.4 335.2,247.67 335.6,246.73 336,245.58 336.4,244.26 336.8,242.77 337.2,241.16 337.6,239.45 338,237.68 338.4,235.88 338.8,234.09 339.2,232.34 339.6,230.67 340,229.12 340.4,227.72 340.8,226.5 341.2,225.49 341.6,224.7 342,224.17 342.4,223.91 342.8,223.91 343.2,224.2 343.6,224.76 344,225.58 344.4,226.66 344.8,227.97 345.2,229.5 345.6,231.21 346,233.07 346.4,235.04 346.8,237.09 347.2,239.17 347.6,241.24 348,243.27 348.4,245.2 348.8,247 349.2,248.63 349.6,250.05 350,251.23 350.4,252.15 350.8,252.79 351.2,253.12 351.6,253.13 352,252.83 352.4,252.21 352.8,251.29 353.2,250.07 353.6,248.58 354,246.85 354.4,244.91 354.8,242.8 355.2,240.55 355.6,238.21 356,235.83 356.4,233.46 356.8,231.14 357.2,228.93 357.6,226.86 358,224.99 358.4,223.35 358.8,221.98 359.2,220.91 359.6,220.16 360,219.76 360.4,219.71 360.8,220.03 361.2,220.7 361.6,221.73 362,223.08 362.4,224.75 362.8,226.69 363.2,228.87 363.6,231.25 364,233.79 364.4,236.43 364.8,239.12 365.2,241.8 365.6,244.43 366,246.94 366.4,249.29 366.8,251.42 367.2,253.3 367.6,254.87 368,256.11 368.4,256.98 368.8,257.46 369.2,257.55 369.6,257.22 370,256.5 370.4,255.38 370.8,253.88 371.2,252.04 371.6,249.88 372,247.45 372.4,244.79 372.8,241.96 373.2,239 373.6,235.99 374,232.98 374.4,230.02 374.8,227.19 375.2,224.55 375.6,222.13 376,220.01 376.4,218.22 376.8,216.8 377.2,215.79 377.6,215.22 378,215.08 378.4,215.41 378.8,216.18 379.2,217.4 379.6,219.03 380,221.06 380.4,223.44 380.8,226.12 381.2,229.07 381.6,232.21 382,235.49 382.4,238.85 382.8,242.2 383.2,245.5 383.6,248.66 384,251.63 384.4,254.33 384.8,256.72 385.2,258.74 385.6,260.35 386,261.52 386.4,262.2 386.8,262.39 387.2,262.07 387.6,261.26 388,259.95 388.4,258.18 388.8,255.97 389.2,253.36 389.6,250.41 390,247.18 390.4,243.71 390.8,240.09 391.2,236.38 391.6,232.67 392,229.01 392.4,225.5 392.8,222.2 393.2,219.18 393.6,216.51 394,214.24 394.4,212.42 394.8,211.09 395.2,210.29 395.6,210.03 396,210.33 396.4,211.18 396.8,212.58 397.2,214.49 397.6,216.88 398,219.72 398.4,222.93 398.8,226.48 399.2,230.27 399.6,234.24 400,238.32 400.4,242.41 400.8,246.44 401.2,250.32 401.6,253.97 402,257.32 402.4,260.29 402.8,262.83 403.2,264.87 403.6,266.38 404,267.31 404.4,267.65 404.8,267.37 405.2,266.49 405.6,265.02 406,262.97 406.4,260.39 406.8,257.32 407.2,253.83 407.6,249.98 408,245.85 408.4,241.51 408.8,237.05 409.2,232.57 409.6,228.15 410,223.89 410.4,219.87 410.8,216.17 411.2,212.88 411.6,210.06 412,207.77 412.4,206.07 412.8,205 413.2,204.57 413.6,204.81 414,205.71 414.4,207.27 414.8,209.45 415.2,212.21 415.6,215.51 416,219.28 416.4,223.45 416.8,227.94 417.2,232.65 417.6,237.5 418,242.39 418.4,247.21 418.8,251.88 419.2,256.28 419.6,260.34 420,263.97 420.4,267.09 420.8,269.64 421.2,271.55 421.6,272.78 422,273.31 422.4,273.12 422.8,272.2 423.2,270.58 423.6,268.27 424,265.32 424.4,261.78 424.8,257.73 425.2,253.23 425.6,248.39 426,243.29 426.4,238.03 426.8,232.72 427.2,227.48 427.6,222.39 428,217.58 428.4,213.14 428.8,209.15 429.2,205.72 429.6,202.9 430,200.76 430.4,199.35 430.8,198.71 431.2,198.85 431.6,199.77 432,201.46 432.4,203.89 432.8,207.03 433.2,210.8 433.6,215.14 434,219.96 434.4,225.18 434.8,230.68 435.2,236.35 435.6,242.09 436,247.78 436.4,253.3 436.8,258.53 437.2,263.38 437.6,267.74 438,271.51 438.4,274.62 438.8,277 439.2,278.59 439.6,279.37 440,279.3 440.4,278.38 440.8,276.63 441.2,274.07 441.6,270.76 442,266.75 442.4,262.12 442.8,256.96 443.2,251.37 443.6,245.46 444,239.35 444.4,233.17 444.8,227.02 445.2,221.05 445.6,215.38 446,210.11 446.4,205.36 446.8,201.24 447.2,197.82 447.6,195.18 448,193.38 448.4,192.46 448.8,192.45 449.2,193.35 449.6,195.16 450,197.83" fill="none" stroke="#98c848" stroke-width="0.55" />
<polyline points="280,239.85 280.4,240.12 280.8,240.35 281.2,240.52 281.6,240.63 282,240.67 282.4,240.65 282.8,240.57 283.2,240.43 283.6,240.22 284,239.96 284.4,239.65 284.8,239.3 285.2,238.91 285.6,238.5 286,238.06 286.4,237.62 286.8,237.15 287.2,236.67 287.6,236.19 288,235.73 288.4,235.28 288.8,234.87 289.2,234.49 289.6,234.17 290,233.9 290.4,233.7 290.8,233.58 291.2,233.53 291.6,233.57 292,233.68 292.4,233.88 292.8,234.17 293.2,234.53 293.6,234.96 294,235.47 294.4,236.02 294.8,236.63 295.2,237.27 295.6,237.93 296,238.61 296.4,239.28 296.8,239.93 297.2,240.55 297.6,241.12 298,241.64 298.4,242.08 298.8,242.43 299.2,242.7 299.6,242.86 300,242.92 300.4,242.87 300.8,242.7 301.2,242.42 301.6,242.04 302,241.55 302.4,240.96 302.8,240.29 303.2,239.55 303.6,238.74 304,237.89 304.4,237.02 304.8,236.13 305.2,235.25 305.6,234.4 306,233.59 306.4,232.84 306.8,232.18 307.2,231.61 307.6,231.14 308,230.8 308.4,230.59 308.8,230.52 309.2,230.59 309.6,230.8 310,231.15 310.4,231.65 310.8,232.27 311.2,233.01 311.6,233.86 312,234.81 312.4,235.82 312.8,236.9 313.2,238 313.6,239.12 314,240.22 314.4,241.29 314.8,242.3 315.2,243.24 315.6,244.07 316,244.79 316.4,245.37 316.8,245.79 317.2,246.06 317.6,246.15 318,246.07 318.4,245.82 318.8,245.38 319.2,244.78 319.6,244.02 320,243.11 320.4,242.07 320.8,240.92 321.2,239.68 321.6,238.37 322,237.03 322.4,235.66 322.8,234.32 323.2,233.01 323.6,231.78 324,230.64 324.4,229.62 324.8,228.75 325.2,228.04 325.6,227.52 326,227.19 326.4,227.06 326.8,227.15 327.2,227.45 327.6,227.96 328,228.67 328.4,229.58 328.8,230.66 329.2,231.89 329.6,233.26 330,234.74 330.4,236.3 330.8,237.9 331.2,239.53 331.6,241.13 332,242.69 332.4,244.16 332.8,245.52 333.2,246.73 333.6,247.77 334,248.62 334.4,249.26 334.8,249.66 335.2,249.83 335.6,249.74 336,249.4 336.4,248.82 336.8,247.99 337.2,246.94 337.6,245.68 338,244.24 338.4,242.64 338.8,240.91 339.2,239.09 339.6,237.22 340,235.32 340.4,233.44 340.8,231.62 341.2,229.89 341.6,228.29 342,226.87 342.4,225.63 342.8,224.63 343.2,223.87 343.6,223.38 344,223.17 344.4,223.26 344.8,223.63 345.2,224.29 345.6,225.23 346,226.43 346.4,227.87 346.8,229.52 347.2,231.36 347.6,233.35 348,235.44 348.4,237.61 348.8,239.8 349.2,241.97 349.6,244.08 350,246.07 350.4,247.92 350.8,249.58 351.2,251.02 351.6,252.19 352,253.08 352.4,253.67 352.8,253.93 353.2,253.86 353.6,253.46 354,252.73 354.4,251.68 354.8,250.33 355.2,248.7 355.6,246.82 356,244.74 356.4,242.48 356.8,240.09 357.2,237.62 357.6,235.13 358,232.65 358.4,230.24 358.8,227.95 359.2,225.84 359.6,223.93 360,222.28 360.4,220.92 360.8,219.88 361.2,219.19 361.6,218.86 362,218.91 362.4,219.33 362.8,220.14 363.2,221.3 363.6,222.8 364,224.62 364.4,226.73 364.8,229.07 365.2,231.61 365.6,234.3 366,237.08 366.4,239.9 366.8,242.7 367.2,245.42 367.6,248.02 368,250.43 368.4,252.59 368.8,254.48 369.2,256.04 369.6,257.24 370,258.05 370.4,258.45 370.8,258.43 371.2,257.99 371.6,257.12 372,255.85 372.4,254.19 372.8,252.17 373.2,249.84 373.6,247.23 374,244.4 374.4,241.4 374.8,238.29 375.2,235.13 375.6,231.99 376,228.93 376.4,226.01 376.8,223.3 377.2,220.85 377.6,218.71 378,216.94 378.4,215.56 378.8,214.62 379.2,214.13 379.6,214.11 380,214.57 380.4,215.49 380.8,216.88 381.2,218.69 381.6,220.91 382,223.48 382.4,226.36 382.8,229.49 383.2,232.82 383.6,236.27 384,239.78 384.4,243.28 384.8,246.69 385.2,249.95 385.6,252.99 386,255.74 386.4,258.14 386.8,260.15 387.2,261.71 387.6,262.8 388,263.39 388.4,263.45 388.8,262.99 389.2,262.01 389.6,260.52 390,258.55 390.4,256.14 390.8,253.32 391.2,250.16 391.6,246.71 392,243.05 392.4,239.24 392.8,235.36 393.2,231.49 393.6,227.71 394,224.1 394.4,220.72 394.8,217.65 395.2,214.97 395.6,212.71 396,210.94 396.4,209.69 396.8,209 397.2,208.87 397.6,209.33 398,210.36 398.4,211.95 398.8,214.08 399.2,216.7 399.6,219.76 400,223.2 400.4,226.97 400.8,230.98 401.2,235.16 401.6,239.42 402,243.68 402.4,247.85 402.8,251.84 403.2,255.57 403.6,258.97 404,261.96 404.4,264.49 404.8,266.48 405.2,267.9 405.6,268.72 406,268.91 406.4,268.46 406.8,267.39 407.2,265.7 407.6,263.42 408,260.6 408.4,257.29 408.8,253.55 409.2,249.45 409.6,245.08 410,240.52 410.4,235.86 410.8,231.2 411.2,226.63 411.6,222.25 412,218.14 412.4,214.38 412.8,211.07 413.2,208.27 413.6,206.04 414,204.43 414.4,203.47 414.8,203.2 415.2,203.62 415.6,204.74 416,206.52 416.4,208.95 416.8,211.97 417.2,215.54 417.6,219.58 418,224.01 418.4,228.75 418.8,233.7 419.2,238.77 419.6,243.85 420,248.84 420.4,253.64 420.8,258.15 421.2,262.27 421.6,265.92 422,269.02 422.4,271.51 422.8,273.33 423.2,274.43 423.6,274.79 424,274.4 424.4,273.26 424.8,271.39 425.2,268.81 425.6,265.58 426,261.76 426.4,257.42 426.8,252.64 427.2,247.52 427.6,242.16 428,236.67 428.4,231.16 428.8,225.73 429.2,220.5 429.6,215.58 430,211.07 430.4,207.06 430.8,203.64 431.2,200.88 431.6,198.85 432,197.58 432.4,197.11 432.8,197.46 433.2,198.62 433.6,200.58 434,203.3 434.4,206.73 434.8,210.81 435.2,215.46 435.6,220.58 436,226.09 436.4,231.87 436.8,237.8 437.2,243.76 437.6,249.64 438,255.32 438.4,260.67 438.8,265.59 439.2,269.98 439.6,273.73 440,276.78 440.4,279.06 440.8,280.5 441.2,281.09 441.6,280.8 442,279.62 442.4,277.59 442.8,274.73 443.2,271.1 443.6,266.76 444,261.8 444.4,256.31 444.8,250.41 445.2,244.2 445.6,237.82 446,231.39 446.4,225.04 446.8,218.9 447.2,213.1 447.6,207.75 448,202.97 448.4,198.86 448.8,195.5 449.2,192.97 449.6,191.33 450,190.61" fill="none" stroke="#2a9a70" stroke-width="0.55" />
<polyline points="280,238.46 280.4,238.89 280.8,239.29 281.2,239.66 281.6,239.98 282,240.26 282.4,240.47 282.8,240.63 283.2,240.73 283.6,240.75 284,240.72 284.4,240.62 284.8,240.45 285.2,240.23 285.6,239.95 286,239.63 286.4,239.29 286.8,238.9 287.2,238.47 287.6,238 288,237.5 288.4,236.98 288.8,236.46 289.2,235.94 289.6,235.44 290,234.96 290.4,234.52 290.8,234.12 291.2,233.79 291.6,233.52 292,233.32 292.4,233.21 292.8,233.19 293.2,233.25 293.6,233.4 294,233.65 294.4,233.98 294.8,234.39 295.2,234.88 295.6,235.44 296,236.06 296.4,236.73 296.8,237.43 297.2,238.15 297.6,238.88 298,239.6 298.4,240.29 298.8,240.95 299.2,241.55 299.6,242.08 300,242.53 300.4,242.89 300.8,243.14 301.2,243.29 301.6,243.32 302,243.23 302.4,243.02 302.8,242.69 303.2,242.24 303.6,241.69 304,241.04 304.4,240.3 304.8,239.48 305.2,238.61 305.6,237.69 306,236.74 306.4,235.8 306.8,234.86 307.2,233.96 307.6,233.11 308,232.34 308.4,231.65 308.8,231.07 309.2,230.61 309.6,230.28 310,230.1 310.4,230.06 310.8,230.17 311.2,230.44 311.6,230.86 312,231.42 312.4,232.12 312.8,232.94 313.2,233.87 313.6,234.9 314,236 314.4,237.15 314.8,238.33 315.2,239.51 315.6,240.68 316,241.8 316.4,242.86 316.8,243.83 317.2,244.68 317.6,245.4 318,245.98 318.4,246.39 318.8,246.62 319.2,246.68 319.6,246.54 320,246.22 320.4,245.71 320.8,245.03 321.2,244.18 321.6,243.18 322,242.05 322.4,240.8 322.8,239.47 323.2,238.07 323.6,236.64 324,235.2 324.4,233.78 324.8,232.42 325.2,231.14 325.6,229.96 326,228.93 326.4,228.05 326.8,227.35 327.2,226.84 327.6,226.55 328,226.48 328.4,226.62 328.8,227 329.2,227.59 329.6,228.4 330,229.4 330.4,230.59 330.8,231.93 331.2,233.41 331.6,234.99 332,236.65 332.4,238.35 332.8,240.06 333.2,241.74 333.6,243.37 334,244.89 334.4,246.29 334.8,247.52 335.2,248.57 335.6,249.41 336,250.02 336.4,250.38 336.8,250.49 337.2,250.33 337.6,249.9 338,249.22 338.4,248.29 338.8,247.13 339.2,245.75 339.6,244.19 340,242.47 340.4,240.62 340.8,238.69 341.2,236.7 341.6,234.71 342,232.74 342.4,230.85 342.8,229.06 343.2,227.43 343.6,225.98 344,224.74 344.4,223.75 344.8,223.02 345.2,222.58 345.6,222.44 346,222.6 346.4,223.07 346.8,223.84 347.2,224.9 347.6,226.22 348,227.8 348.4,229.59 348.8,231.56 349.2,233.68 349.6,235.91 350,238.19 350.4,240.49 350.8,242.75 351.2,244.94 351.6,247 352,248.89 352.4,250.58 352.8,252.01 353.2,253.17 353.6,254.03 354,254.56 354.4,254.75 354.8,254.59 355.2,254.07 355.6,253.22 356,252.04 356.4,250.54 356.8,248.77 357.2,246.74 357.6,244.51 358,242.1 358.4,239.57 358.8,236.98 359.2,234.36 359.6,231.78 360,229.28 360.4,226.93 360.8,224.76 361.2,222.83 361.6,221.17 362,219.83 362.4,218.83 362.8,218.2 363.2,217.96 363.6,218.11 364,218.66 364.4,219.59 364.8,220.9 365.2,222.56 365.6,224.55 366,226.81 366.4,229.32 366.8,232.03 367.2,234.87 367.6,237.79 368,240.75 368.4,243.66 368.8,246.48 369.2,249.15 369.6,251.61 370,253.81 370.4,255.7 370.8,257.24 371.2,258.39 371.6,259.14 372,259.45 372.4,259.31 372.8,258.74 373.2,257.72 373.6,256.29 374,254.45 374.4,252.26 374.8,249.74 375.2,246.95 375.6,243.94 376,240.77 376.4,237.5 376.8,234.2 377.2,230.93 377.6,227.77 378,224.77 378.4,222 378.8,219.51 379.2,217.37 379.6,215.62 380,214.3 380.4,213.43 380.8,213.04 381.2,213.15 381.6,213.75 382,214.84 382.4,216.4 382.8,218.4 383.2,220.81 383.6,223.59 384,226.67 384.4,229.99 384.8,233.51 385.2,237.13 385.6,240.8 386,244.44 386.4,247.96 386.8,251.31 387.2,254.41 387.6,257.19 388,259.6 388.4,261.58 388.8,263.1 389.2,264.1 389.6,264.58 390,264.51 390.4,263.89 390.8,262.73 391.2,261.04 391.6,258.87 392,256.24 392.4,253.21 392.8,249.83 393.2,246.17 393.6,242.31 394,238.31 394.4,234.26 394.8,230.24 395.2,226.33 395.6,222.62 396,219.17 396.4,216.07 396.8,213.38 397.2,211.15 397.6,209.43 398,208.28 398.4,207.7 398.8,207.73 399.2,208.35 399.6,209.58 400,211.38 400.4,213.73 400.8,216.58 401.2,219.87 401.6,223.56 402,227.55 402.4,231.79 402.8,236.17 403.2,240.62 403.6,245.04 404,249.34 404.4,253.44 404.8,257.25 405.2,260.69 405.6,263.69 406,266.18 406.4,268.11 406.8,269.44 407.2,270.12 407.6,270.16 408,269.53 408.4,268.24 408.8,266.33 409.2,263.81 409.6,260.74 410,257.17 410.4,253.17 410.8,248.83 411.2,244.22 411.6,239.44 412,234.58 412.4,229.74 412.8,225.02 413.2,220.52 413.6,216.33 414,212.53 414.4,209.21 414.8,206.44 415.2,204.27 415.6,202.77 416,201.95 416.4,201.85 416.8,202.47 417.2,203.81 417.6,205.84 418,208.52 418.4,211.82 418.8,215.66 419.2,219.97 419.6,224.67 420,229.67 420.4,234.86 420.8,240.15 421.2,245.42 421.6,250.57 422,255.49 422.4,260.09 422.8,264.26 423.2,267.93 423.6,271 424,273.41 424.4,275.12 424.8,276.07 425.2,276.26 425.6,275.65 426,274.27 426.4,272.13 426.8,269.28 427.2,265.76 427.6,261.64 428,257.01 428.4,251.94 428.8,246.55 429.2,240.93 429.6,235.2 430,229.48 430.4,223.88 430.8,218.52 431.2,213.5 431.6,208.93 432,204.91 432.4,201.52 432.8,198.84 433.2,196.92 433.6,195.8 434,195.53 434.4,196.11 434.8,197.52 435.2,199.76 435.6,202.78 436,206.52 436.4,210.92 436.8,215.88 437.2,221.32 437.6,227.12 438,233.18 438.4,239.36 438.8,245.55 439.2,251.62 439.6,257.44 440,262.9 440.4,267.88 440.8,272.28 441.2,276.01 441.6,278.98 442,281.13 442.4,282.41 442.8,282.79 443.2,282.26 443.6,280.81 444,278.48 444.4,275.3 444.8,271.33 445.2,266.66 445.6,261.36 446,255.54 446.4,249.32 446.8,242.82 447.2,236.16 447.6,229.49 448,222.94 448.4,216.64 448.8,210.72 449.2,205.31 449.6,200.51 450,196.43" fill="none" stroke="#1f7f88" stroke-width="0.55" />
<polyline points="280,236.72 280.4,237.19 280.8,237.67 281.2,238.14 281.6,238.59 282,239.03 282.4,239.43 282.8,239.8 283.2,240.12 283.6,240.39 284,240.59 284.4,240.74 284.8,240.82 285.2,240.83 285.6,240.78 286,240.67 286.4,240.54 286.8,240.34 287.2,240.08 287.6,239.75 288,239.36 288.4,238.92 288.8,238.44 289.2,237.91 289.6,237.36 290,236.79 290.4,236.22 290.8,235.66 291.2,235.12 291.6,234.61 292,234.14 292.4,233.73 292.8,233.39 293.2,233.12 293.6,232.93 294,232.83 294.4,232.83 294.8,232.93 295.2,233.12 295.6,233.41 296,233.8 296.4,234.27 296.8,234.82 297.2,235.44 297.6,236.12 298,236.85 298.4,237.62 298.8,238.4 299.2,239.18 299.6,239.95 300,240.68 300.4,241.37 300.8,242 301.2,242.55 301.6,243.01 302,243.36 302.4,243.61 302.8,243.73 303.2,243.73 303.6,243.6 304,243.34 304.4,242.95 304.8,242.44 305.2,241.82 305.6,241.09 306,240.28 306.4,239.39 306.8,238.44 307.2,237.45 307.6,236.44 308,235.43 308.4,234.44 308.8,233.49 309.2,232.61 309.6,231.8 310,231.1 310.4,230.52 310.8,230.06 311.2,229.75 311.6,229.59 312,229.6 312.4,229.76 312.8,230.09 313.2,230.57 313.6,231.21 314,231.99 314.4,232.89 314.8,233.91 315.2,235.02 315.6,236.21 316,237.44 316.4,238.69 316.8,239.95 317.2,241.18 317.6,242.35 318,243.45 318.4,244.45 318.8,245.32 319.2,246.04 319.6,246.61 320,247 320.4,247.2 320.8,247.2 321.2,247.01 321.6,246.62 322,246.03 322.4,245.26 322.8,244.32 323.2,243.22 323.6,241.99 324,240.65 324.4,239.22 324.8,237.73 325.2,236.21 325.6,234.69 326,233.21 326.4,231.78 326.8,230.46 327.2,229.25 327.6,228.2 328,227.32 328.4,226.63 328.8,226.15 329.2,225.9 329.6,225.88 330,226.1 330.4,226.56 330.8,227.24 331.2,228.15 331.6,229.26 332,230.55 332.4,232.01 332.8,233.6 333.2,235.29 333.6,237.05 334,238.85 334.4,240.65 334.8,242.41 335.2,244.09 335.6,245.66 336,247.09 336.4,248.35 336.8,249.4 337.2,250.22 337.6,250.8 338,251.11 338.4,251.15 338.8,250.91 339.2,250.39 339.6,249.61 340,248.57 340.4,247.28 340.8,245.78 341.2,244.09 341.6,242.25 342,240.28 342.4,238.23 342.8,236.14 343.2,234.04 343.6,231.99 344,230.03 344.4,228.19 344.8,226.52 345.2,225.05 345.6,223.81 346,222.84 346.4,222.15 346.8,221.77 347.2,221.7 347.6,221.96 348,222.53 348.4,223.41 348.8,224.6 349.2,226.06 349.6,227.77 350,229.7 350.4,231.81 350.8,234.07 351.2,236.42 351.6,238.83 352,241.23 352.4,243.59 352.8,245.85 353.2,247.97 353.6,249.91 354,251.61 354.4,253.05 354.8,254.18 355.2,254.99 355.6,255.46 356,255.56 356.4,255.3 356.8,254.67 357.2,253.69 357.6,252.37 358,250.72 358.4,248.79 358.8,246.61 359.2,244.22 359.6,241.67 360,239 360.4,236.27 360.8,233.53 361.2,230.85 361.6,228.27 362,225.85 362.4,223.64 362.8,221.68 363.2,220.03 363.6,218.71 364,217.77 364.4,217.21 364.8,217.06 365.2,217.32 365.6,218 366,219.08 366.4,220.54 366.8,222.37 367.2,224.52 367.6,226.96 368,229.64 368.4,232.51 368.8,235.51 369.2,238.58 369.6,241.66 370,244.69 370.4,247.6 370.8,250.34 371.2,252.85 371.6,255.07 372,256.96 372.4,258.47 372.8,259.57 373.2,260.23 373.6,260.44 374,260.18 374.4,259.46 374.8,258.29 375.2,256.68 375.6,254.67 376,252.29 376.4,249.58 376.8,246.6 377.2,243.41 377.6,240.07 378,236.64 378.4,233.19 378.8,229.8 379.2,226.54 379.6,223.46 380,220.64 380.4,218.13 380.8,216 381.2,214.28 381.6,213.01 382,212.23 382.4,211.96 382.8,212.2 383.2,212.96 383.6,214.22 384,215.97 384.4,218.17 384.8,220.78 385.2,223.76 385.6,227.05 386,230.57 386.4,234.27 386.8,238.07 387.2,241.9 387.6,245.67 388,249.3 388.4,252.74 388.8,255.89 389.2,258.7 389.6,261.1 390,263.05 390.4,264.5 390.8,265.41 391.2,265.76 391.6,265.54 392,264.75 392.4,263.41 392.8,261.52 393.2,259.13 393.6,256.28 394,253.02 394.4,249.42 394.8,245.55 395.2,241.48 395.6,237.29 396,233.07 396.4,228.9 396.8,224.88 397.2,221.07 397.6,217.56 398,214.43 398.4,211.74 398.8,209.55 399.2,207.91 399.6,206.85 400,206.41 400.4,206.6 400.8,207.41 401.2,208.84 401.6,210.86 402,213.44 402.4,216.53 402.8,220.07 403.2,224 403.6,228.23 404,232.68 404.4,237.27 404.8,241.9 405.2,246.48 405.6,250.91 406,255.11 406.4,258.99 406.8,262.46 407.2,265.46 407.6,267.91 408,269.76 408.4,270.98 408.8,271.52 409.2,271.38 409.6,270.56 410,269.05 410.4,266.9 410.8,264.13 411.2,260.79 411.6,256.96 412,252.71 412.4,248.11 412.8,243.26 413.2,238.26 413.6,233.2 414,228.19 414.4,223.33 414.8,218.72 415.2,214.45 415.6,210.62 416,207.3 416.4,204.57 416.8,202.49 417.2,201.1 417.6,200.43 418,200.52 418.4,201.35 418.8,202.93 419.2,205.21 419.6,208.17 420,211.75 420.4,215.87 420.8,220.46 421.2,225.44 421.6,230.69 422,236.13 422.4,241.63 422.8,247.09 423.2,252.39 423.6,257.43 424,262.11 424.4,266.32 424.8,269.98 425.2,273.01 425.6,275.34 426,276.92 426.4,277.71 426.8,277.69 427.2,276.86 427.6,275.23 428,272.82 428.4,269.67 428.8,265.85 429.2,261.43 429.6,256.49 430,251.13 430.4,245.46 430.8,239.58 431.2,233.62 431.6,227.7 432,221.93 432.4,216.44 432.8,211.33 433.2,206.72 433.6,202.7 434,199.36 434.4,196.77 434.8,194.98 435.2,194.04 435.6,193.98 436,194.8 436.4,196.48 436.8,199.02 437.2,202.35 437.6,206.41 438,211.13 438.4,216.42 438.8,222.17 439.2,228.28 439.6,234.61 440,241.04 440.4,247.45 440.8,253.7 441.2,259.66 441.6,265.21 442,270.24 442.4,274.65 442.8,278.32 443.2,281.2 443.6,283.21 444,284.31 444.4,284.46 444.8,283.67 445.2,281.94 445.6,279.29 446,275.78 446.4,271.47 446.8,266.44 447.2,260.8 447.6,254.64 448,248.1 448.4,241.3 448.8,234.38 449.2,227.47 449.6,220.73 450,214.28" fill="none" stroke="#3a9ea8" stroke-width="0.55" />
<polyline points="280,235.13 280.4,235.5 280.8,235.91 281.2,236.36 281.6,236.82 282,237.31 282.4,237.79 282.8,238.27 283.2,238.73 283.6,239.17 284,239.58 284.4,239.94 284.8,240.26 285.2,240.52 285.6,240.71 286,240.86 286.4,240.99 286.8,241.05 287.2,241.04 287.6,240.95 288,240.79 288.4,240.55 288.8,240.24 289.2,239.86 289.6,239.42 290,238.92 290.4,238.38 290.8,237.8 291.2,237.19 291.6,236.58 292,235.96 292.4,235.35 292.8,234.77 293.2,234.23 293.6,233.74 294,233.31 294.4,232.96 294.8,232.7 295.2,232.52 295.6,232.45 296,232.47 296.4,232.61 296.8,232.84 297.2,233.19 297.6,233.63 298,234.16 298.4,234.77 298.8,235.46 299.2,236.21 299.6,237.01 300,237.83 300.4,238.67 300.8,239.51 301.2,240.33 301.6,241.1 302,241.83 302.4,242.48 302.8,243.04 303.2,243.5 303.6,243.85 304,244.08 304.4,244.18 304.8,244.14 305.2,243.96 305.6,243.65 306,243.2 306.4,242.62 306.8,241.93 307.2,241.13 307.6,240.24 308,239.27 308.4,238.24 308.8,237.18 309.2,236.1 309.6,235.03 310,233.98 310.4,232.99 310.8,232.07 311.2,231.24 311.6,230.52 312,229.94 312.4,229.49 312.8,229.2 313.2,229.08 313.6,229.13 314,229.35 314.4,229.74 314.8,230.3 315.2,231.01 315.6,231.88 316,232.87 316.4,233.98 316.8,235.18 317.2,236.45 317.6,237.77 318,239.1 318.4,240.42 318.8,241.71 319.2,242.94 319.6,244.08 320,245.1 320.4,245.98 320.8,246.71 321.2,247.26 321.6,247.62 322,247.78 322.4,247.73 322.8,247.47 323.2,247 323.6,246.33 324,245.47 324.4,244.43 324.8,243.24 325.2,241.9 325.6,240.45 326,238.92 326.4,237.34 326.8,235.73 327.2,234.14 327.6,232.59 328,231.11 328.4,229.74 328.8,228.51 329.2,227.44 329.6,226.56 330,225.89 330.4,225.45 330.8,225.25 331.2,225.29 331.6,225.59 332,226.13 332.4,226.91 332.8,227.92 333.2,229.14 333.6,230.55 334,232.12 334.4,233.83 334.8,235.63 335.2,237.5 335.6,239.4 336,241.28 336.4,243.11 336.8,244.86 337.2,246.48 337.6,247.94 338,249.21 338.4,250.25 338.8,251.05 339.2,251.59 339.6,251.84 340,251.81 340.4,251.48 340.8,250.87 341.2,249.97 341.6,248.81 342,247.4 342.4,245.77 342.8,243.95 343.2,241.98 343.6,239.89 344,237.72 344.4,235.52 344.8,233.33 345.2,231.2 345.6,229.16 346,227.28 346.4,225.57 346.8,224.09 347.2,222.86 347.6,221.91 348,221.27 348.4,220.95 348.8,220.97 349.2,221.32 349.6,222 350,223.01 350.4,224.33 350.8,225.93 351.2,227.79 351.6,229.86 352,232.12 352.4,234.51 352.8,237 353.2,239.52 353.6,242.03 354,244.48 354.4,246.82 354.8,249 355.2,250.96 355.6,252.68 356,254.11 356.4,255.21 356.8,255.97 357.2,256.36 357.6,256.38 358,256 358.4,255.25 358.8,254.13 359.2,252.66 359.6,250.86 360,248.77 360.4,246.43 360.8,243.88 361.2,241.17 361.6,238.36 362,235.49 362.4,232.64 362.8,229.86 363.2,227.19 363.6,224.71 364,222.47 364.4,220.5 364.8,218.86 365.2,217.58 365.6,216.69 366,216.21 366.4,216.16 366.8,216.55 367.2,217.36 367.6,218.59 368,220.22 368.4,222.22 368.8,224.55 369.2,227.17 369.6,230.02 370,233.06 370.4,236.22 370.8,239.43 371.2,242.64 371.6,245.78 372,248.79 372.4,251.59 372.8,254.14 373.2,256.37 373.6,258.25 374,259.72 374.4,260.75 374.8,261.33 375.2,261.42 375.6,261.03 376,260.16 376.4,258.82 376.8,257.03 377.2,254.83 377.6,252.25 378,249.35 378.4,246.18 378.8,242.81 379.2,239.29 379.6,235.7 380,232.12 380.4,228.61 380.8,225.24 381.2,222.09 381.6,219.23 382,216.71 382.4,214.58 382.8,212.91 383.2,211.71 383.6,211.03 384,210.88 384.4,211.27 384.8,212.19 385.2,213.64 385.6,215.58 386,217.99 386.4,220.82 386.8,224.01 387.2,227.5 387.6,231.23 388,235.12 388.4,239.09 388.8,243.07 389.2,246.97 389.6,250.72 390,254.23 390.4,257.43 390.8,260.25 391.2,262.64 391.6,264.55 392,265.91 392.4,266.72 392.8,266.94 393.2,266.56 393.6,265.59 394,264.04 394.4,261.94 394.8,259.32 395.2,256.24 395.6,252.76 396,248.93 396.4,244.84 396.8,240.56 397.2,236.18 397.6,231.79 398,227.49 398.4,223.34 398.8,219.45 399.2,215.89 399.6,212.74 400,210.07 400.4,207.93 400.8,206.37 401.2,205.43 401.6,205.13 402,205.49 402.4,206.5 402.8,208.14 403.2,210.4 403.6,213.22 404,216.56 404.4,220.35 404.8,224.52 405.2,228.99 405.6,233.67 406,238.46 406.4,243.28 406.8,248.01 407.2,252.57 407.6,256.86 408,260.8 408.4,264.29 408.8,267.27 409.2,269.67 409.6,271.43 410,272.52 410.4,272.91 410.8,272.59 411.2,271.55 411.6,269.81 412,267.4 412.4,264.37 412.8,260.77 413.2,256.67 413.6,252.15 414,247.29 414.4,242.2 414.8,236.97 415.2,231.72 415.6,226.54 416,221.54 416.4,216.83 416.8,212.5 417.2,208.65 417.6,205.35 418,202.67 418.4,200.68 418.8,199.43 419.2,198.93 419.6,199.22 420,200.28 420.4,202.1 420.8,204.66 421.2,207.9 421.6,211.76 422,216.18 422.4,221.06 422.8,226.31 423.2,231.83 423.6,237.5 424,243.21 424.4,248.86 424.8,254.31 425.2,259.46 425.6,264.21 426,268.44 426.4,272.09 426.8,275.05 427.2,277.28 427.6,278.72 428,279.33 428.4,279.1 428.8,278.03 429.2,276.13 429.6,273.43 430,269.98 430.4,265.85 430.8,261.11 431.2,255.86 431.6,250.21 432,244.25 432.4,238.12 432.8,231.93 433.2,225.81 433.6,219.88 434,214.27 434.4,209.09 434.8,204.45 435.2,200.44 435.6,197.16 436,194.67 436.4,193.04 436.8,192.29 437.2,192.46 437.6,193.53 438,195.51 438.4,198.35 438.8,202 439.2,206.4 439.6,211.46 440,217.08 440.4,223.15 440.8,229.56 441.2,236.17 441.6,242.85 442,249.46 442.4,255.89 442.8,261.98 443.2,267.61 443.6,272.68 444,277.06 444.4,280.68 444.8,283.44 445.2,285.29 445.6,286.19 446,286.1 446.4,285.03 446.8,282.99 447.2,280.02 447.6,276.16 448,271.5 448.4,266.11 448.8,260.11 449.2,253.62 449.6,246.75 450,239.65" fill="none" stroke="#22608c" stroke-width="0.55" />
<polyline points="280,234.13 280.4,234.29 280.8,234.52 281.2,234.82 281.6,235.16 282,235.55 282.4,235.98 282.8,236.45 283.2,236.93 283.6,237.43 284,237.92 284.4,238.41 284.8,238.88 285.2,239.32 285.6,239.73 286,240.09 286.4,240.46 286.8,240.77 287.2,241.03 287.6,241.22 288,241.35 288.4,241.39 288.8,241.35 289.2,241.24 289.6,241.03 290,240.75 290.4,240.39 290.8,239.96 291.2,239.46 291.6,238.91 292,238.3 292.4,237.66 292.8,237 293.2,236.33 293.6,235.66 294,235.01 294.4,234.39 294.8,233.82 295.2,233.31 295.6,232.88 296,232.52 296.4,232.26 296.8,232.1 297.2,232.05 297.6,232.11 298,232.28 298.4,232.57 298.8,232.97 299.2,233.47 299.6,234.07 300,234.75 300.4,235.51 300.8,236.33 301.2,237.19 301.6,238.08 302,238.98 302.4,239.88 302.8,240.74 303.2,241.56 303.6,242.31 304,242.99 304.4,243.56 304.8,244.02 305.2,244.36 305.6,244.57 306,244.63 306.4,244.55 306.8,244.32 307.2,243.95 307.6,243.44 308,242.79 308.4,242.02 308.8,241.14 309.2,240.16 309.6,239.11 310,238.01 310.4,236.87 310.8,235.72 311.2,234.59 311.6,233.49 312,232.45 312.4,231.5 312.8,230.65 313.2,229.92 313.6,229.33 314,228.91 314.4,228.64 314.8,228.56 315.2,228.66 315.6,228.94 316,229.4 316.4,230.04 316.8,230.84 317.2,231.79 317.6,232.88 318,234.08 318.4,235.37 318.8,236.73 319.2,238.13 319.6,239.55 320,240.94 320.4,242.29 320.8,243.57 321.2,244.74 321.6,245.78 322,246.68 322.4,247.4 322.8,247.93 323.2,248.26 323.6,248.37 324,248.26 324.4,247.93 324.8,247.38 325.2,246.62 325.6,245.66 326,244.52 326.4,243.21 326.8,241.77 327.2,240.22 327.6,238.59 328,236.91 328.4,235.21 328.8,233.54 329.2,231.92 329.6,230.39 330,228.98 330.4,227.73 330.8,226.65 331.2,225.78 331.6,225.13 332,224.73 332.4,224.59 332.8,224.7 333.2,225.08 333.6,225.71 334,226.6 334.4,227.72 334.8,229.06 335.2,230.59 335.6,232.28 336,234.1 336.4,236.02 336.8,238 337.2,239.99 337.6,241.96 338,243.87 338.4,245.67 338.8,247.34 339.2,248.82 339.6,250.1 340,251.13 340.4,251.9 340.8,252.39 341.2,252.58 341.6,252.47 342,252.05 342.4,251.33 342.8,250.31 343.2,249.03 343.6,247.49 344,245.72 344.4,243.77 344.8,241.66 345.2,239.44 345.6,237.15 346,234.84 346.4,232.56 346.8,230.34 347.2,228.25 347.6,226.31 348,224.58 348.4,223.09 348.8,221.88 349.2,220.96 349.6,220.38 350,220.13 350.4,220.24 350.8,220.69 351.2,221.5 351.6,222.64 352,224.1 352.4,225.85 352.8,227.85 353.2,230.08 353.6,232.48 354,235.02 354.4,237.63 354.8,240.28 355.2,242.89 355.6,245.43 356,247.84 356.4,250.07 356.8,252.06 357.2,253.79 357.6,255.2 358,256.26 358.4,256.96 358.8,257.27 359.2,257.18 359.6,256.69 360,255.81 360.4,254.54 360.8,252.91 361.2,250.95 361.6,248.69 362,246.19 362.4,243.47 362.8,240.61 363.2,237.65 363.6,234.65 364,231.69 364.4,228.8 364.8,226.06 365.2,223.53 365.6,221.25 366,219.28 366.4,217.65 366.8,216.42 367.2,215.59 367.6,215.21 368,215.27 368.4,215.79 368.8,216.75 369.2,218.15 369.6,219.95 370,222.13 370.4,224.64 370.8,227.44 371.2,230.47 371.6,233.68 372,237 372.4,240.36 372.8,243.7 373.2,246.94 373.6,250.03 374,252.9 374.4,255.48 374.8,257.72 375.2,259.57 375.6,260.99 376,261.95 376.4,262.42 376.8,262.4 377.2,261.86 377.6,260.83 378,259.31 378.4,257.33 378.8,254.93 379.2,252.16 379.6,249.06 380,245.69 380.4,242.13 380.8,238.43 381.2,234.69 381.6,230.96 382,227.33 382.4,223.88 382.8,220.67 383.2,217.77 383.6,215.24 384,213.14 384.4,211.51 384.8,210.4 385.2,209.83 385.6,209.81 386,210.36 386.4,211.46 386.8,213.1 387.2,215.25 387.6,217.88 388,220.92 388.4,224.33 388.8,228.04 389.2,231.97 389.6,236.05 390,240.2 390.4,244.33 390.8,248.36 391.2,252.2 391.6,255.78 392,259.02 392.4,261.86 392.8,264.22 393.2,266.06 393.6,267.34 394,268.03 394.4,268.1 394.8,267.55 395.2,266.39 395.6,264.63 396,262.3 396.4,259.45 396.8,256.13 397.2,252.41 397.6,248.35 398,244.03 398.4,239.55 398.8,234.99 399.2,230.43 399.6,225.99 400,221.73 400.4,217.77 400.8,214.16 401.2,211.01 401.6,208.36 402,206.28 402.4,204.82 402.8,204.01 403.2,203.87 403.6,204.41 404,205.63 404.4,207.5 404.8,210 405.2,213.08 405.6,216.67 406,220.72 406.4,225.15 406.8,229.85 407.2,234.76 407.6,239.75 408,244.75 408.4,249.63 408.8,254.31 409.2,258.69 409.6,262.67 410,266.17 410.4,269.12 410.8,271.45 411.2,273.11 411.6,274.07 412,274.28 412.4,273.76 412.8,272.49 413.2,270.51 413.6,267.84 414,264.53 414.4,260.66 414.8,256.28 415.2,251.48 415.6,246.37 416,241.03 416.4,235.59 416.8,230.14 417.2,224.8 417.6,219.67 418,214.87 418.4,210.48 418.8,206.62 419.2,203.35 419.6,200.74 420,198.87 420.4,197.76 420.8,197.45 421.2,197.95 421.6,199.25 422,201.34 422.4,204.18 422.8,207.71 423.2,211.87 423.6,216.59 424,221.76 424.4,227.29 424.8,233.07 425.2,238.98 425.6,244.91 426,250.73 426.4,256.32 426.8,261.57 427.2,266.37 427.6,270.62 428,274.24 428.4,277.13 428.8,279.24 429.2,280.52 429.6,280.94 430,280.48 430.4,279.14 430.8,276.96 431.2,273.95 431.6,270.19 432,265.74 432.4,260.68 432.8,255.12 433.2,249.16 433.6,242.93 434,236.54 434.4,230.12 434.8,223.81 435.2,217.73 435.6,212.01 436,206.77 436.4,202.11 436.8,198.14 437.2,194.93 437.6,192.57 438,191.1 438.4,190.56 438.8,190.97 439.2,192.33 439.6,194.6 440,197.77 440.4,201.76 440.8,206.5 441.2,211.9 441.6,217.86 442,224.25 442.4,230.96 442.8,237.85 443.2,244.77 443.6,251.59 444,258.18 444.4,264.39 444.8,270.09 445.2,275.18 445.6,279.53 446,283.07 446.4,285.7 446.8,287.37 447.2,288.05 447.6,287.7 448,286.34 448.4,283.98 448.8,280.66 449.2,276.44 449.6,271.41 450,265.66" fill="none" stroke="#2d5a92" stroke-width="0.55" />
</g>
<defs><linearGradient id="bg2" x1="0" y1="0" x2="1" y2="0"><stop offset="0.000" stop-color="#3a9a90"/><stop offset="0.028" stop-color="#90c8b8"/><stop offset="0.056" stop-color="#3a9a90"/><stop offset="0.083" stop-color="#90c8b8"/><stop offset="0.111" stop-color="#3a9a90"/><stop offset="0.139" stop-color="#90c8b8"/><stop offset="0.167" stop-color="#3a9a90"/><stop offset="0.194" stop-color="#90c8b8"/><stop offset="0.222" stop-color="#3a9a90"/><stop offset="0.250" stop-color="#90c8b8"/><stop offset="0.278" stop-color="#3a9a90"/><stop offset="0.306" stop-color="#90c8b8"/><stop offset="0.333" stop-color="#3a9a90"/><stop offset="0.361" stop-color="#90c8b8"/><stop offset="0.389" stop-color="#3a9a90"/><stop offset="0.417" stop-color="#90c8b8"/><stop offset="0.444" stop-color="#3a9a90"/><stop offset="0.472" stop-color="#90c8b8"/><stop offset="0.500" stop-color="#3a9a90"/><stop offset="0.528" stop-color="#90c8b8"/><stop offset="0.556" stop-color="#3a9a90"/><stop offset="0.583" stop-color="#90c8b8"/><stop offset="0.611" stop-color="#3a9a90"/><stop offset="0.639" stop-color="#90c8b8"/><stop offset="0.667" stop-color="#3a9a90"/><stop offset="0.694" stop-color="#90c8b8"/><stop offset="0.722" stop-color="#3a9a90"/><stop offset="0.750" stop-color="#90c8b8"/><stop offset="0.778" stop-color="#3a9a90"/><stop offset="0.806" stop-color="#90c8b8"/><stop offset="0.833" stop-color="#3a9a90"/><stop offset="0.861" stop-color="#90c8b8"/><stop offset="0.889" stop-color="#3a9a90"/><stop offset="0.917" stop-color="#90c8b8"/><stop offset="0.944" stop-color="#3a9a90"/><stop offset="0.972" stop-color="#90c8b8"/><stop offset="1.000" stop-color="#3a9a90"/></linearGradient></defs>
<polygon points="296.6,279 297.09,279 297.58,279 298.07,278.99 298.56,278.98 299.05,278.97 299.54,278.96 300.02,278.94 300.51,278.92 301,278.89 301.49,278.86 301.98,278.83 302.47,278.79 302.96,278.75 303.45,278.71 303.94,278.66 304.43,278.61 304.92,278.56 305.41,278.5 305.89,278.43 306.38,278.36 306.87,278.29 307.36,278.22 307.85,278.14 308.34,278.05 308.83,277.96 309.32,277.87 309.81,277.77 310.3,277.67 310.79,277.56 311.28,277.45 311.76,277.33 312.25,277.21 312.74,277.09 313.23,276.96 313.72,276.82 314.21,276.68 314.7,276.54 315.19,276.39 315.68,276.24 316.17,276.08 316.66,275.92 317.15,275.75 317.63,275.57 318.12,275.4 318.61,275.21 319.1,275.03 319.59,274.83 320.08,274.64 320.57,274.43 321.06,274.23 321.55,274.01 322.04,273.8 322.53,273.57 323.02,273.35 323.5,273.11 323.99,272.88 324.48,272.63 324.97,272.38 325.46,272.13 325.95,271.87 326.44,271.61 326.93,271.34 327.42,271.06 327.91,270.78 328.4,270.5 328.88,270.21 329.37,269.91 329.86,269.61 330.35,269.31 330.84,268.99 331.33,268.68 331.82,268.51 332.31,268.56 332.8,268.63 333.29,268.71 333.78,268.81 334.27,268.92 334.75,269.04 335.24,269.18 335.73,269.32 336.22,269.46 336.71,269.62 337.2,269.79 337.69,269.96 338.18,270.14 338.67,270.32 339.16,270.52 339.65,270.72 340.14,270.92 340.62,271.13 341.11,271.35 341.6,271.57 342.09,271.8 342.58,272.03 343.07,272.27 343.56,272.52 344.05,272.76 344.54,273.02 345.03,273.28 345.52,273.54 346.01,273.81 346.5,274.08 346.98,274.36 347.47,274.64 347.96,274.92 348.45,275.22 348.94,275.51 349.43,275.81 349.92,276.11 350.41,276.42 350.9,276.73 351.39,277.04 351.88,277.36 352.37,277.69 352.85,278.01 353.34,278.34 353.83,278.68 354.32,279.01 354.81,279.36 355.3,279.7 355.3,279.7 354.81,280.04 354.32,280.39 353.83,280.72 353.34,281.06 352.85,281.39 352.37,281.71 351.88,282.04 351.39,282.36 350.9,282.67 350.41,282.98 349.92,283.29 349.43,283.59 348.94,283.89 348.45,284.18 347.96,284.48 347.47,284.76 346.98,285.04 346.5,285.32 346.01,285.59 345.52,285.86 345.03,286.12 344.54,286.38 344.05,286.64 343.56,286.88 343.07,287.13 342.58,287.37 342.09,287.6 341.6,287.83 341.11,288.05 340.62,288.27 340.14,288.48 339.65,288.68 339.16,288.88 338.67,289.08 338.18,289.26 337.69,289.44 337.2,289.61 336.71,289.78 336.22,289.94 335.73,290.08 335.24,290.22 334.75,290.36 334.27,290.48 333.78,290.59 333.29,290.69 332.8,290.77 332.31,290.84 331.82,290.89 331.33,290.72 330.84,290.41 330.35,290.09 329.86,289.79 329.37,289.49 328.88,289.19 328.4,288.9 327.91,288.62 327.42,288.34 326.93,288.06 326.44,287.79 325.95,287.53 325.46,287.27 324.97,287.02 324.48,286.77 323.99,286.52 323.5,286.29 323.02,286.05 322.53,285.83 322.04,285.6 321.55,285.39 321.06,285.17 320.57,284.97 320.08,284.76 319.59,284.57 319.1,284.37 318.61,284.19 318.12,284 317.63,283.83 317.15,283.65 316.66,283.48 316.17,283.32 315.68,283.16 315.19,283.01 314.7,282.86 314.21,282.72 313.72,282.58 313.23,282.44 312.74,282.31 312.25,282.19 311.76,282.07 311.28,281.95 310.79,281.84 310.3,281.73 309.81,281.63 309.32,281.53 308.83,281.44 308.34,281.35 307.85,281.26 307.36,281.18 306.87,281.11 306.38,281.04 305.89,280.97 305.41,280.9 304.92,280.84 304.43,280.79 303.94,280.74 303.45,280.69 302.96,280.65 302.47,280.61 301.98,280.57 301.49,280.54 301,280.51 300.51,280.48 300.02,280.46 299.54,280.44 299.05,280.43 298.56,280.42 298.07,280.41 297.58,280.4 297.09,280.4 296.6,280.4" fill="url(#bg2)" stroke="none" stroke-width="0.5" />
<rect x="310.8" y="270.7" width="15.3" height="16.3" fill="none" stroke="#3f6fd0" stroke-width="0.6" stroke-dasharray="2 0.8 0.6 0.8"/>
<line x1="340.8" y1="254.2" x2="328" y2="266.4" stroke="#3f6fd0" stroke-width="0.75" />
<polygon points="327.2,267.4 327.8,264.4 330,266.4" fill="#3f6fd0" stroke="none" stroke-width="0.5" />
<text x="365.3" y="280" font-size="4.3" font-weight="bold" fill="#80207a" stroke="#80207a" stroke-width="0.2" text-anchor="start" dominant-baseline="central" >RX2 signals: upstream</text>
<rect x="354.8" y="177.8" width="42.7" height="20.2" fill="#fff" stroke="none" stroke-width="0.8" />
<defs><clipPath id="cpin2"><rect x="354.8" y="177.8" width="42.7" height="20.2"/></clipPath></defs><g clip-path="url(#cpin2)">
<polyline points="357,198 357.38,197.18 357.75,196.36 358.12,195.55 358.5,194.76 358.88,193.98 359.25,193.23 359.62,192.51 360,191.83 360.38,191.18 360.75,190.58 361.12,190.02 361.5,189.51 361.88,189.05 362.25,188.64 362.62,188.3 363,188.01 363.38,187.79 363.75,187.63 364.12,187.53 364.5,187.5 364.88,187.53 365.25,187.63 365.62,187.79 366,188.01 366.38,188.3 366.75,188.64 367.12,189.05 367.5,189.51 367.88,190.02 368.25,190.58 368.62,191.18 369,191.83 369.38,192.51 369.75,193.23 370.12,193.98 370.5,194.76 370.88,195.55 371.25,196.36 371.62,197.18 372,198" fill="none" stroke="#e8e040" stroke-width="0.5" />
<polyline points="360,198 360.41,197.08 360.81,196.17 361.22,195.27 361.62,194.38 362.03,193.52 362.43,192.69 362.84,191.89 363.24,191.12 363.65,190.4 364.05,189.73 364.46,189.1 364.86,188.53 365.27,188.02 365.67,187.58 366.08,187.19 366.48,186.87 366.89,186.62 367.29,186.44 367.7,186.34 368.1,186.3 368.5,186.34 368.91,186.44 369.31,186.62 369.72,186.87 370.12,187.19 370.53,187.58 370.94,188.02 371.34,188.53 371.75,189.1 372.15,189.73 372.56,190.4 372.96,191.12 373.37,191.89 373.77,192.69 374.18,193.52 374.58,194.38 374.99,195.27 375.39,196.17 375.8,197.08 376.2,198" fill="none" stroke="#b8d848" stroke-width="0.5" />
<polyline points="363,198 363.44,196.99 363.87,195.98 364.31,194.99 364.74,194.01 365.18,193.06 365.61,192.14 366.05,191.26 366.48,190.42 366.91,189.62 367.35,188.88 367.78,188.19 368.22,187.56 368.65,187 369.09,186.51 369.52,186.08 369.96,185.73 370.39,185.46 370.83,185.26 371.26,185.14 371.7,185.1 372.13,185.14 372.57,185.26 373,185.46 373.44,185.73 373.88,186.08 374.31,186.51 374.75,187 375.18,187.56 375.62,188.19 376.05,188.88 376.49,189.62 376.92,190.42 377.35,191.26 377.79,192.14 378.22,193.06 378.66,194.01 379.09,194.99 379.53,195.98 379.96,196.99 380.4,198" fill="none" stroke="#58b448" stroke-width="0.5" />
<polyline points="366,198 366.47,196.89 366.93,195.79 367.4,194.71 367.86,193.64 368.32,192.6 368.79,191.6 369.25,190.63 369.72,189.71 370.19,188.84 370.65,188.03 371.12,187.28 371.58,186.59 372.05,185.98 372.51,185.44 372.98,184.97 373.44,184.59 373.91,184.29 374.37,184.07 374.84,183.94 375.3,183.9 375.76,183.94 376.23,184.07 376.69,184.29 377.16,184.59 377.62,184.97 378.09,185.44 378.56,185.98 379.02,186.59 379.49,187.28 379.95,188.03 380.42,188.84 380.88,189.71 381.35,190.63 381.81,191.6 382.28,192.6 382.74,193.64 383.21,194.71 383.67,195.79 384.13,196.89 384.6,198" fill="none" stroke="#2aa070" stroke-width="0.5" />
<polyline points="369,198 369.5,196.8 369.99,195.61 370.48,194.43 370.98,193.27 371.47,192.14 371.97,191.05 372.46,190.01 372.96,189.01 373.45,188.06 373.95,187.18 374.44,186.37 374.94,185.62 375.44,184.95 375.93,184.37 376.42,183.86 376.92,183.45 377.41,183.12 377.91,182.89 378.4,182.75 378.9,182.7 379.39,182.75 379.89,182.89 380.38,183.12 380.88,183.45 381.38,183.86 381.87,184.37 382.36,184.95 382.86,185.62 383.35,186.37 383.85,187.18 384.34,188.06 384.84,189.01 385.33,190.01 385.83,191.05 386.32,192.14 386.82,193.27 387.31,194.43 387.81,195.61 388.3,196.8 388.8,198" fill="none" stroke="#3aa098" stroke-width="0.5" />
<polyline points="372,198 372.52,196.71 373.05,195.42 373.57,194.15 374.1,192.9 374.62,191.69 375.15,190.51 375.68,189.38 376.2,188.3 376.73,187.28 377.25,186.33 377.77,185.45 378.3,184.65 378.82,183.93 379.35,183.3 379.88,182.76 380.4,182.31 380.93,181.96 381.45,181.7 381.98,181.55 382.5,181.5 383.02,181.55 383.55,181.7 384.07,181.96 384.6,182.31 385.12,182.76 385.65,183.3 386.18,183.93 386.7,184.65 387.23,185.45 387.75,186.33 388.27,187.28 388.8,188.3 389.32,189.38 389.85,190.51 390.38,191.69 390.9,192.9 391.43,194.15 391.95,195.42 392.48,196.71 393,198" fill="none" stroke="#2a8aa0" stroke-width="0.5" />
<polyline points="375,198 375.56,196.61 376.11,195.23 376.67,193.87 377.22,192.53 377.78,191.23 378.33,189.96 378.89,188.75 379.44,187.6 380,186.5 380.55,185.48 381.11,184.54 381.66,183.68 382.22,182.91 382.77,182.23 383.33,181.65 383.88,181.17 384.44,180.79 384.99,180.52 385.55,180.35 386.1,180.3 386.66,180.35 387.21,180.52 387.77,180.79 388.32,181.17 388.88,181.65 389.43,182.23 389.99,182.91 390.54,183.68 391.1,184.54 391.65,185.48 392.21,186.5 392.76,187.6 393.31,188.75 393.87,189.96 394.43,191.23 394.98,192.53 395.54,193.87 396.09,195.23 396.65,196.61 397.2,198" fill="none" stroke="#2f6a9c" stroke-width="0.5" />
</g>
<rect x="354.8" y="177.8" width="42.7" height="20.2" fill="none" stroke="#222" stroke-width="0.6" stroke-dasharray="2.2 0.8 0.6 0.8"/>
<line x1="371.4" y1="198.2" x2="367.8" y2="208.3" stroke="#111" stroke-width="0.85" />
<polygon points="367.2,210.2 366.9,207.4 369.2,208.1" fill="#111" stroke="none" stroke-width="0.5" />
<line x1="286.6" y1="301.2" x2="286.6" y2="299.7" stroke="#000" stroke-width="0.6" />
<line x1="286.6" y1="172.5" x2="286.6" y2="174" stroke="#000" stroke-width="0.6" />
<line x1="309.27" y1="301.2" x2="309.27" y2="299.7" stroke="#000" stroke-width="0.6" />
<line x1="309.27" y1="172.5" x2="309.27" y2="174" stroke="#000" stroke-width="0.6" />
<line x1="331.94" y1="301.2" x2="331.94" y2="299.7" stroke="#000" stroke-width="0.6" />
<line x1="331.94" y1="172.5" x2="331.94" y2="174" stroke="#000" stroke-width="0.6" />
<line x1="354.61" y1="301.2" x2="354.61" y2="299.7" stroke="#000" stroke-width="0.6" />
<line x1="354.61" y1="172.5" x2="354.61" y2="174" stroke="#000" stroke-width="0.6" />
<line x1="377.28" y1="301.2" x2="377.28" y2="299.7" stroke="#000" stroke-width="0.6" />
<line x1="377.28" y1="172.5" x2="377.28" y2="174" stroke="#000" stroke-width="0.6" />
<line x1="399.95" y1="301.2" x2="399.95" y2="299.7" stroke="#000" stroke-width="0.6" />
<line x1="399.95" y1="172.5" x2="399.95" y2="174" stroke="#000" stroke-width="0.6" />
<line x1="422.62" y1="301.2" x2="422.62" y2="299.7" stroke="#000" stroke-width="0.6" />
<line x1="422.62" y1="172.5" x2="422.62" y2="174" stroke="#000" stroke-width="0.6" />
<line x1="445.29" y1="301.2" x2="445.29" y2="299.7" stroke="#000" stroke-width="0.6" />
<line x1="445.29" y1="172.5" x2="445.29" y2="174" stroke="#000" stroke-width="0.6" />
<line x1="286.6" y1="172.5" x2="288.1" y2="172.5" stroke="#000" stroke-width="0.6" />
<line x1="445.3" y1="172.5" x2="443.8" y2="172.5" stroke="#000" stroke-width="0.6" />
<line x1="286.6" y1="193.95" x2="288.1" y2="193.95" stroke="#000" stroke-width="0.6" />
<line x1="445.3" y1="193.95" x2="443.8" y2="193.95" stroke="#000" stroke-width="0.6" />
<line x1="286.6" y1="215.4" x2="288.1" y2="215.4" stroke="#000" stroke-width="0.6" />
<line x1="445.3" y1="215.4" x2="443.8" y2="215.4" stroke="#000" stroke-width="0.6" />
<line x1="286.6" y1="236.85" x2="288.1" y2="236.85" stroke="#000" stroke-width="0.6" />
<line x1="445.3" y1="236.85" x2="443.8" y2="236.85" stroke="#000" stroke-width="0.6" />
<line x1="286.6" y1="258.3" x2="288.1" y2="258.3" stroke="#000" stroke-width="0.6" />
<line x1="445.3" y1="258.3" x2="443.8" y2="258.3" stroke="#000" stroke-width="0.6" />
<line x1="286.6" y1="279.75" x2="288.1" y2="279.75" stroke="#000" stroke-width="0.6" />
<line x1="445.3" y1="279.75" x2="443.8" y2="279.75" stroke="#000" stroke-width="0.6" />
<line x1="286.6" y1="301.2" x2="288.1" y2="301.2" stroke="#000" stroke-width="0.6" />
<line x1="445.3" y1="301.2" x2="443.8" y2="301.2" stroke="#000" stroke-width="0.6" />
<rect x="286.6" y="172.5" width="158.7" height="128.7" fill="none" stroke="#000" stroke-width="0.8" />
<rect x="289.3" y="175.2" width="31.8" height="49.9" fill="#fff" stroke="#555" stroke-width="0.5" />
<text x="291.1" y="179.5" font-size="4.35" font-weight="bold" fill="#111" stroke="#111" stroke-width="0.2" text-anchor="start" dominant-baseline="central" >Flow rate:</text>
<line x1="291.1" y1="185.8" x2="302.1" y2="185.8" stroke="#f5e060" stroke-width="1.3" />
<text x="303.6" y="185.8" font-size="4.0" font-weight="bold" fill="#111" stroke="#111" stroke-width="0.2" text-anchor="start" dominant-baseline="central" >5L/min</text>
<line x1="291.1" y1="191.8" x2="302.1" y2="191.8" stroke="#d4e480" stroke-width="1.3" />
<text x="303.6" y="191.8" font-size="4.0" font-weight="bold" fill="#111" stroke="#111" stroke-width="0.2" text-anchor="start" dominant-baseline="central" >10L/min</text>
<line x1="291.1" y1="197.8" x2="302.1" y2="197.8" stroke="#58b848" stroke-width="1.3" />
<text x="303.6" y="197.8" font-size="4.0" font-weight="bold" fill="#111" stroke="#111" stroke-width="0.2" text-anchor="start" dominant-baseline="central" >15L/min</text>
<line x1="291.1" y1="203.8" x2="302.1" y2="203.8" stroke="#3aa888" stroke-width="1.3" />
<text x="303.6" y="203.8" font-size="4.0" font-weight="bold" fill="#111" stroke="#111" stroke-width="0.2" text-anchor="start" dominant-baseline="central" >20L/min</text>
<line x1="291.1" y1="209.8" x2="302.1" y2="209.8" stroke="#b4e0e0" stroke-width="1.3" />
<text x="303.6" y="209.8" font-size="4.0" font-weight="bold" fill="#111" stroke="#111" stroke-width="0.2" text-anchor="start" dominant-baseline="central" >25L/min</text>
<line x1="291.1" y1="215.8" x2="302.1" y2="215.8" stroke="#4890a8" stroke-width="1.3" />
<text x="303.6" y="215.8" font-size="4.0" font-weight="bold" fill="#111" stroke="#111" stroke-width="0.2" text-anchor="start" dominant-baseline="central" >30L/min</text>
<line x1="291.1" y1="221.8" x2="302.1" y2="221.8" stroke="#98b8dc" stroke-width="1.3" />
<text x="303.6" y="221.8" font-size="4.0" font-weight="bold" fill="#111" stroke="#111" stroke-width="0.2" text-anchor="start" dominant-baseline="central" >35L/min</text>
<text x="278.8" y="172.5" font-size="5.5" font-weight="bold" fill="#111" stroke="#111" stroke-width="0.2" text-anchor="middle" dominant-baseline="central" >0.6</text>
<text x="278.8" y="193.95" font-size="5.5" font-weight="bold" fill="#111" stroke="#111" stroke-width="0.2" text-anchor="middle" dominant-baseline="central" >0.4</text>
<text x="278.8" y="215.4" font-size="5.5" font-weight="bold" fill="#111" stroke="#111" stroke-width="0.2" text-anchor="middle" dominant-baseline="central" >0.2</text>
<text x="278.8" y="236.85" font-size="5.5" font-weight="bold" fill="#111" stroke="#111" stroke-width="0.2" text-anchor="middle" dominant-baseline="central" >0.0</text>
<text x="278.8" y="258.3" font-size="5.5" font-weight="bold" fill="#111" stroke="#111" stroke-width="0.2" text-anchor="middle" dominant-baseline="central" >−0.2</text>
<text x="278.8" y="279.75" font-size="5.5" font-weight="bold" fill="#111" stroke="#111" stroke-width="0.2" text-anchor="middle" dominant-baseline="central" >−0.4</text>
<text x="278.8" y="301.2" font-size="5.5" font-weight="bold" fill="#111" stroke="#111" stroke-width="0.2" text-anchor="middle" dominant-baseline="central" >−0.6</text>
<text x="286.6" y="307.6" font-size="5.5" font-weight="bold" fill="#111" stroke="#111" stroke-width="0.2" text-anchor="middle" dominant-baseline="central" >475</text>
<text x="309.27" y="307.6" font-size="5.5" font-weight="bold" fill="#111" stroke="#111" stroke-width="0.2" text-anchor="middle" dominant-baseline="central" >480</text>
<text x="331.94" y="307.6" font-size="5.5" font-weight="bold" fill="#111" stroke="#111" stroke-width="0.2" text-anchor="middle" dominant-baseline="central" >485</text>
<text x="354.61" y="307.6" font-size="5.5" font-weight="bold" fill="#111" stroke="#111" stroke-width="0.2" text-anchor="middle" dominant-baseline="central" >490</text>
<text x="377.28" y="307.6" font-size="5.5" font-weight="bold" fill="#111" stroke="#111" stroke-width="0.2" text-anchor="middle" dominant-baseline="central" >495</text>
<text x="399.95" y="307.6" font-size="5.5" font-weight="bold" fill="#111" stroke="#111" stroke-width="0.2" text-anchor="middle" dominant-baseline="central" >500</text>
<text x="422.62" y="307.6" font-size="5.5" font-weight="bold" fill="#111" stroke="#111" stroke-width="0.2" text-anchor="middle" dominant-baseline="central" >505</text>
<text x="445.29" y="307.6" font-size="5.5" font-weight="bold" fill="#111" stroke="#111" stroke-width="0.2" text-anchor="middle" dominant-baseline="central" >510</text>
<text x="366" y="318.7" font-size="5.8" font-weight="bold" fill="#111" stroke="#111" stroke-width="0.2" text-anchor="middle" dominant-baseline="central" >Time (µs)</text>
<text x="261.2" y="237.3" font-size="5.85" font-weight="bold" fill="#111" stroke="#111" stroke-width="0.2" text-anchor="middle" dominant-baseline="central" transform="rotate(-90 261.2 237.3)" >Voltage (V)</text>
<text x="478.9" y="31.6" font-size="5.6" font-weight="bold" fill="#4a70c8" stroke="#4a70c8" stroke-width="0.2" text-anchor="middle" dominant-baseline="central" >Pipe B</text>
<line x1="470" y1="78" x2="570" y2="50" stroke="#ececec" stroke-width="0.35" />
<line x1="471" y1="73.5" x2="570" y2="45.5" stroke="#ececec" stroke-width="0.35" />
<line x1="472" y1="69" x2="570" y2="41" stroke="#ececec" stroke-width="0.35" />
<line x1="473" y1="64.5" x2="570" y2="36.5" stroke="#ececec" stroke-width="0.35" />
<line x1="474" y1="60" x2="570" y2="32" stroke="#ececec" stroke-width="0.35" />
<line x1="475" y1="55.5" x2="570" y2="27.5" stroke="#ececec" stroke-width="0.35" />
<line x1="470" y1="78" x2="570" y2="50" stroke="#e0e0e0" stroke-width="0.4" />
<line x1="481" y1="77" x2="478" y2="57" stroke="#e8e8e8" stroke-width="0.3" />
<line x1="513" y1="61" x2="513" y2="45" stroke="#dddddd" stroke-width="0.3" />
<line x1="551" y1="48" x2="551" y2="31" stroke="#dddddd" stroke-width="0.3" />
<polyline points="469.6,64.4 488.3,57.6 516.3,62.4 522.6,59.7 549.6,34.8 569.3,28.5" fill="none" stroke="#3a80c8" stroke-width="3.0" stroke-linejoin="round"/>
<polyline points="469.6,65 488.3,58.2 516.3,63 522.6,60.3 549.6,35.4 569.3,29.1" fill="none" stroke="#a03818" stroke-width="1.6" stroke-linejoin="round"/>
<polyline points="469.6,63.4 488.3,56.6 516.3,61.4 522.6,58.7 549.6,33.8 569.3,27.5" fill="none" stroke="#50c8e0" stroke-width="0.8" stroke-linejoin="round"/>
<polyline points="469.6,65 488.3,58.2 516.3,63 522.6,60.3 549.6,35.4 569.3,29.1" fill="none" stroke="#e08020" stroke-width="0.5" stroke-linejoin="round" stroke-dasharray="1.5 1.5"/>
<rect x="468.5" y="62" width="2.5" height="4" fill="#c0a030" stroke="none" stroke-width="0.8" />
<rect x="470" y="55" width="2.2" height="0.6" fill="#aaa" stroke="none" stroke-width="0.8" />
<rect x="512" y="40" width="2.2" height="0.6" fill="#aaa" stroke="none" stroke-width="0.8" />
<rect x="513" y="44" width="2.2" height="0.6" fill="#aaa" stroke="none" stroke-width="0.8" />
<rect x="555" y="32" width="2.2" height="0.6" fill="#aaa" stroke="none" stroke-width="0.8" />
<rect x="572" y="25" width="2.2" height="0.6" fill="#aaa" stroke="none" stroke-width="0.8" />
<rect x="572" y="29" width="2.2" height="0.6" fill="#aaa" stroke="none" stroke-width="0.8" />
<rect x="572" y="33" width="2.2" height="0.6" fill="#aaa" stroke="none" stroke-width="0.8" />
<rect x="572" y="37" width="2.2" height="0.6" fill="#aaa" stroke="none" stroke-width="0.8" />
<rect x="572" y="41" width="2.2" height="0.6" fill="#aaa" stroke="none" stroke-width="0.8" />
<rect x="548" y="32" width="2.2" height="0.6" fill="#aaa" stroke="none" stroke-width="0.8" />
<defs><filter id="shB" x="-10%" y="-10%" width="130%" height="130%"><feGaussianBlur stdDeviation="1"/></filter><radialGradient id="brd" cx="0.45" cy="0.35" r="0.8"><stop offset="0" stop-color="#d0d0ce"/><stop offset="0.7" stop-color="#c2c2c0"/><stop offset="1" stop-color="#a4a4a2"/></radialGradient></defs>
<rect x="584.1" y="25.7" width="76.4" height="43.3" fill="#666" stroke="none" stroke-width="0.8" filter="url(#shB)" opacity="0.6"/>
<rect x="582.3" y="23.9" width="76.4" height="43.3" fill="url(#brd)" stroke="none" stroke-width="0.8" />
<circle cx="584.7" cy="26.3" r="0.45" fill="#4a4a4a"/>
<circle cx="588.15" cy="26.3" r="0.45" fill="#4a4a4a"/>
<circle cx="591.6" cy="26.3" r="0.45" fill="#4a4a4a"/>
<circle cx="595.05" cy="26.3" r="0.45" fill="#4a4a4a"/>
<circle cx="598.5" cy="26.3" r="0.45" fill="#4a4a4a"/>
<circle cx="601.95" cy="26.3" r="0.45" fill="#4a4a4a"/>
<circle cx="605.4" cy="26.3" r="0.45" fill="#4a4a4a"/>
<circle cx="608.85" cy="26.3" r="0.45" fill="#4a4a4a"/>
<circle cx="612.3" cy="26.3" r="0.45" fill="#4a4a4a"/>
<circle cx="615.75" cy="26.3" r="0.45" fill="#4a4a4a"/>
<circle cx="619.2" cy="26.3" r="0.45" fill="#4a4a4a"/>
<circle cx="622.65" cy="26.3" r="0.45" fill="#4a4a4a"/>
<circle cx="626.1" cy="26.3" r="0.45" fill="#4a4a4a"/>
<circle cx="629.55" cy="26.3" r="0.45" fill="#4a4a4a"/>
<circle cx="633" cy="26.3" r="0.45" fill="#4a4a4a"/>
<circle cx="636.45" cy="26.3" r="0.45" fill="#4a4a4a"/>
<circle cx="639.9" cy="26.3" r="0.45" fill="#4a4a4a"/>
<circle cx="643.35" cy="26.3" r="0.45" fill="#4a4a4a"/>
<circle cx="646.8" cy="26.3" r="0.45" fill="#4a4a4a"/>
<circle cx="650.25" cy="26.3" r="0.45" fill="#4a4a4a"/>
<circle cx="653.7" cy="26.3" r="0.45" fill="#4a4a4a"/>
<circle cx="657.15" cy="26.3" r="0.45" fill="#4a4a4a"/>
<circle cx="584.7" cy="29.85" r="0.45" fill="#4a4a4a"/>
<circle cx="588.15" cy="29.85" r="0.45" fill="#4a4a4a"/>
<circle cx="591.6" cy="29.85" r="0.45" fill="#4a4a4a"/>
<circle cx="595.05" cy="29.85" r="0.45" fill="#4a4a4a"/>
<circle cx="598.5" cy="29.85" r="0.45" fill="#4a4a4a"/>
<circle cx="601.95" cy="29.85" r="0.45" fill="#4a4a4a"/>
<circle cx="605.4" cy="29.85" r="0.45" fill="#4a4a4a"/>
<circle cx="608.85" cy="29.85" r="0.45" fill="#4a4a4a"/>
<circle cx="612.3" cy="29.85" r="0.45" fill="#4a4a4a"/>
<circle cx="615.75" cy="29.85" r="0.45" fill="#4a4a4a"/>
<circle cx="619.2" cy="29.85" r="0.45" fill="#4a4a4a"/>
<circle cx="622.65" cy="29.85" r="0.45" fill="#4a4a4a"/>
<circle cx="626.1" cy="29.85" r="0.45" fill="#4a4a4a"/>
<circle cx="629.55" cy="29.85" r="0.45" fill="#4a4a4a"/>
<circle cx="633" cy="29.85" r="0.45" fill="#4a4a4a"/>
<circle cx="636.45" cy="29.85" r="0.45" fill="#4a4a4a"/>
<circle cx="639.9" cy="29.85" r="0.45" fill="#4a4a4a"/>
<circle cx="643.35" cy="29.85" r="0.45" fill="#4a4a4a"/>
<circle cx="646.8" cy="29.85" r="0.45" fill="#4a4a4a"/>
<circle cx="650.25" cy="29.85" r="0.45" fill="#4a4a4a"/>
<circle cx="653.7" cy="29.85" r="0.45" fill="#4a4a4a"/>
<circle cx="657.15" cy="29.85" r="0.45" fill="#4a4a4a"/>
<circle cx="584.7" cy="33.4" r="0.45" fill="#4a4a4a"/>
<circle cx="588.15" cy="33.4" r="0.45" fill="#4a4a4a"/>
<circle cx="591.6" cy="33.4" r="0.45" fill="#4a4a4a"/>
<circle cx="595.05" cy="33.4" r="0.45" fill="#4a4a4a"/>
<circle cx="598.5" cy="33.4" r="0.45" fill="#4a4a4a"/>
<circle cx="601.95" cy="33.4" r="0.45" fill="#4a4a4a"/>
<circle cx="605.4" cy="33.4" r="0.45" fill="#4a4a4a"/>
<circle cx="608.85" cy="33.4" r="0.45" fill="#4a4a4a"/>
<circle cx="612.3" cy="33.4" r="0.45" fill="#4a4a4a"/>
<circle cx="615.75" cy="33.4" r="0.45" fill="#4a4a4a"/>
<circle cx="619.2" cy="33.4" r="0.45" fill="#4a4a4a"/>
<circle cx="622.65" cy="33.4" r="0.45" fill="#4a4a4a"/>
<circle cx="626.1" cy="33.4" r="0.45" fill="#4a4a4a"/>
<circle cx="629.55" cy="33.4" r="0.45" fill="#4a4a4a"/>
<circle cx="633" cy="33.4" r="0.45" fill="#4a4a4a"/>
<circle cx="636.45" cy="33.4" r="0.45" fill="#4a4a4a"/>
<circle cx="639.9" cy="33.4" r="0.45" fill="#4a4a4a"/>
<circle cx="643.35" cy="33.4" r="0.45" fill="#4a4a4a"/>
<circle cx="646.8" cy="33.4" r="0.45" fill="#4a4a4a"/>
<circle cx="650.25" cy="33.4" r="0.45" fill="#4a4a4a"/>
<circle cx="653.7" cy="33.4" r="0.45" fill="#4a4a4a"/>
<circle cx="657.15" cy="33.4" r="0.45" fill="#4a4a4a"/>
<circle cx="584.7" cy="36.95" r="0.45" fill="#4a4a4a"/>
<circle cx="588.15" cy="36.95" r="0.45" fill="#4a4a4a"/>
<circle cx="591.6" cy="36.95" r="0.45" fill="#4a4a4a"/>
<circle cx="595.05" cy="36.95" r="0.45" fill="#4a4a4a"/>
<circle cx="598.5" cy="36.95" r="0.45" fill="#4a4a4a"/>
<circle cx="601.95" cy="36.95" r="0.45" fill="#4a4a4a"/>
<circle cx="605.4" cy="36.95" r="0.45" fill="#4a4a4a"/>
<circle cx="608.85" cy="36.95" r="0.45" fill="#4a4a4a"/>
<circle cx="612.3" cy="36.95" r="0.45" fill="#4a4a4a"/>
<circle cx="615.75" cy="36.95" r="0.45" fill="#4a4a4a"/>
<circle cx="619.2" cy="36.95" r="0.45" fill="#4a4a4a"/>
<circle cx="622.65" cy="36.95" r="0.45" fill="#4a4a4a"/>
<circle cx="626.1" cy="36.95" r="0.45" fill="#4a4a4a"/>
<circle cx="629.55" cy="36.95" r="0.45" fill="#4a4a4a"/>
<circle cx="633" cy="36.95" r="0.45" fill="#4a4a4a"/>
<circle cx="636.45" cy="36.95" r="0.45" fill="#4a4a4a"/>
<circle cx="639.9" cy="36.95" r="0.45" fill="#4a4a4a"/>
<circle cx="643.35" cy="36.95" r="0.45" fill="#4a4a4a"/>
<circle cx="646.8" cy="36.95" r="0.45" fill="#4a4a4a"/>
<circle cx="650.25" cy="36.95" r="0.45" fill="#4a4a4a"/>
<circle cx="653.7" cy="36.95" r="0.45" fill="#4a4a4a"/>
<circle cx="657.15" cy="36.95" r="0.45" fill="#4a4a4a"/>
<circle cx="584.7" cy="40.5" r="0.45" fill="#4a4a4a"/>
<circle cx="588.15" cy="40.5" r="0.45" fill="#4a4a4a"/>
<circle cx="591.6" cy="40.5" r="0.45" fill="#4a4a4a"/>
<circle cx="595.05" cy="40.5" r="0.45" fill="#4a4a4a"/>
<circle cx="598.5" cy="40.5" r="0.45" fill="#4a4a4a"/>
<circle cx="601.95" cy="40.5" r="0.45" fill="#4a4a4a"/>
<circle cx="605.4" cy="40.5" r="0.45" fill="#4a4a4a"/>
<circle cx="608.85" cy="40.5" r="0.45" fill="#4a4a4a"/>
<circle cx="612.3" cy="40.5" r="0.45" fill="#4a4a4a"/>
<circle cx="615.75" cy="40.5" r="0.45" fill="#4a4a4a"/>
<circle cx="619.2" cy="40.5" r="0.45" fill="#4a4a4a"/>
<circle cx="622.65" cy="40.5" r="0.45" fill="#4a4a4a"/>
<circle cx="626.1" cy="40.5" r="0.45" fill="#4a4a4a"/>
<circle cx="629.55" cy="40.5" r="0.45" fill="#4a4a4a"/>
<circle cx="633" cy="40.5" r="0.45" fill="#4a4a4a"/>
<circle cx="636.45" cy="40.5" r="0.45" fill="#4a4a4a"/>
<circle cx="639.9" cy="40.5" r="0.45" fill="#4a4a4a"/>
<circle cx="643.35" cy="40.5" r="0.45" fill="#4a4a4a"/>
<circle cx="646.8" cy="40.5" r="0.45" fill="#4a4a4a"/>
<circle cx="650.25" cy="40.5" r="0.45" fill="#4a4a4a"/>
<circle cx="653.7" cy="40.5" r="0.45" fill="#4a4a4a"/>
<circle cx="657.15" cy="40.5" r="0.45" fill="#4a4a4a"/>
<circle cx="584.7" cy="44.05" r="0.45" fill="#4a4a4a"/>
<circle cx="588.15" cy="44.05" r="0.45" fill="#4a4a4a"/>
<circle cx="591.6" cy="44.05" r="0.45" fill="#4a4a4a"/>
<circle cx="595.05" cy="44.05" r="0.45" fill="#4a4a4a"/>
<circle cx="598.5" cy="44.05" r="0.45" fill="#4a4a4a"/>
<circle cx="601.95" cy="44.05" r="0.45" fill="#4a4a4a"/>
<circle cx="605.4" cy="44.05" r="0.45" fill="#4a4a4a"/>
<circle cx="608.85" cy="44.05" r="0.45" fill="#4a4a4a"/>
<circle cx="612.3" cy="44.05" r="0.45" fill="#4a4a4a"/>
<circle cx="615.75" cy="44.05" r="0.45" fill="#4a4a4a"/>
<circle cx="619.2" cy="44.05" r="0.45" fill="#4a4a4a"/>
<circle cx="622.65" cy="44.05" r="0.45" fill="#4a4a4a"/>
<circle cx="626.1" cy="44.05" r="0.45" fill="#4a4a4a"/>
<circle cx="629.55" cy="44.05" r="0.45" fill="#4a4a4a"/>
<circle cx="633" cy="44.05" r="0.45" fill="#4a4a4a"/>
<circle cx="636.45" cy="44.05" r="0.45" fill="#4a4a4a"/>
<circle cx="639.9" cy="44.05" r="0.45" fill="#4a4a4a"/>
<circle cx="643.35" cy="44.05" r="0.45" fill="#4a4a4a"/>
<circle cx="646.8" cy="44.05" r="0.45" fill="#4a4a4a"/>
<circle cx="650.25" cy="44.05" r="0.45" fill="#4a4a4a"/>
<circle cx="653.7" cy="44.05" r="0.45" fill="#4a4a4a"/>
<circle cx="657.15" cy="44.05" r="0.45" fill="#4a4a4a"/>
<circle cx="584.7" cy="47.6" r="0.45" fill="#4a4a4a"/>
<circle cx="588.15" cy="47.6" r="0.45" fill="#4a4a4a"/>
<circle cx="591.6" cy="47.6" r="0.45" fill="#4a4a4a"/>
<circle cx="595.05" cy="47.6" r="0.45" fill="#4a4a4a"/>
<circle cx="598.5" cy="47.6" r="0.45" fill="#4a4a4a"/>
<circle cx="601.95" cy="47.6" r="0.45" fill="#4a4a4a"/>
<circle cx="605.4" cy="47.6" r="0.45" fill="#4a4a4a"/>
<circle cx="608.85" cy="47.6" r="0.45" fill="#4a4a4a"/>
<circle cx="612.3" cy="47.6" r="0.45" fill="#4a4a4a"/>
<circle cx="615.75" cy="47.6" r="0.45" fill="#4a4a4a"/>
<circle cx="619.2" cy="47.6" r="0.45" fill="#4a4a4a"/>
<circle cx="622.65" cy="47.6" r="0.45" fill="#4a4a4a"/>
<circle cx="626.1" cy="47.6" r="0.45" fill="#4a4a4a"/>
<circle cx="629.55" cy="47.6" r="0.45" fill="#4a4a4a"/>
<circle cx="633" cy="47.6" r="0.45" fill="#4a4a4a"/>
<circle cx="636.45" cy="47.6" r="0.45" fill="#4a4a4a"/>
<circle cx="639.9" cy="47.6" r="0.45" fill="#4a4a4a"/>
<circle cx="643.35" cy="47.6" r="0.45" fill="#4a4a4a"/>
<circle cx="646.8" cy="47.6" r="0.45" fill="#4a4a4a"/>
<circle cx="650.25" cy="47.6" r="0.45" fill="#4a4a4a"/>
<circle cx="653.7" cy="47.6" r="0.45" fill="#4a4a4a"/>
<circle cx="657.15" cy="47.6" r="0.45" fill="#4a4a4a"/>
<circle cx="584.7" cy="51.15" r="0.45" fill="#4a4a4a"/>
<circle cx="588.15" cy="51.15" r="0.45" fill="#4a4a4a"/>
<circle cx="591.6" cy="51.15" r="0.45" fill="#4a4a4a"/>
<circle cx="595.05" cy="51.15" r="0.45" fill="#4a4a4a"/>
<circle cx="598.5" cy="51.15" r="0.45" fill="#4a4a4a"/>
<circle cx="601.95" cy="51.15" r="0.45" fill="#4a4a4a"/>
<circle cx="605.4" cy="51.15" r="0.45" fill="#4a4a4a"/>
<circle cx="608.85" cy="51.15" r="0.45" fill="#4a4a4a"/>
<circle cx="612.3" cy="51.15" r="0.45" fill="#4a4a4a"/>
<circle cx="615.75" cy="51.15" r="0.45" fill="#4a4a4a"/>
<circle cx="619.2" cy="51.15" r="0.45" fill="#4a4a4a"/>
<circle cx="622.65" cy="51.15" r="0.45" fill="#4a4a4a"/>
<circle cx="626.1" cy="51.15" r="0.45" fill="#4a4a4a"/>
<circle cx="629.55" cy="51.15" r="0.45" fill="#4a4a4a"/>
<circle cx="633" cy="51.15" r="0.45" fill="#4a4a4a"/>
<circle cx="636.45" cy="51.15" r="0.45" fill="#4a4a4a"/>
<circle cx="639.9" cy="51.15" r="0.45" fill="#4a4a4a"/>
<circle cx="643.35" cy="51.15" r="0.45" fill="#4a4a4a"/>
<circle cx="646.8" cy="51.15" r="0.45" fill="#4a4a4a"/>
<circle cx="650.25" cy="51.15" r="0.45" fill="#4a4a4a"/>
<circle cx="653.7" cy="51.15" r="0.45" fill="#4a4a4a"/>
<circle cx="657.15" cy="51.15" r="0.45" fill="#4a4a4a"/>
<circle cx="584.7" cy="54.7" r="0.45" fill="#4a4a4a"/>
<circle cx="588.15" cy="54.7" r="0.45" fill="#4a4a4a"/>
<circle cx="591.6" cy="54.7" r="0.45" fill="#4a4a4a"/>
<circle cx="595.05" cy="54.7" r="0.45" fill="#4a4a4a"/>
<circle cx="598.5" cy="54.7" r="0.45" fill="#4a4a4a"/>
<circle cx="601.95" cy="54.7" r="0.45" fill="#4a4a4a"/>
<circle cx="605.4" cy="54.7" r="0.45" fill="#4a4a4a"/>
<circle cx="608.85" cy="54.7" r="0.45" fill="#4a4a4a"/>
<circle cx="612.3" cy="54.7" r="0.45" fill="#4a4a4a"/>
<circle cx="615.75" cy="54.7" r="0.45" fill="#4a4a4a"/>
<circle cx="619.2" cy="54.7" r="0.45" fill="#4a4a4a"/>
<circle cx="622.65" cy="54.7" r="0.45" fill="#4a4a4a"/>
<circle cx="626.1" cy="54.7" r="0.45" fill="#4a4a4a"/>
<circle cx="629.55" cy="54.7" r="0.45" fill="#4a4a4a"/>
<circle cx="633" cy="54.7" r="0.45" fill="#4a4a4a"/>
<circle cx="636.45" cy="54.7" r="0.45" fill="#4a4a4a"/>
<circle cx="639.9" cy="54.7" r="0.45" fill="#4a4a4a"/>
<circle cx="643.35" cy="54.7" r="0.45" fill="#4a4a4a"/>
<circle cx="646.8" cy="54.7" r="0.45" fill="#4a4a4a"/>
<circle cx="650.25" cy="54.7" r="0.45" fill="#4a4a4a"/>
<circle cx="653.7" cy="54.7" r="0.45" fill="#4a4a4a"/>
<circle cx="657.15" cy="54.7" r="0.45" fill="#4a4a4a"/>
<circle cx="584.7" cy="58.25" r="0.45" fill="#4a4a4a"/>
<circle cx="588.15" cy="58.25" r="0.45" fill="#4a4a4a"/>
<circle cx="591.6" cy="58.25" r="0.45" fill="#4a4a4a"/>
<circle cx="595.05" cy="58.25" r="0.45" fill="#4a4a4a"/>
<circle cx="598.5" cy="58.25" r="0.45" fill="#4a4a4a"/>
<circle cx="601.95" cy="58.25" r="0.45" fill="#4a4a4a"/>
<circle cx="605.4" cy="58.25" r="0.45" fill="#4a4a4a"/>
<circle cx="608.85" cy="58.25" r="0.45" fill="#4a4a4a"/>
<circle cx="612.3" cy="58.25" r="0.45" fill="#4a4a4a"/>
<circle cx="615.75" cy="58.25" r="0.45" fill="#4a4a4a"/>
<circle cx="619.2" cy="58.25" r="0.45" fill="#4a4a4a"/>
<circle cx="622.65" cy="58.25" r="0.45" fill="#4a4a4a"/>
<circle cx="626.1" cy="58.25" r="0.45" fill="#4a4a4a"/>
<circle cx="629.55" cy="58.25" r="0.45" fill="#4a4a4a"/>
<circle cx="633" cy="58.25" r="0.45" fill="#4a4a4a"/>
<circle cx="636.45" cy="58.25" r="0.45" fill="#4a4a4a"/>
<circle cx="639.9" cy="58.25" r="0.45" fill="#4a4a4a"/>
<circle cx="643.35" cy="58.25" r="0.45" fill="#4a4a4a"/>
<circle cx="646.8" cy="58.25" r="0.45" fill="#4a4a4a"/>
<circle cx="650.25" cy="58.25" r="0.45" fill="#4a4a4a"/>
<circle cx="653.7" cy="58.25" r="0.45" fill="#4a4a4a"/>
<circle cx="657.15" cy="58.25" r="0.45" fill="#4a4a4a"/>
<circle cx="584.7" cy="61.8" r="0.45" fill="#4a4a4a"/>
<circle cx="588.15" cy="61.8" r="0.45" fill="#4a4a4a"/>
<circle cx="591.6" cy="61.8" r="0.45" fill="#4a4a4a"/>
<circle cx="595.05" cy="61.8" r="0.45" fill="#4a4a4a"/>
<circle cx="598.5" cy="61.8" r="0.45" fill="#4a4a4a"/>
<circle cx="601.95" cy="61.8" r="0.45" fill="#4a4a4a"/>
<circle cx="605.4" cy="61.8" r="0.45" fill="#4a4a4a"/>
<circle cx="608.85" cy="61.8" r="0.45" fill="#4a4a4a"/>
<circle cx="612.3" cy="61.8" r="0.45" fill="#4a4a4a"/>
<circle cx="615.75" cy="61.8" r="0.45" fill="#4a4a4a"/>
<circle cx="619.2" cy="61.8" r="0.45" fill="#4a4a4a"/>
<circle cx="622.65" cy="61.8" r="0.45" fill="#4a4a4a"/>
<circle cx="626.1" cy="61.8" r="0.45" fill="#4a4a4a"/>
<circle cx="629.55" cy="61.8" r="0.45" fill="#4a4a4a"/>
<circle cx="633" cy="61.8" r="0.45" fill="#4a4a4a"/>
<circle cx="636.45" cy="61.8" r="0.45" fill="#4a4a4a"/>
<circle cx="639.9" cy="61.8" r="0.45" fill="#4a4a4a"/>
<circle cx="643.35" cy="61.8" r="0.45" fill="#4a4a4a"/>
<circle cx="646.8" cy="61.8" r="0.45" fill="#4a4a4a"/>
<circle cx="650.25" cy="61.8" r="0.45" fill="#4a4a4a"/>
<circle cx="653.7" cy="61.8" r="0.45" fill="#4a4a4a"/>
<circle cx="657.15" cy="61.8" r="0.45" fill="#4a4a4a"/>
<circle cx="584.7" cy="65.35" r="0.45" fill="#4a4a4a"/>
<circle cx="588.15" cy="65.35" r="0.45" fill="#4a4a4a"/>
<circle cx="591.6" cy="65.35" r="0.45" fill="#4a4a4a"/>
<circle cx="595.05" cy="65.35" r="0.45" fill="#4a4a4a"/>
<circle cx="598.5" cy="65.35" r="0.45" fill="#4a4a4a"/>
<circle cx="601.95" cy="65.35" r="0.45" fill="#4a4a4a"/>
<circle cx="605.4" cy="65.35" r="0.45" fill="#4a4a4a"/>
<circle cx="608.85" cy="65.35" r="0.45" fill="#4a4a4a"/>
<circle cx="612.3" cy="65.35" r="0.45" fill="#4a4a4a"/>
<circle cx="615.75" cy="65.35" r="0.45" fill="#4a4a4a"/>
<circle cx="619.2" cy="65.35" r="0.45" fill="#4a4a4a"/>
<circle cx="622.65" cy="65.35" r="0.45" fill="#4a4a4a"/>
<circle cx="626.1" cy="65.35" r="0.45" fill="#4a4a4a"/>
<circle cx="629.55" cy="65.35" r="0.45" fill="#4a4a4a"/>
<circle cx="633" cy="65.35" r="0.45" fill="#4a4a4a"/>
<circle cx="636.45" cy="65.35" r="0.45" fill="#4a4a4a"/>
<circle cx="639.9" cy="65.35" r="0.45" fill="#4a4a4a"/>
<circle cx="643.35" cy="65.35" r="0.45" fill="#4a4a4a"/>
<circle cx="646.8" cy="65.35" r="0.45" fill="#4a4a4a"/>
<circle cx="650.25" cy="65.35" r="0.45" fill="#4a4a4a"/>
<circle cx="653.7" cy="65.35" r="0.45" fill="#4a4a4a"/>
<circle cx="657.15" cy="65.35" r="0.45" fill="#4a4a4a"/>
<path d="M592.3,24 C591,28 594,33 601.6,39.3" stroke="#c04848" stroke-width="0.5" fill="none"/>
<path d="M635.6,24 C634,28 633,32 634.5,36" stroke="#c04848" stroke-width="0.5" fill="none"/>
<polyline points="584.6,43.1 603.1,44.7 617,50.9 624.8,50.1 638.6,43.1 655.6,42.4" fill="none" stroke="#a0a090" stroke-width="4.2" stroke-linejoin="round" opacity="0.5"/>
<polyline points="584.6,43.1 603.1,44.7 617,50.9 624.8,50.1 638.6,43.1 655.6,42.4" fill="none" stroke="#f2f2dc" stroke-width="3.4" stroke-linejoin="round"/>
<rect x="634" y="33.1" width="10.8" height="7.7" fill="#eeeee0" stroke="#b0b0a0" stroke-width="0.3" />
<rect x="614.7" y="51.6" width="10.1" height="9.3" fill="#d6d2ba" stroke="#a8a490" stroke-width="0.3" />
<rect x="616.5" y="53.5" width="6.5" height="5.5" fill="#9a9a80" stroke="none" stroke-width="0.8" />
<path d="M620,58 C618,62 614,65 608,68" stroke="#d07020" stroke-width="0.7" fill="none"/>
<path d="M621.5,58 C620,62 617,66 614,68" stroke="#e0b020" stroke-width="0.6" fill="none"/>
<rect x="582.3" y="41.8" width="1.4" height="2.8" fill="#222" stroke="none" stroke-width="0.8" />
<rect x="657.4" y="41" width="1.3" height="2.8" fill="#222" stroke="none" stroke-width="0.8" />
<line x1="501.6" y1="87.5" x2="501.6" y2="148.2" stroke="#dcdcdc" stroke-width="0.5" />
<line x1="527.9" y1="87.5" x2="527.9" y2="148.2" stroke="#dcdcdc" stroke-width="0.5" />
<line x1="554.2" y1="87.5" x2="554.2" y2="148.2" stroke="#dcdcdc" stroke-width="0.5" />
<line x1="580.5" y1="87.5" x2="580.5" y2="148.2" stroke="#dcdcdc" stroke-width="0.5" />
<line x1="606.8" y1="87.5" x2="606.8" y2="148.2" stroke="#dcdcdc" stroke-width="0.5" />
<line x1="633.11" y1="87.5" x2="633.11" y2="148.2" stroke="#dcdcdc" stroke-width="0.5" />
<line x1="659.41" y1="87.5" x2="659.41" y2="148.2" stroke="#dcdcdc" stroke-width="0.5" />
<line x1="484.3" y1="90.08" x2="659.3" y2="90.08" stroke="#dcdcdc" stroke-width="0.5" />
<line x1="484.3" y1="103.74" x2="659.3" y2="103.74" stroke="#dcdcdc" stroke-width="0.5" />
<line x1="484.3" y1="117.4" x2="659.3" y2="117.4" stroke="#dcdcdc" stroke-width="0.5" />
<line x1="484.3" y1="131.06" x2="659.3" y2="131.06" stroke="#dcdcdc" stroke-width="0.5" />
<line x1="484.3" y1="144.72" x2="659.3" y2="144.72" stroke="#dcdcdc" stroke-width="0.5" />
<defs><clipPath id="cpiii"><rect x="484.3" y="87.5" width="175" height="60.7"/></clipPath></defs><g clip-path="url(#cpiii)">
<polyline points="484,117.4 484.25,116.83 484.5,116.34 484.75,116.01 485,115.9 485.25,116.01 485.5,116.34 485.75,116.83 486,117.4 486.25,117.97 486.5,118.46 486.75,118.79 487,118.9 487.25,118.79 487.5,118.46 487.75,117.97 488,117.4 488.25,116.83 488.5,116.34 488.75,116.01 489,115.9 489.25,116.01 489.5,116.34 489.75,116.83 490,117.4 490.25,117.97 490.5,118.46 490.75,118.79 491,118.9 491.25,118.79 491.5,118.46 491.75,117.97 492,117.4 492.25,116.83 492.5,116.34 492.75,116.01 493,115.9 493.25,116.01 493.5,116.34 493.75,116.83 494,117.4 494.25,117.97 494.5,118.46 494.75,118.79 495,118.9 495.25,118.79 495.5,118.46 495.75,117.97 496,117.4 496.25,116.83 496.5,116.34 496.75,116.01 497,115.9 497.25,116.01 497.5,116.34 497.75,116.83 498,117.4 498.25,117.97 498.5,118.46 498.75,118.79 499,118.9 499.25,118.79 499.5,118.46 499.75,117.97 500,117.4 500.25,116.83 500.5,116.34 500.75,116.01 501,115.9 501.25,116.01 501.5,116.34 501.75,116.83 502,117.4 502.25,117.97 502.5,118.46 502.75,118.79 503,118.9 503.25,118.79 503.5,118.46 503.75,117.97 504,117.4 504.25,116.83 504.5,116.34 504.75,116.01 505,115.9 505.25,116.01 505.5,116.34 505.75,116.83 506,117.4 506.25,117.97 506.5,118.46 506.75,118.79 507,118.9 507.25,118.79 507.5,118.46 507.75,117.97 508,117.4 508.25,116.83 508.5,116.34 508.75,116.01 509,115.9 509.25,116.01 509.5,116.34 509.75,116.83 510,117.4 510.25,117.97 510.5,118.46 510.75,118.79 511,118.9 511.25,118.79 511.5,118.46 511.75,117.97 512,117.4 512.25,116.83 512.5,116.34 512.75,116.01 513,115.9 513.25,116.01 513.5,116.34 513.75,116.83 514,117.4 514.25,117.97 514.5,118.46 514.75,118.79 515,118.9 515.25,118.79 515.5,118.46 515.75,117.97 516,117.4 516.25,116.83 516.5,116.34 516.75,116.01 517,115.9 517.25,116.01 517.5,116.34 517.75,116.83 518,117.4 518.25,117.97 518.5,118.46 518.75,118.79 519,118.9 519.25,118.79 519.5,118.46 519.75,117.97 520,117.4 520.25,116.83 520.5,116.34 520.75,116.01 521,115.9 521.25,116.01 521.5,116.34 521.75,116.83 522,117.4 522.25,117.97 522.5,118.46 522.75,118.79 523,118.9 523.25,118.79 523.5,118.46 523.75,117.97 524,117.4 524.25,116.83 524.5,116.34 524.75,116.01 525,115.9 525.25,116.01 525.5,116.34 525.75,116.82 526,117.4 526.25,117.98 526.5,118.48 526.75,118.82 527,118.95 527.25,118.84 527.5,118.51 527.75,118.01 528,117.4 528.25,116.78 528.5,116.24 528.75,115.86 529,115.71 529.25,115.82 529.5,116.17 529.75,116.73 530,117.4 530.25,118.09 530.5,118.7 530.75,119.13 531,119.31 531.25,119.19 531.5,118.8 531.75,118.17 532,117.4 532.25,116.6 532.5,115.89 532.75,115.39 533,115.19 533.25,115.31 533.5,115.77 533.75,116.5 534,117.4 534.25,118.33 534.5,119.16 534.75,119.75 535,119.99 535.25,119.84 535.5,119.31 535.75,118.45 536,117.4 536.25,116.3 536.5,115.33 536.75,114.64 537,114.36 537.25,114.53 537.5,115.16 537.75,116.16 538,117.4 538.25,118.69 538.5,119.82 538.75,120.63 539,120.96 539.25,120.75 539.5,120.01 539.75,118.84 540,117.4 540.25,115.9 540.5,114.58 540.75,113.65 541,113.26 541.25,113.51 541.5,114.37 541.75,115.73 542,117.4 542.25,119.13 542.5,120.66 542.75,121.73 543,122.17 543.25,121.88 543.5,120.89 543.75,119.32 544,117.4 544.25,115.42 544.5,113.67 544.75,112.45 545,111.95 545.25,112.29 545.5,113.42 545.75,115.21 546,117.4 546.25,119.66 546.5,121.63 546.75,123.02 547,123.57 547.25,123.19 547.5,121.9 547.75,119.87 548,117.4 548.25,114.86 548.5,112.63 548.75,111.08 549,110.46 549.25,110.9 549.5,112.36 549.75,114.63 550,117.4 550.25,120.24 550.5,122.73 550.75,124.45 551,125.14 551.25,124.64 551.5,123.02 551.75,120.48 552,117.4 552.25,114.24 552.5,111.49 552.75,109.58 553,108.83 553.25,109.39 553.5,111.19 553.75,114 554,117.4 554.25,120.88 554.5,123.91 554.75,126 555,126.82 555.25,126.2 555.5,124.21 555.75,121.13 556,117.4 556.25,113.59 556.5,110.28 556.75,107.99 557,107.11 557.25,107.79 557.5,109.97 557.75,113.33 558,117.4 558.25,121.55 558.5,125.15 558.75,127.63 559,128.58 559.25,127.83 559.5,125.46 559.75,121.81 560,117.4 560.25,112.91 560.5,109.02 560.75,106.35 561,105.32 561.25,106.14 561.5,108.7 561.75,112.65 562,117.4 562.25,122.24 562.5,126.42 562.75,129.28 563,130.37 563.25,129.49 563.5,126.73 563.75,122.49 564,117.4 564.25,112.22 564.5,107.75 564.75,104.69 565,103.53 565.25,104.48 565.5,107.43 565.75,111.96 566,117.4 566.25,122.92 566.5,127.68 566.75,130.94 567,132.17 567.25,131.14 567.5,128 567.75,123.18 568,117.4 568.25,111.54 568.5,106.49 568.75,103.05 569,101.75 569.25,102.84 569.5,106.18 569.75,111.29 570,117.4 570.25,123.59 570.5,128.92 570.75,132.55 571,133.91 571.25,132.75 571.5,129.22 571.75,123.84 572,117.4 572.25,110.88 572.5,105.28 572.75,101.47 573,100.05 573.25,101.27 573.5,104.98 573.75,110.64 574,117.4 574.25,124.24 574.5,130.1 574.75,134.09 575,135.57 575.25,134.28 575.5,130.39 575.75,124.47 576,117.4 576.25,110.26 576.5,104.14 576.75,99.98 577,98.45 577.25,99.8 577.5,103.87 577.75,110.04 578,117.4 578.25,124.83 578.5,131.2 578.75,135.51 579,137.1 579.25,135.68 579.5,131.45 579.75,125.04 580,117.4 580.25,109.69 580.5,103.1 580.75,98.63 581,97 581.25,98.47 581.5,102.86 581.75,109.5 582,117.4 582.25,125.37 582.5,132.18 582.75,136.78 583,138.46 583.25,136.93 583.5,132.4 583.75,125.55 584,117.4 584.25,109.2 584.5,102.19 584.75,97.46 585,95.74 585.25,97.32 585.5,101.98 585.75,109.03 586,117.4 586.25,125.82 586.5,133.01 586.75,137.86 587,139.61 587.25,137.98 587.5,133.19 587.75,125.97 588,117.4 588.25,108.78 588.5,101.44 588.75,96.49 589,94.71 589.25,96.39 589.5,101.28 589.75,108.65 590,117.4 590.25,126.19 590.5,133.67 590.75,138.7 591,140.51 591.25,138.79 591.5,133.8 591.75,126.29 592,117.4 592.25,108.47 592.5,100.87 592.75,95.77 593,93.95 593.25,95.7 593.5,100.77 593.75,108.39 594,117.4 594.25,126.44 594.5,134.13 594.75,139.28 595,141.11 595.25,139.33 595.5,134.21 595.75,126.5 596,117.4 596.25,108.28 596.5,100.53 596.75,95.34 597,93.51 597.25,95.31 597.5,100.48 597.75,108.24 598,117.4 598.25,126.57 598.5,134.35 598.75,139.56 599,141.39 599.25,139.57 599.5,134.37 599.75,126.58 600,117.4 600.25,108.22 600.5,100.43 600.75,95.23 601,93.4 601.25,95.23 601.5,100.43 601.75,108.22 602,117.4 602.25,126.58 602.5,134.37 602.75,139.57 603,141.4 603.25,139.57 603.5,134.37 603.75,126.58 604,117.4 604.25,108.22 604.5,100.43 604.75,95.23 605,93.4 605.25,95.24 605.5,100.46 605.75,108.24 606,117.4 606.25,126.55 606.5,134.29 606.75,139.45 607,141.25 607.25,139.42 607.5,134.24 607.75,126.51 608,117.4 608.25,108.31 608.5,100.62 608.75,95.49 609,93.7 609.25,95.52 609.5,100.67 609.75,108.35 610,117.4 610.25,126.43 610.5,134.08 610.75,139.17 611,140.95 611.25,139.14 611.5,134.03 611.75,126.39 612,117.4 612.25,108.42 612.5,100.83 612.75,95.76 613,94 613.25,95.8 613.5,100.88 613.75,108.47 614,117.4 614.25,126.32 614.5,133.87 614.75,138.9 615,140.65 615.25,138.86 615.5,133.81 615.75,126.28 616,117.4 616.25,108.54 616.5,101.04 616.75,96.04 617,94.3 617.25,96.08 617.5,101.09 617.75,108.58 618,117.4 618.25,126.2 618.5,133.65 618.75,138.62 619,140.35 619.25,138.59 619.5,133.6 619.75,126.16 620,117.4 620.25,108.65 620.5,101.25 620.75,96.32 621,94.6 621.25,96.35 621.5,101.3 621.75,108.7 622,117.4 622.25,126.09 622.5,133.44 622.75,138.34 623,140.05 623.25,138.31 623.5,133.39 623.75,126.05 624,117.4 624.25,108.77 624.5,101.46 624.75,96.6 625,94.9 625.25,96.63 625.5,101.52 625.75,108.81 626,117.4 626.25,125.97 626.5,133.23 626.75,138.07 627,139.75 627.25,138.03 627.5,133.18 627.75,125.93 628,117.4 628.25,108.88 628.5,101.68 628.75,96.87 629,95.2 629.25,96.91 629.5,101.73 629.75,108.93 630,117.4 630.25,125.86 630.5,133.02 630.75,137.79 631,139.45 631.25,137.75 631.5,132.97 631.75,125.82 632,117.4 632.25,109 632.5,101.89 632.75,97.15 633,95.5 633.25,97.18 633.5,101.94 633.75,109.04 634,117.4 634.25,125.74 634.5,132.81 634.75,137.51 635,139.15 635.25,137.48 635.5,132.75 635.75,125.7 636,117.4 636.25,109.11 636.5,102.1 636.75,97.43 637,95.8 637.25,97.46 637.5,102.15 637.75,109.16 638,117.4 638.25,125.63 638.5,132.59 638.75,137.23 639,138.85 639.25,137.2 639.5,132.54 639.75,125.59 640,117.4 640.25,109.23 640.5,102.31 640.75,97.7 641,96.1 641.25,97.74 641.5,102.37 641.75,109.27 642,117.4 642.25,125.52 642.5,132.38 642.75,136.96 643,138.55 643.25,136.92 643.5,132.33 643.75,125.47 644,117.4 644.25,109.34 644.5,102.52 644.75,97.98 645,96.4 645.25,98.02 645.5,102.58 645.75,109.39 646,117.4 646.25,125.4 646.5,132.17 646.75,136.68 647,138.25 647.25,136.65 647.5,132.12 647.75,125.36 648,117.4 648.25,109.46 648.5,102.74 648.75,98.26 649,96.7 649.25,98.29 649.5,102.79 649.75,109.5 650,117.4 650.25,125.29 650.5,131.96 650.75,136.4 651,137.95 651.25,136.37 651.5,131.9 651.75,125.24 652,117.4 652.25,109.57 652.5,102.95 652.75,98.54 653,97 653.25,98.57 653.5,103 653.75,109.61 654,117.4 654.25,125.17 654.5,131.75 654.75,136.13 655,137.65 655.25,136.09 655.5,131.69 655.75,125.13 656,117.4 656.25,109.69 656.5,103.16 656.75,98.81 657,97.3 657.25,98.85 657.5,103.21 657.75,109.73 658,117.4 658.25,125.06 658.5,131.53 658.75,135.85 659,137.35 659.25,135.81 659.5,131.48 659.75,125.01 660,117.4" fill="none" stroke="#f5a040" stroke-width="0.7" />
<polyline points="484,117.86 484.25,118.37 484.5,118.74 484.75,118.9 485,118.83 485.25,118.54 485.5,118.08 485.75,117.52 486,116.94 486.25,116.43 486.5,116.06 486.75,115.9 487,115.97 487.25,116.26 487.5,116.72 487.75,117.28 488,117.86 488.25,118.37 488.5,118.74 488.75,118.9 489,118.83 489.25,118.54 489.5,118.08 489.75,117.52 490,116.94 490.25,116.43 490.5,116.06 490.75,115.9 491,115.97 491.25,116.26 491.5,116.72 491.75,117.28 492,117.86 492.25,118.37 492.5,118.74 492.75,118.9 493,118.83 493.25,118.54 493.5,118.08 493.75,117.52 494,116.94 494.25,116.43 494.5,116.06 494.75,115.9 495,115.97 495.25,116.26 495.5,116.72 495.75,117.28 496,117.86 496.25,118.37 496.5,118.74 496.75,118.9 497,118.83 497.25,118.54 497.5,118.08 497.75,117.52 498,116.94 498.25,116.43 498.5,116.06 498.75,115.9 499,115.97 499.25,116.26 499.5,116.72 499.75,117.28 500,117.86 500.25,118.37 500.5,118.74 500.75,118.9 501,118.83 501.25,118.54 501.5,118.08 501.75,117.52 502,116.94 502.25,116.43 502.5,116.06 502.75,115.9 503,115.97 503.25,116.26 503.5,116.72 503.75,117.28 504,117.86 504.25,118.37 504.5,118.74 504.75,118.9 505,118.83 505.25,118.54 505.5,118.08 505.75,117.52 506,116.94 506.25,116.43 506.5,116.06 506.75,115.9 507,115.97 507.25,116.26 507.5,116.72 507.75,117.28 508,117.86 508.25,118.37 508.5,118.74 508.75,118.9 509,118.83 509.25,118.54 509.5,118.08 509.75,117.52 510,116.94 510.25,116.43 510.5,116.06 510.75,115.9 511,115.97 511.25,116.26 511.5,116.72 511.75,117.28 512,117.86 512.25,118.37 512.5,118.74 512.75,118.9 513,118.83 513.25,118.54 513.5,118.08 513.75,117.52 514,116.94 514.25,116.43 514.5,116.06 514.75,115.9 515,115.97 515.25,116.26 515.5,116.72 515.75,117.28 516,117.86 516.25,118.37 516.5,118.74 516.75,118.9 517,118.83 517.25,118.54 517.5,118.08 517.75,117.52 518,116.94 518.25,116.43 518.5,116.06 518.75,115.9 519,115.97 519.25,116.26 519.5,116.72 519.75,117.28 520,117.86 520.25,118.37 520.5,118.74 520.75,118.9 521,118.83 521.25,118.54 521.5,118.08 521.75,117.52 522,116.94 522.25,116.43 522.5,116.06 522.75,115.9 523,115.97 523.25,116.26 523.5,116.72 523.75,117.28 524,117.86 524.25,118.37 524.5,118.74 524.75,118.9 525,118.83 525.25,118.54 525.5,118.08 525.75,117.52 526,116.93 526.25,116.41 526.5,116.04 526.75,115.87 527,115.93 527.25,116.21 527.5,116.69 527.75,117.28 528,117.9 528.25,118.45 528.5,118.86 528.75,119.06 529,119 529.25,118.7 529.5,118.19 529.75,117.54 530,116.85 530.25,116.22 530.5,115.76 530.75,115.53 531,115.58 531.25,115.92 531.5,116.5 531.75,117.24 532,118.03 532.25,118.76 532.5,119.3 532.75,119.56 533,119.51 533.25,119.12 533.5,118.44 533.75,117.58 534,116.66 534.25,115.81 534.5,115.18 534.75,114.87 535,114.93 535.25,115.39 535.5,116.17 535.75,117.18 536,118.27 536.25,119.26 536.5,120.01 536.75,120.37 537,120.29 537.25,119.76 537.5,118.84 537.75,117.65 538,116.38 538.25,115.22 538.5,114.35 538.75,113.92 539,114.01 539.25,114.64 539.5,115.72 539.75,117.1 540,118.59 540.25,119.94 540.5,120.95 540.75,121.45 541,121.33 541.25,120.6 541.5,119.35 541.75,117.74 542,116.03 542.25,114.46 542.5,113.3 542.75,112.73 543,112.87 543.25,113.71 543.5,115.16 543.75,117.01 544,118.98 544.25,120.77 544.5,122.1 544.75,122.74 545,122.58 545.25,121.61 545.5,119.95 545.75,117.85 546,115.61 546.25,113.57 546.5,112.07 546.75,111.34 547,111.53 547.25,112.64 547.5,114.51 547.75,116.89 548,119.42 548.25,121.72 548.5,123.41 548.75,124.22 549,124 549.25,122.75 549.5,120.64 549.75,117.97 550,115.13 550.25,112.57 550.5,110.69 550.75,109.79 551,110.04 551.25,111.44 551.5,113.79 551.75,116.77 552,119.92 552.25,122.76 552.5,124.85 552.75,125.84 553,125.55 553.25,123.99 553.5,121.39 553.75,118.1 554,114.62 554.25,111.49 554.5,109.2 554.75,108.12 555,108.44 555.25,110.15 555.5,113.03 555.75,116.64 556,120.45 556.25,123.87 556.5,126.38 556.75,127.55 557,127.19 557.25,125.31 557.5,122.17 557.75,118.23 558,114.08 558.25,110.36 558.5,107.64 558.75,106.37 559,106.77 559.25,108.81 559.5,112.22 559.75,116.5 560,120.99 560.25,125.02 560.5,127.96 560.75,129.33 561,128.88 561.25,126.67 561.5,122.98 561.75,118.37 562,113.53 562.25,109.19 562.5,106.04 562.75,104.58 563,105.06 563.25,107.45 563.5,111.41 563.75,116.36 564,121.55 564.25,126.19 564.5,129.56 564.75,131.12 565,130.59 565.25,128.03 565.5,123.8 565.75,118.51 566,112.97 566.25,108.03 566.5,104.44 566.75,102.79 567,103.36 567.25,106.09 567.5,110.6 567.75,116.22 568,122.1 568.25,127.35 568.5,131.15 568.75,132.89 569,132.28 569.25,129.38 569.5,124.6 569.75,118.65 570,112.43 570.25,106.89 570.5,102.88 570.75,101.05 571,101.7 571.25,104.77 571.5,109.81 571.75,116.08 572,122.63 572.25,128.47 572.5,132.67 572.75,134.59 573,133.9 573.25,130.67 573.5,125.37 573.75,118.79 574,111.91 574.25,105.8 574.5,101.39 574.75,99.39 575,100.12 575.25,103.51 575.5,109.06 575.75,115.95 576,123.14 576.25,129.52 576.5,134.11 576.75,136.2 577,135.42 577.25,131.88 577.5,126.09 577.75,118.91 578,111.43 578.25,104.79 578.5,100.01 578.75,97.86 579,98.67 579.25,102.35 579.5,108.38 579.75,115.83 580,123.6 580.25,130.48 580.5,135.42 580.75,137.65 581,136.8 581.25,132.98 581.5,126.74 581.75,119.02 582,110.99 582.25,103.88 582.5,98.78 582.75,96.49 583,97.37 583.25,101.33 583.5,107.77 583.75,115.73 584,124 584.25,131.32 584.5,136.57 584.75,138.92 585,138 585.25,133.92 585.5,127.3 585.75,119.12 586,110.62 586.25,103.11 586.5,97.73 586.75,95.33 587,96.28 587.25,100.47 587.5,107.26 587.75,115.64 588,124.34 588.25,132.02 588.5,137.51 588.75,139.96 589,138.98 589.25,134.7 589.5,127.75 589.75,119.19 590,110.32 590.25,102.49 590.5,96.9 590.75,94.41 591,95.43 591.25,99.79 591.5,106.87 591.75,115.58 592,124.6 592.25,132.55 592.5,138.22 592.75,140.74 593,139.7 593.25,135.26 593.5,128.08 593.75,119.25 594,110.11 594.25,102.06 594.5,96.32 594.75,93.79 595,94.85 595.25,99.35 595.5,106.61 595.75,115.53 596,124.76 596.25,132.88 596.5,138.66 596.75,141.2 597,140.13 597.25,135.58 597.5,128.26 597.75,119.28 598,110 598.25,101.84 598.5,96.04 598.75,93.49 599,94.59 599.25,99.16 599.5,106.51 599.75,115.52 600,124.82 600.25,132.99 600.5,138.78 600.75,141.33 601,140.23 601.25,135.65 601.5,128.3 601.75,119.28 602,109.98 602.25,101.81 602.5,96.02 602.75,93.47 603,94.57 603.25,99.15 603.5,106.5 603.75,115.52 604,124.82 604.25,132.99 604.5,138.78 604.75,141.33 605,140.23 605.25,135.62 605.5,128.26 605.75,119.27 606,110.03 606.25,101.94 606.5,96.23 606.75,93.75 607,94.88 607.25,99.42 607.5,106.69 607.75,115.55 608,124.67 608.25,132.65 608.5,138.29 608.75,140.73 609,139.62 609.25,135.13 609.5,127.97 609.75,119.22 610,110.23 610.25,102.36 610.5,96.8 610.75,94.39 611,95.49 611.25,99.91 611.5,106.98 611.75,115.6 612,124.47 612.25,132.23 612.5,137.71 612.75,140.09 613,139.01 613.25,134.65 613.5,127.68 613.75,119.17 614,110.43 614.25,102.77 614.5,97.37 614.75,95.03 615,96.1 615.25,100.4 615.5,107.27 615.75,115.65 616,124.27 616.25,131.82 616.5,137.14 616.75,139.45 617,138.4 617.25,134.16 617.5,127.39 617.75,119.12 618,110.63 618.25,103.19 618.5,97.94 618.75,95.67 619,96.71 619.25,100.88 619.5,107.56 619.75,115.7 620,124.07 620.25,131.4 620.5,136.57 620.75,138.81 621,137.79 621.25,133.67 621.5,127.1 621.75,119.07 622,110.82 622.25,103.61 622.5,98.51 622.75,96.31 623,97.31 623.25,101.37 623.5,107.85 623.75,115.75 624,123.88 624.25,130.99 624.5,136 624.75,138.18 625,137.18 625.25,133.19 625.5,126.81 625.75,119.02 626,111.02 626.25,104.02 626.5,99.08 626.75,96.94 627,97.92 627.25,101.86 627.5,108.14 627.75,115.8 628,123.68 628.25,130.57 628.5,135.43 628.75,137.54 629,136.57 629.25,132.7 629.5,126.52 629.75,118.97 630,111.22 630.25,104.44 630.5,99.65 630.75,97.58 631,98.53 631.25,102.34 631.5,108.43 631.75,115.85 632,123.48 632.25,130.16 632.5,134.86 632.75,136.9 633,135.96 633.25,132.21 633.5,126.23 633.75,118.92 634,111.42 634.25,104.85 634.5,100.22 634.75,98.22 635,99.14 635.25,102.83 635.5,108.72 635.75,115.9 636,123.28 636.25,129.74 636.5,134.29 636.75,136.26 637,135.36 637.25,131.73 637.5,125.94 637.75,118.87 638,111.62 638.25,105.27 638.5,100.79 638.75,98.86 639,99.75 639.25,103.32 639.5,109.01 639.75,115.95 640,123.09 640.25,129.32 640.5,133.72 640.75,135.62 641,134.75 641.25,131.24 641.5,125.64 641.75,118.82 642,111.81 642.25,105.68 642.5,101.36 642.75,99.5 643,100.36 643.25,103.8 643.5,109.3 643.75,116 644,122.89 644.25,128.91 644.5,133.15 644.75,134.99 645,134.14 645.25,130.75 645.5,125.35 645.75,118.77 646,112.01 646.25,106.1 646.5,101.93 646.75,100.13 647,100.97 647.25,104.29 647.5,109.59 647.75,116.05 648,122.69 648.25,128.49 648.5,132.58 648.75,134.35 649,133.53 649.25,130.27 649.5,125.06 649.75,118.72 650,112.21 650.25,106.52 650.5,102.5 650.75,100.77 651,101.57 651.25,104.78 651.5,109.88 651.75,116.1 652,122.49 652.25,128.08 652.5,132.01 652.75,133.71 653,132.92 653.25,129.78 653.5,124.77 653.75,118.67 654,112.41 654.25,106.93 654.5,103.07 654.75,101.41 655,102.18 655.25,105.26 655.5,110.17 655.75,116.15 656,122.29 656.25,127.66 656.5,131.44 656.75,133.07 657,132.31 657.25,129.29 657.5,124.48 657.75,118.62 658,112.6 658.25,107.35 658.5,103.64 658.75,102.05 659,102.79 659.25,105.75 659.5,110.46 659.75,116.2 660,122.1" fill="none" stroke="#9636ae" stroke-width="0.85" />
</g>
<line x1="501.6" y1="148.2" x2="501.6" y2="146.7" stroke="#000" stroke-width="0.6" />
<line x1="501.6" y1="87.5" x2="501.6" y2="89" stroke="#000" stroke-width="0.6" />
<line x1="527.9" y1="148.2" x2="527.9" y2="146.7" stroke="#000" stroke-width="0.6" />
<line x1="527.9" y1="87.5" x2="527.9" y2="89" stroke="#000" stroke-width="0.6" />
<line x1="554.2" y1="148.2" x2="554.2" y2="146.7" stroke="#000" stroke-width="0.6" />
<line x1="554.2" y1="87.5" x2="554.2" y2="89" stroke="#000" stroke-width="0.6" />
<line x1="580.5" y1="148.2" x2="580.5" y2="146.7" stroke="#000" stroke-width="0.6" />
<line x1="580.5" y1="87.5" x2="580.5" y2="89" stroke="#000" stroke-width="0.6" />
<line x1="606.8" y1="148.2" x2="606.8" y2="146.7" stroke="#000" stroke-width="0.6" />
<line x1="606.8" y1="87.5" x2="606.8" y2="89" stroke="#000" stroke-width="0.6" />
<line x1="633.11" y1="148.2" x2="633.11" y2="146.7" stroke="#000" stroke-width="0.6" />
<line x1="633.11" y1="87.5" x2="633.11" y2="89" stroke="#000" stroke-width="0.6" />
<line x1="659.41" y1="148.2" x2="659.41" y2="146.7" stroke="#000" stroke-width="0.6" />
<line x1="659.41" y1="87.5" x2="659.41" y2="89" stroke="#000" stroke-width="0.6" />
<line x1="484.3" y1="90.08" x2="485.8" y2="90.08" stroke="#000" stroke-width="0.6" />
<line x1="659.3" y1="90.08" x2="657.8" y2="90.08" stroke="#000" stroke-width="0.6" />
<line x1="484.3" y1="96.91" x2="485.8" y2="96.91" stroke="#000" stroke-width="0.6" />
<line x1="659.3" y1="96.91" x2="657.8" y2="96.91" stroke="#000" stroke-width="0.6" />
<line x1="484.3" y1="103.74" x2="485.8" y2="103.74" stroke="#000" stroke-width="0.6" />
<line x1="659.3" y1="103.74" x2="657.8" y2="103.74" stroke="#000" stroke-width="0.6" />
<line x1="484.3" y1="110.57" x2="485.8" y2="110.57" stroke="#000" stroke-width="0.6" />
<line x1="659.3" y1="110.57" x2="657.8" y2="110.57" stroke="#000" stroke-width="0.6" />
<line x1="484.3" y1="117.4" x2="485.8" y2="117.4" stroke="#000" stroke-width="0.6" />
<line x1="659.3" y1="117.4" x2="657.8" y2="117.4" stroke="#000" stroke-width="0.6" />
<line x1="484.3" y1="124.23" x2="485.8" y2="124.23" stroke="#000" stroke-width="0.6" />
<line x1="659.3" y1="124.23" x2="657.8" y2="124.23" stroke="#000" stroke-width="0.6" />
<line x1="484.3" y1="131.06" x2="485.8" y2="131.06" stroke="#000" stroke-width="0.6" />
<line x1="659.3" y1="131.06" x2="657.8" y2="131.06" stroke="#000" stroke-width="0.6" />
<line x1="484.3" y1="137.89" x2="485.8" y2="137.89" stroke="#000" stroke-width="0.6" />
<line x1="659.3" y1="137.89" x2="657.8" y2="137.89" stroke="#000" stroke-width="0.6" />
<line x1="484.3" y1="144.72" x2="485.8" y2="144.72" stroke="#000" stroke-width="0.6" />
<line x1="659.3" y1="144.72" x2="657.8" y2="144.72" stroke="#000" stroke-width="0.6" />
<rect x="484.3" y="87.5" width="175" height="60.7" fill="none" stroke="#000" stroke-width="0.8" />
<rect x="502" y="91.8" width="49.4" height="12.4" fill="#fff" stroke="#c8c8c8" stroke-width="0.4" />
<line x1="504" y1="95.1" x2="513" y2="95.1" stroke="#f5a040" stroke-width="0.7" />
<text x="515.5" y="95.1" font-size="3.85" font-weight="normal" fill="#111" stroke="#111" stroke-width="0.06" text-anchor="start" dominant-baseline="central" >RX1 (downstream)</text>
<line x1="504" y1="101" x2="513" y2="101" stroke="#9030a8" stroke-width="0.7" />
<text x="515.5" y="101" font-size="3.85" font-weight="normal" fill="#111" stroke="#111" stroke-width="0.06" text-anchor="start" dominant-baseline="central" >RX2 (upstream)</text>
<line x1="514.5" y1="117" x2="514.5" y2="148.2" stroke="#ee1c24" stroke-width="0.7" />
<line x1="485" y1="127.7" x2="514.3" y2="127.7" stroke="#ee1c24" stroke-width="0.7" />
<polygon points="514.3,127.7 511.8,126.6 511.8,128.8" fill="#ee1c24" stroke="none" stroke-width="0.5" />
<text x="496.1" y="133.7" font-size="5.7" font-weight="bold" fill="#ee1c24" stroke="#ee1c24" stroke-width="0.2" text-anchor="middle" dominant-baseline="central" >ToF</text>
<text x="501.5" y="140.5" font-size="5.8" font-weight="bold" fill="#ee1c24" stroke="#ee1c24" stroke-width="0.2" text-anchor="middle" dominant-baseline="central" >~475 µs</text>
<text x="476.6" y="90.08" font-size="5.9" font-weight="bold" fill="#111" stroke="#111" stroke-width="0.2" text-anchor="middle" dominant-baseline="central" >0.8</text>
<text x="476.6" y="96.91" font-size="5.9" font-weight="bold" fill="#111" stroke="#111" stroke-width="0.2" text-anchor="middle" dominant-baseline="central" >0.6</text>
<text x="476.6" y="103.74" font-size="5.9" font-weight="bold" fill="#111" stroke="#111" stroke-width="0.2" text-anchor="middle" dominant-baseline="central" >0.4</text>
<text x="476.6" y="110.57" font-size="5.9" font-weight="bold" fill="#111" stroke="#111" stroke-width="0.2" text-anchor="middle" dominant-baseline="central" >0.2</text>
<text x="476.6" y="117.4" font-size="5.9" font-weight="bold" fill="#111" stroke="#111" stroke-width="0.2" text-anchor="middle" dominant-baseline="central" >0.0</text>
<text x="476.6" y="124.23" font-size="5.9" font-weight="bold" fill="#111" stroke="#111" stroke-width="0.2" text-anchor="middle" dominant-baseline="central" >−0.2</text>
<text x="476.6" y="131.06" font-size="5.9" font-weight="bold" fill="#111" stroke="#111" stroke-width="0.2" text-anchor="middle" dominant-baseline="central" >−0.4</text>
<text x="476.6" y="137.89" font-size="5.9" font-weight="bold" fill="#111" stroke="#111" stroke-width="0.2" text-anchor="middle" dominant-baseline="central" >−0.6</text>
<text x="476.6" y="144.72" font-size="5.9" font-weight="bold" fill="#111" stroke="#111" stroke-width="0.2" text-anchor="middle" dominant-baseline="central" >−0.8</text>
<text x="501.6" y="155.2" font-size="5.5" font-weight="bold" fill="#111" stroke="#111" stroke-width="0.2" text-anchor="middle" dominant-baseline="central" >450</text>
<text x="527.9" y="155.2" font-size="5.5" font-weight="bold" fill="#111" stroke="#111" stroke-width="0.2" text-anchor="middle" dominant-baseline="central" >480</text>
<text x="554.2" y="155.2" font-size="5.5" font-weight="bold" fill="#111" stroke="#111" stroke-width="0.2" text-anchor="middle" dominant-baseline="central" >510</text>
<text x="580.5" y="155.2" font-size="5.5" font-weight="bold" fill="#111" stroke="#111" stroke-width="0.2" text-anchor="middle" dominant-baseline="central" >540</text>
<text x="606.8" y="155.2" font-size="5.5" font-weight="bold" fill="#111" stroke="#111" stroke-width="0.2" text-anchor="middle" dominant-baseline="central" >570</text>
<text x="633.11" y="155.2" font-size="5.5" font-weight="bold" fill="#111" stroke="#111" stroke-width="0.2" text-anchor="middle" dominant-baseline="central" >600</text>
<text x="659.41" y="155.2" font-size="5.5" font-weight="bold" fill="#111" stroke="#111" stroke-width="0.2" text-anchor="middle" dominant-baseline="central" >630</text>
<text x="571.5" y="164.8" font-size="5.8" font-weight="bold" fill="#111" stroke="#111" stroke-width="0.2" text-anchor="middle" dominant-baseline="central" >Time (µs)</text>
<text x="461" y="117.9" font-size="5.8" font-weight="bold" fill="#111" stroke="#111" stroke-width="0.2" text-anchor="middle" dominant-baseline="central" transform="rotate(-90 461 117.9)" >Voltage (V)</text>
<line x1="495.3" y1="172" x2="495.3" y2="301.3" stroke="#e4dcf0" stroke-width="0.5" />
<line x1="517.25" y1="172" x2="517.25" y2="301.3" stroke="#e4dcf0" stroke-width="0.5" />
<line x1="539.2" y1="172" x2="539.2" y2="301.3" stroke="#e4dcf0" stroke-width="0.5" />
<line x1="561.15" y1="172" x2="561.15" y2="301.3" stroke="#e4dcf0" stroke-width="0.5" />
<line x1="583.1" y1="172" x2="583.1" y2="301.3" stroke="#e4dcf0" stroke-width="0.5" />
<line x1="605.05" y1="172" x2="605.05" y2="301.3" stroke="#e4dcf0" stroke-width="0.5" />
<line x1="627" y1="172" x2="627" y2="301.3" stroke="#e4dcf0" stroke-width="0.5" />
<line x1="648.95" y1="172" x2="648.95" y2="301.3" stroke="#e4dcf0" stroke-width="0.5" />
<line x1="484.7" y1="294.2" x2="658.6" y2="294.2" stroke="#e4dcf0" stroke-width="0.5" />
<line x1="484.7" y1="280.75" x2="658.6" y2="280.75" stroke="#e4dcf0" stroke-width="0.5" />
<line x1="484.7" y1="267.3" x2="658.6" y2="267.3" stroke="#e4dcf0" stroke-width="0.5" />
<line x1="484.7" y1="253.85" x2="658.6" y2="253.85" stroke="#e4dcf0" stroke-width="0.5" />
<line x1="484.7" y1="240.4" x2="658.6" y2="240.4" stroke="#e4dcf0" stroke-width="0.5" />
<line x1="484.7" y1="226.95" x2="658.6" y2="226.95" stroke="#e4dcf0" stroke-width="0.5" />
<line x1="484.7" y1="213.5" x2="658.6" y2="213.5" stroke="#e4dcf0" stroke-width="0.5" />
<line x1="484.7" y1="200.05" x2="658.6" y2="200.05" stroke="#e4dcf0" stroke-width="0.5" />
<line x1="484.7" y1="186.6" x2="658.6" y2="186.6" stroke="#e4dcf0" stroke-width="0.5" />
<line x1="484.7" y1="173.15" x2="658.6" y2="173.15" stroke="#e4dcf0" stroke-width="0.5" />
<line x1="497.5" y1="172" x2="497.5" y2="301.3" stroke="#ece6f4" stroke-width="0.4" stroke-dasharray="0.6 1.2"/>
<line x1="519.45" y1="172" x2="519.45" y2="301.3" stroke="#ece6f4" stroke-width="0.4" stroke-dasharray="0.6 1.2"/>
<line x1="541.39" y1="172" x2="541.39" y2="301.3" stroke="#ece6f4" stroke-width="0.4" stroke-dasharray="0.6 1.2"/>
<line x1="563.35" y1="172" x2="563.35" y2="301.3" stroke="#ece6f4" stroke-width="0.4" stroke-dasharray="0.6 1.2"/>
<line x1="585.29" y1="172" x2="585.29" y2="301.3" stroke="#ece6f4" stroke-width="0.4" stroke-dasharray="0.6 1.2"/>
<line x1="607.25" y1="172" x2="607.25" y2="301.3" stroke="#ece6f4" stroke-width="0.4" stroke-dasharray="0.6 1.2"/>
<line x1="629.19" y1="172" x2="629.19" y2="301.3" stroke="#ece6f4" stroke-width="0.4" stroke-dasharray="0.6 1.2"/>
<line x1="651.14" y1="172" x2="651.14" y2="301.3" stroke="#ece6f4" stroke-width="0.4" stroke-dasharray="0.6 1.2"/>
<polyline points="495.3,221 508.7,234.4 512.7,236.4 532.7,247.5" fill="none" stroke="#8e8e8e" stroke-width="1.6" stroke-linejoin="round" stroke-linecap="round"/>
<line x1="501.5" y1="226.1" x2="504.5" y2="230.5" stroke="#888" stroke-width="0.5" />
<line x1="500.8" y1="229.5" x2="505.2" y2="227.1" stroke="#888" stroke-width="0.5" />
<line x1="509" y1="232.6" x2="512" y2="237" stroke="#888" stroke-width="0.5" />
<line x1="508.3" y1="236" x2="512.7" y2="233.6" stroke="#888" stroke-width="0.5" />
<line x1="522.5" y1="240.3" x2="525.5" y2="244.7" stroke="#888" stroke-width="0.5" />
<line x1="521.8" y1="243.7" x2="526.2" y2="241.3" stroke="#888" stroke-width="0.5" />
<polyline points="531.4,218.4 542,217.7 551.4,223 555.4,216.3 560,215" fill="none" stroke="#a8a8a8" stroke-width="1.8" stroke-linejoin="round"/>
<polyline points="531.4,218 542,217.3 551.4,222.6 555.4,215.9 560,214.6" fill="none" stroke="#d8d8d8" stroke-width="0.5" stroke-linejoin="round"/>
<rect x="530.5" y="216.2" width="2.5" height="4.2" fill="#909090" stroke="none" stroke-width="0.8" />
<polyline points="589.8,252.6 604.5,245.2 619.2,247.2 630.6,233 642,228.9 647,226.1" fill="none" stroke="#909090" stroke-width="2.8" stroke-linejoin="round"/>
<polyline points="589.8,252.6 604.5,245.2 619.2,247.2 630.6,233 642,228.9 647,226.1" fill="none" stroke="#78c040" stroke-width="1.8" stroke-linejoin="round"/>
<polyline points="589.8,252.6 604.5,245.2 619.2,247.2 630.6,233 642,228.9 647,226.1" fill="none" stroke="#d8e040" stroke-width="0.6" stroke-linejoin="round"/>
<line x1="586" y1="254.5" x2="590" y2="252.5" stroke="#3070d0" stroke-width="1.2" />
<line x1="645" y1="226.8" x2="650" y2="224" stroke="#3070d0" stroke-width="1.2" />
<line x1="598.5" y1="245.5" x2="601.5" y2="248.5" stroke="#777" stroke-width="0.5" />
<line x1="619.5" y1="247" x2="622.5" y2="250" stroke="#777" stroke-width="0.5" />
<line x1="630.5" y1="230.5" x2="633.5" y2="233.5" stroke="#777" stroke-width="0.5" />
<line x1="641.5" y1="227" x2="644.5" y2="230" stroke="#777" stroke-width="0.5" />
<line x1="495.3" y1="294.5" x2="658.6" y2="175.3" stroke="#6aaee0" stroke-width="0.8" />
<polygon points="497.3,290.4 499.3,292.4 497.3,294.4 495.3,292.4" fill="#2a74ba" stroke="none" stroke-width="0.5" />
<polygon points="499.6,289.8 501.6,291.8 499.6,293.8 497.6,291.8" fill="#2a74ba" stroke="none" stroke-width="0.5" />
<polygon points="501.9,288.3 503.9,290.3 501.9,292.3 499.9,290.3" fill="#2a74ba" stroke="none" stroke-width="0.5" />
<polygon points="503.9,287.5 505.9,289.5 503.9,291.5 501.9,289.5" fill="#2a74ba" stroke="none" stroke-width="0.5" />
<polygon points="506.4,284.6 508.4,286.6 506.4,288.6 504.4,286.6" fill="#2a74ba" stroke="none" stroke-width="0.5" />
<polygon points="508.7,284.1 510.7,286.1 508.7,288.1 506.7,286.1" fill="#2a74ba" stroke="none" stroke-width="0.5" />
<polygon points="510.2,283.5 512.2,285.5 510.2,287.5 508.2,285.5" fill="#2a74ba" stroke="none" stroke-width="0.5" />
<polygon points="511.6,282.7 513.6,284.7 511.6,286.7 509.6,284.7" fill="#2a74ba" stroke="none" stroke-width="0.5" />
<polygon points="513.5,281.6 515.5,283.6 513.5,285.6 511.5,283.6" fill="#2a74ba" stroke="none" stroke-width="0.5" />
<polygon points="515,278.9 517,280.9 515,282.9 513,280.9" fill="#2a74ba" stroke="none" stroke-width="0.5" />
<polygon points="517.4,275 519.4,277 517.4,279 515.4,277" fill="#2a74ba" stroke="none" stroke-width="0.5" />
<polygon points="521.8,271 523.8,273 521.8,275 519.8,273" fill="#2a74ba" stroke="none" stroke-width="0.5" />
<polygon points="526.2,270 528.2,272 526.2,274 524.2,272" fill="#2a74ba" stroke="none" stroke-width="0.5" />
<polygon points="530.5,265.8 532.5,267.8 530.5,269.8 528.5,267.8" fill="#2a74ba" stroke="none" stroke-width="0.5" />
<polygon points="534.9,263.4 536.9,265.4 534.9,267.4 532.9,265.4" fill="#2a74ba" stroke="none" stroke-width="0.5" />
<polygon points="539.3,256.1 541.3,258.1 539.3,260.1 537.3,258.1" fill="#2a74ba" stroke="none" stroke-width="0.5" />
<polygon points="543.6,253.8 545.6,255.8 543.6,257.8 541.6,255.8" fill="#2a74ba" stroke="none" stroke-width="0.5" />
<polygon points="547.8,250 549.8,252 547.8,254 545.8,252" fill="#2a74ba" stroke="none" stroke-width="0.5" />
<polygon points="552,246.1 554,248.1 552,250.1 550,248.1" fill="#2a74ba" stroke="none" stroke-width="0.5" />
<polygon points="556.5,244.2 558.5,246.2 556.5,248.2 554.5,246.2" fill="#2a74ba" stroke="none" stroke-width="0.5" />
<polygon points="560.9,242.1 562.9,244.1 560.9,246.1 558.9,244.1" fill="#2a74ba" stroke="none" stroke-width="0.5" />
<polygon points="568,235.3 570,237.3 568,239.3 566,237.3" fill="#2a74ba" stroke="none" stroke-width="0.5" />
<polygon points="582.7,224.7 584.7,226.7 582.7,228.7 580.7,226.7" fill="#2a74ba" stroke="none" stroke-width="0.5" />
<polygon points="595,216 597,218 595,220 593,218" fill="#2a74ba" stroke="none" stroke-width="0.5" />
<polygon points="605,209.5 607,211.5 605,213.5 603,211.5" fill="#2a74ba" stroke="none" stroke-width="0.5" />
<polygon points="626.9,195.3 628.9,197.3 626.9,199.3 624.9,197.3" fill="#2a74ba" stroke="none" stroke-width="0.5" />
<polygon points="648.2,178.2 650.2,180.2 648.2,182.2 646.2,180.2" fill="#2a74ba" stroke="none" stroke-width="0.5" />
<line x1="495.3" y1="301.3" x2="495.3" y2="299.8" stroke="#000" stroke-width="0.6" />
<line x1="495.3" y1="172" x2="495.3" y2="173.5" stroke="#000" stroke-width="0.6" />
<line x1="517.25" y1="301.3" x2="517.25" y2="299.8" stroke="#000" stroke-width="0.6" />
<line x1="517.25" y1="172" x2="517.25" y2="173.5" stroke="#000" stroke-width="0.6" />
<line x1="539.2" y1="301.3" x2="539.2" y2="299.8" stroke="#000" stroke-width="0.6" />
<line x1="539.2" y1="172" x2="539.2" y2="173.5" stroke="#000" stroke-width="0.6" />
<line x1="561.15" y1="301.3" x2="561.15" y2="299.8" stroke="#000" stroke-width="0.6" />
<line x1="561.15" y1="172" x2="561.15" y2="173.5" stroke="#000" stroke-width="0.6" />
<line x1="583.1" y1="301.3" x2="583.1" y2="299.8" stroke="#000" stroke-width="0.6" />
<line x1="583.1" y1="172" x2="583.1" y2="173.5" stroke="#000" stroke-width="0.6" />
<line x1="605.05" y1="301.3" x2="605.05" y2="299.8" stroke="#000" stroke-width="0.6" />
<line x1="605.05" y1="172" x2="605.05" y2="173.5" stroke="#000" stroke-width="0.6" />
<line x1="627" y1="301.3" x2="627" y2="299.8" stroke="#000" stroke-width="0.6" />
<line x1="627" y1="172" x2="627" y2="173.5" stroke="#000" stroke-width="0.6" />
<line x1="648.95" y1="301.3" x2="648.95" y2="299.8" stroke="#000" stroke-width="0.6" />
<line x1="648.95" y1="172" x2="648.95" y2="173.5" stroke="#000" stroke-width="0.6" />
<line x1="484.7" y1="294.2" x2="486.2" y2="294.2" stroke="#000" stroke-width="0.6" />
<line x1="658.6" y1="294.2" x2="657.1" y2="294.2" stroke="#000" stroke-width="0.6" />
<line x1="484.7" y1="280.75" x2="486.2" y2="280.75" stroke="#000" stroke-width="0.6" />
<line x1="658.6" y1="280.75" x2="657.1" y2="280.75" stroke="#000" stroke-width="0.6" />
<line x1="484.7" y1="267.3" x2="486.2" y2="267.3" stroke="#000" stroke-width="0.6" />
<line x1="658.6" y1="267.3" x2="657.1" y2="267.3" stroke="#000" stroke-width="0.6" />
<line x1="484.7" y1="253.85" x2="486.2" y2="253.85" stroke="#000" stroke-width="0.6" />
<line x1="658.6" y1="253.85" x2="657.1" y2="253.85" stroke="#000" stroke-width="0.6" />
<line x1="484.7" y1="240.4" x2="486.2" y2="240.4" stroke="#000" stroke-width="0.6" />
<line x1="658.6" y1="240.4" x2="657.1" y2="240.4" stroke="#000" stroke-width="0.6" />
<line x1="484.7" y1="226.95" x2="486.2" y2="226.95" stroke="#000" stroke-width="0.6" />
<line x1="658.6" y1="226.95" x2="657.1" y2="226.95" stroke="#000" stroke-width="0.6" />
<line x1="484.7" y1="213.5" x2="486.2" y2="213.5" stroke="#000" stroke-width="0.6" />
<line x1="658.6" y1="213.5" x2="657.1" y2="213.5" stroke="#000" stroke-width="0.6" />
<line x1="484.7" y1="200.05" x2="486.2" y2="200.05" stroke="#000" stroke-width="0.6" />
<line x1="658.6" y1="200.05" x2="657.1" y2="200.05" stroke="#000" stroke-width="0.6" />
<line x1="484.7" y1="186.6" x2="486.2" y2="186.6" stroke="#000" stroke-width="0.6" />
<line x1="658.6" y1="186.6" x2="657.1" y2="186.6" stroke="#000" stroke-width="0.6" />
<line x1="484.7" y1="173.15" x2="486.2" y2="173.15" stroke="#000" stroke-width="0.6" />
<line x1="658.6" y1="173.15" x2="657.1" y2="173.15" stroke="#000" stroke-width="0.6" />
<rect x="484.7" y="172" width="173.9" height="129.3" fill="none" stroke="#000" stroke-width="0.8" />
<rect x="496" y="186.4" width="34.6" height="15.1" fill="#fff" stroke="#333" stroke-width="0.4" />
<polygon points="500.4,188.2 502.6,190.4 500.4,192.6 498.2,190.4" fill="#2a72b8" stroke="none" stroke-width="0.5" />
<text x="511" y="190.4" font-size="4.3" font-weight="bold" fill="#111" stroke="#111" stroke-width="0.2" text-anchor="start" dominant-baseline="central" >Measured</text>
<line x1="497.5" y1="197.6" x2="508" y2="197.6" stroke="#78b8e0" stroke-width="0.7" />
<text x="511" y="197.6" font-size="4.3" font-weight="bold" fill="#111" stroke="#111" stroke-width="0.2" text-anchor="start" dominant-baseline="central" >Fitted</text>
<text x="607" y="262.1" font-size="5.6" font-weight="bold" fill="#e85860" stroke="#e85860" stroke-width="0.2" text-anchor="middle" dominant-baseline="central" >Adj. R-Square = 0.99706!</text>
<text x="474.2" y="294.2" font-size="5.7" font-weight="bold" fill="#111" stroke="#111" stroke-width="0.2" text-anchor="middle" dominant-baseline="central" >0</text>
<text x="474.2" y="280.75" font-size="5.7" font-weight="bold" fill="#111" stroke="#111" stroke-width="0.2" text-anchor="middle" dominant-baseline="central" >750</text>
<text x="474.2" y="267.3" font-size="5.7" font-weight="bold" fill="#111" stroke="#111" stroke-width="0.2" text-anchor="middle" dominant-baseline="central" >1500</text>
<text x="474.2" y="253.85" font-size="5.7" font-weight="bold" fill="#111" stroke="#111" stroke-width="0.2" text-anchor="middle" dominant-baseline="central" >2250</text>
<text x="474.2" y="240.4" font-size="5.7" font-weight="bold" fill="#111" stroke="#111" stroke-width="0.2" text-anchor="middle" dominant-baseline="central" >3000</text>
<text x="474.2" y="226.95" font-size="5.7" font-weight="bold" fill="#111" stroke="#111" stroke-width="0.2" text-anchor="middle" dominant-baseline="central" >3750</text>
<text x="474.2" y="213.5" font-size="5.7" font-weight="bold" fill="#111" stroke="#111" stroke-width="0.2" text-anchor="middle" dominant-baseline="central" >4500</text>
<text x="474.2" y="200.05" font-size="5.7" font-weight="bold" fill="#111" stroke="#111" stroke-width="0.2" text-anchor="middle" dominant-baseline="central" >5250</text>
<text x="474.2" y="186.6" font-size="5.7" font-weight="bold" fill="#111" stroke="#111" stroke-width="0.2" text-anchor="middle" dominant-baseline="central" >6000</text>
<text x="474.2" y="173.15" font-size="5.7" font-weight="bold" fill="#111" stroke="#111" stroke-width="0.2" text-anchor="middle" dominant-baseline="central" >6750</text>
<text x="495.3" y="308" font-size="5.5" font-weight="bold" fill="#111" stroke="#111" stroke-width="0.2" text-anchor="middle" dominant-baseline="central" >0</text>
<text x="517.25" y="308" font-size="5.5" font-weight="bold" fill="#111" stroke="#111" stroke-width="0.2" text-anchor="middle" dominant-baseline="central" >5</text>
<text x="539.2" y="308" font-size="5.5" font-weight="bold" fill="#111" stroke="#111" stroke-width="0.2" text-anchor="middle" dominant-baseline="central" >10</text>
<text x="561.15" y="308" font-size="5.5" font-weight="bold" fill="#111" stroke="#111" stroke-width="0.2" text-anchor="middle" dominant-baseline="central" >15</text>
<text x="583.1" y="308" font-size="5.5" font-weight="bold" fill="#111" stroke="#111" stroke-width="0.2" text-anchor="middle" dominant-baseline="central" >20</text>
<text x="605.05" y="308" font-size="5.5" font-weight="bold" fill="#111" stroke="#111" stroke-width="0.2" text-anchor="middle" dominant-baseline="central" >25</text>
<text x="627" y="308" font-size="5.5" font-weight="bold" fill="#111" stroke="#111" stroke-width="0.2" text-anchor="middle" dominant-baseline="central" >30</text>
<text x="648.95" y="308" font-size="5.5" font-weight="bold" fill="#111" stroke="#111" stroke-width="0.2" text-anchor="middle" dominant-baseline="central" >35</text>
<text x="571.5" y="317" font-size="5.6" font-weight="bold" fill="#111" stroke="#111" stroke-width="0.2" text-anchor="middle" dominant-baseline="central" >Reference flow rate (L/min)</text>
<text x="459.2" y="233.6" font-size="6.0" font-weight="normal" fill="#111" stroke="#111" stroke-width="0.06" text-anchor="middle" dominant-baseline="central" transform="rotate(-90 459.2 233.6)" >ΔToF (ns)</text>
<path d="M233.8,164.8 C239,158.5 248,156 256,160.5 L259.3,157.5 L263.5,168.9 L251,170.5 L254,167.5 C247,163.5 240,162.5 233.8,164.8 Z" fill="#5ea544"/>
</svg></body></html>
